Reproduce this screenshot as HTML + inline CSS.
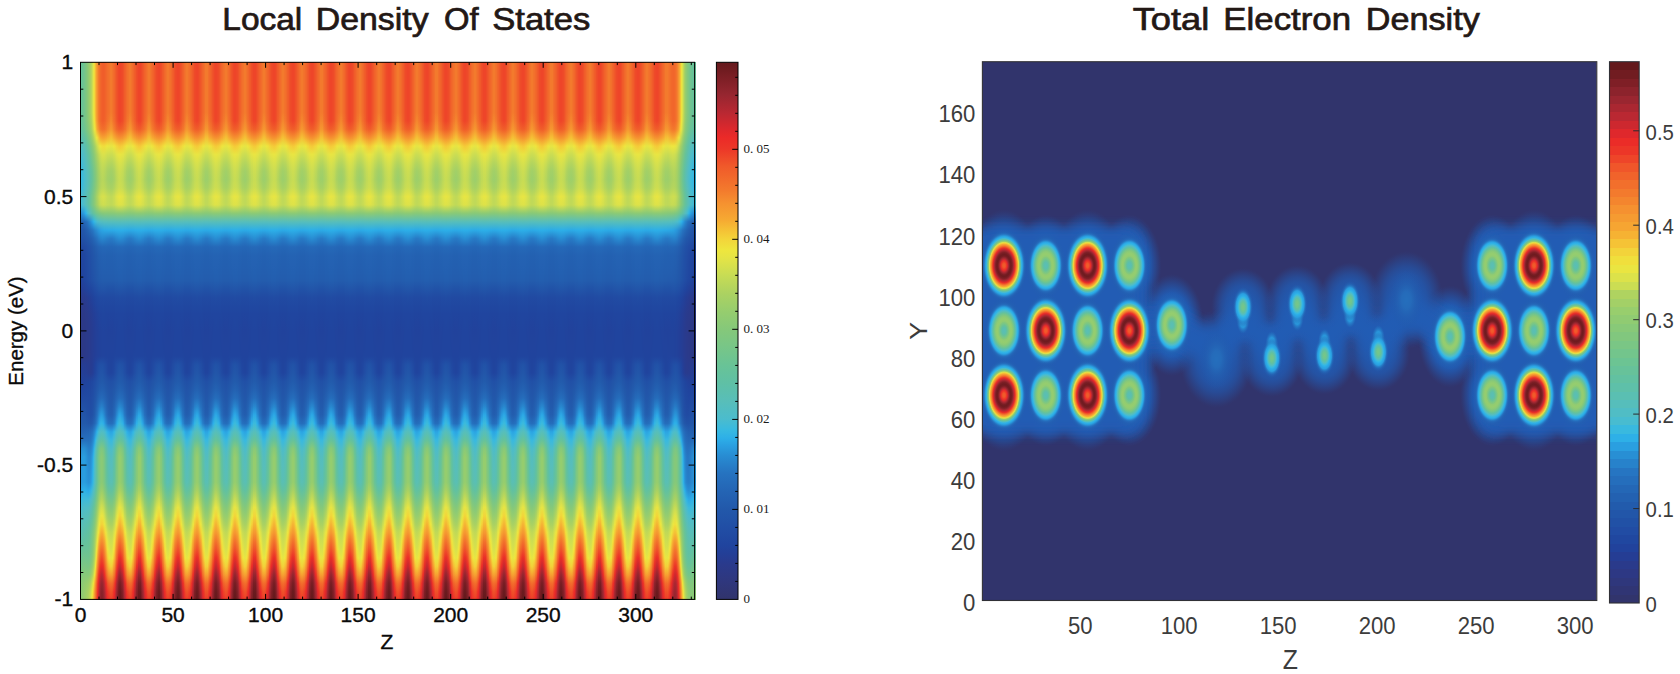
<!DOCTYPE html>
<html><head><meta charset="utf-8"><title>Density plots</title>
<style>html,body{margin:0;padding:0;background:#fff}svg{display:block}text{font-family:"Liberation Sans",sans-serif}</style></head>
<body>
<svg width="1680" height="674" viewBox="0 0 1680 674">
<defs>
<linearGradient id="e80" x1="0" y1="0" x2="0" y2="1"><stop offset="0" stop-color="#66c29a"/><stop offset="0.01562" stop-color="#66c29a"/><stop offset="0.03125" stop-color="#66c29a"/><stop offset="0.04688" stop-color="#66c29a"/><stop offset="0.0625" stop-color="#66c29a"/><stop offset="0.07812" stop-color="#66c29a"/><stop offset="0.09375" stop-color="#66c29a"/><stop offset="0.1094" stop-color="#66c29a"/><stop offset="0.125" stop-color="#63c19f"/><stop offset="0.1406" stop-color="#5bbfb1"/><stop offset="0.1562" stop-color="#51bdc3"/><stop offset="0.1719" stop-color="#48bcd0"/><stop offset="0.1875" stop-color="#3ebada"/><stop offset="0.2031" stop-color="#37b9e1"/><stop offset="0.2188" stop-color="#35b7e2"/><stop offset="0.2344" stop-color="#38b9e0"/><stop offset="0.25" stop-color="#47bbd1"/><stop offset="0.2656" stop-color="#41bad7"/><stop offset="0.2812" stop-color="#288ed3"/><stop offset="0.2969" stop-color="#2461b2"/><stop offset="0.3125" stop-color="#2255a8"/><stop offset="0.3281" stop-color="#2150a6"/><stop offset="0.3438" stop-color="#2047a0"/><stop offset="0.3594" stop-color="#20459f"/><stop offset="0.375" stop-color="#20449e"/><stop offset="0.3906" stop-color="#20439d"/><stop offset="0.4062" stop-color="#21429c"/><stop offset="0.4219" stop-color="#243e95"/><stop offset="0.4375" stop-color="#2a3a8c"/><stop offset="0.4531" stop-color="#2b3989"/><stop offset="0.4688" stop-color="#2c3987"/><stop offset="0.4844" stop-color="#2c3986"/><stop offset="0.5" stop-color="#2c3986"/><stop offset="0.5156" stop-color="#2c3986"/><stop offset="0.5312" stop-color="#2c3986"/><stop offset="0.5469" stop-color="#2c3986"/><stop offset="0.5625" stop-color="#273c91"/><stop offset="0.5781" stop-color="#253e95"/><stop offset="0.5938" stop-color="#224099"/><stop offset="0.6094" stop-color="#20449e"/><stop offset="0.625" stop-color="#2048a1"/><stop offset="0.6406" stop-color="#214ea5"/><stop offset="0.6562" stop-color="#2153a7"/><stop offset="0.6719" stop-color="#2257aa"/><stop offset="0.6875" stop-color="#2360b1"/><stop offset="0.7031" stop-color="#256cba"/><stop offset="0.7188" stop-color="#2886ce"/><stop offset="0.7344" stop-color="#2992d6"/><stop offset="0.75" stop-color="#2992d6"/><stop offset="0.7656" stop-color="#2992d7"/><stop offset="0.7812" stop-color="#2992d7"/><stop offset="0.7969" stop-color="#2aa2e2"/><stop offset="0.8125" stop-color="#32b4e4"/><stop offset="0.8281" stop-color="#43bbd5"/><stop offset="0.8438" stop-color="#4ebcc9"/><stop offset="0.8594" stop-color="#54bdc0"/><stop offset="0.875" stop-color="#59beb5"/><stop offset="0.8906" stop-color="#5dc0a9"/><stop offset="0.9062" stop-color="#63c19f"/><stop offset="0.9219" stop-color="#69c396"/><stop offset="0.9375" stop-color="#73c58c"/><stop offset="0.9531" stop-color="#7cc783"/><stop offset="0.9688" stop-color="#84c87b"/><stop offset="0.9844" stop-color="#88c978"/><stop offset="1" stop-color="#8bca76"/></linearGradient>
<linearGradient id="e81" x1="0" y1="0" x2="0" y2="1"><stop offset="0" stop-color="#67c398"/><stop offset="0.01562" stop-color="#67c398"/><stop offset="0.03125" stop-color="#67c398"/><stop offset="0.04688" stop-color="#67c398"/><stop offset="0.0625" stop-color="#67c398"/><stop offset="0.07812" stop-color="#67c398"/><stop offset="0.09375" stop-color="#67c398"/><stop offset="0.1094" stop-color="#67c398"/><stop offset="0.125" stop-color="#64c19e"/><stop offset="0.1406" stop-color="#5cbfaf"/><stop offset="0.1562" stop-color="#53bdc1"/><stop offset="0.1719" stop-color="#4bbccd"/><stop offset="0.1875" stop-color="#40bad8"/><stop offset="0.2031" stop-color="#3ab9de"/><stop offset="0.2188" stop-color="#37b9e1"/><stop offset="0.2344" stop-color="#3abade"/><stop offset="0.25" stop-color="#49bccf"/><stop offset="0.2656" stop-color="#43bbd5"/><stop offset="0.2812" stop-color="#288fd5"/><stop offset="0.2969" stop-color="#2462b2"/><stop offset="0.3125" stop-color="#2255a9"/><stop offset="0.3281" stop-color="#2150a6"/><stop offset="0.3438" stop-color="#2047a0"/><stop offset="0.3594" stop-color="#20459f"/><stop offset="0.375" stop-color="#20449e"/><stop offset="0.3906" stop-color="#20449d"/><stop offset="0.4062" stop-color="#21429c"/><stop offset="0.4219" stop-color="#243e96"/><stop offset="0.4375" stop-color="#2a3a8c"/><stop offset="0.4531" stop-color="#2b3a8a"/><stop offset="0.4688" stop-color="#2c3987"/><stop offset="0.4844" stop-color="#2c3987"/><stop offset="0.5" stop-color="#2c3986"/><stop offset="0.5156" stop-color="#2c3986"/><stop offset="0.5312" stop-color="#2c3986"/><stop offset="0.5469" stop-color="#2c3986"/><stop offset="0.5625" stop-color="#263c92"/><stop offset="0.5781" stop-color="#243e96"/><stop offset="0.5938" stop-color="#22419a"/><stop offset="0.6094" stop-color="#20449e"/><stop offset="0.625" stop-color="#2049a1"/><stop offset="0.6406" stop-color="#214fa5"/><stop offset="0.6562" stop-color="#2254a8"/><stop offset="0.6719" stop-color="#2258aa"/><stop offset="0.6875" stop-color="#2361b1"/><stop offset="0.7031" stop-color="#256dbc"/><stop offset="0.7188" stop-color="#288bd1"/><stop offset="0.7344" stop-color="#2998db"/><stop offset="0.75" stop-color="#2998db"/><stop offset="0.7656" stop-color="#2998db"/><stop offset="0.7812" stop-color="#2998db"/><stop offset="0.7969" stop-color="#2ca9e5"/><stop offset="0.8125" stop-color="#36b8e1"/><stop offset="0.8281" stop-color="#48bcd0"/><stop offset="0.8438" stop-color="#50bdc5"/><stop offset="0.8594" stop-color="#56bebc"/><stop offset="0.875" stop-color="#5abfb2"/><stop offset="0.8906" stop-color="#5fc0a5"/><stop offset="0.9062" stop-color="#65c29c"/><stop offset="0.9219" stop-color="#6dc492"/><stop offset="0.9375" stop-color="#77c688"/><stop offset="0.9531" stop-color="#80c77f"/><stop offset="0.9688" stop-color="#88c978"/><stop offset="0.9844" stop-color="#8dca75"/><stop offset="1" stop-color="#8fcb73"/></linearGradient>
<linearGradient id="e82" x1="0" y1="0" x2="0" y2="1"><stop offset="0" stop-color="#6ac395"/><stop offset="0.01562" stop-color="#6ac395"/><stop offset="0.03125" stop-color="#6ac395"/><stop offset="0.04688" stop-color="#6ac395"/><stop offset="0.0625" stop-color="#6ac395"/><stop offset="0.07812" stop-color="#6ac395"/><stop offset="0.09375" stop-color="#6ac395"/><stop offset="0.1094" stop-color="#6ac395"/><stop offset="0.125" stop-color="#66c29b"/><stop offset="0.1406" stop-color="#5dbfab"/><stop offset="0.1562" stop-color="#55bebe"/><stop offset="0.1719" stop-color="#4dbcca"/><stop offset="0.1875" stop-color="#45bbd3"/><stop offset="0.2031" stop-color="#3fbad9"/><stop offset="0.2188" stop-color="#3cbadc"/><stop offset="0.2344" stop-color="#3fbad9"/><stop offset="0.25" stop-color="#4cbccb"/><stop offset="0.2656" stop-color="#48bcd0"/><stop offset="0.2812" stop-color="#2994d8"/><stop offset="0.2969" stop-color="#2463b3"/><stop offset="0.3125" stop-color="#2256a9"/><stop offset="0.3281" stop-color="#2151a6"/><stop offset="0.3438" stop-color="#2048a1"/><stop offset="0.3594" stop-color="#20459f"/><stop offset="0.375" stop-color="#20459f"/><stop offset="0.3906" stop-color="#20449e"/><stop offset="0.4062" stop-color="#21439d"/><stop offset="0.4219" stop-color="#243e96"/><stop offset="0.4375" stop-color="#2a3a8d"/><stop offset="0.4531" stop-color="#2b3a8a"/><stop offset="0.4688" stop-color="#2b3988"/><stop offset="0.4844" stop-color="#2c3987"/><stop offset="0.5" stop-color="#2c3986"/><stop offset="0.5156" stop-color="#2c3986"/><stop offset="0.5312" stop-color="#2c3986"/><stop offset="0.5469" stop-color="#2c3986"/><stop offset="0.5625" stop-color="#263d93"/><stop offset="0.5781" stop-color="#243f97"/><stop offset="0.5938" stop-color="#22419b"/><stop offset="0.6094" stop-color="#20459f"/><stop offset="0.625" stop-color="#2149a2"/><stop offset="0.6406" stop-color="#2150a6"/><stop offset="0.6562" stop-color="#2255a8"/><stop offset="0.6719" stop-color="#2259ab"/><stop offset="0.6875" stop-color="#2462b2"/><stop offset="0.7031" stop-color="#256fbd"/><stop offset="0.7188" stop-color="#288fd4"/><stop offset="0.7344" stop-color="#2a9cde"/><stop offset="0.75" stop-color="#2a9cde"/><stop offset="0.7656" stop-color="#2a9cde"/><stop offset="0.7812" stop-color="#2a9cde"/><stop offset="0.7969" stop-color="#2daee8"/><stop offset="0.8125" stop-color="#3bbadd"/><stop offset="0.8281" stop-color="#4cbccc"/><stop offset="0.8438" stop-color="#52bdc2"/><stop offset="0.8594" stop-color="#58beb9"/><stop offset="0.875" stop-color="#5cbfae"/><stop offset="0.8906" stop-color="#61c0a3"/><stop offset="0.9062" stop-color="#67c299"/><stop offset="0.9219" stop-color="#70c48f"/><stop offset="0.9375" stop-color="#7ac685"/><stop offset="0.9531" stop-color="#83c87c"/><stop offset="0.9688" stop-color="#8cca75"/><stop offset="0.9844" stop-color="#91cb72"/><stop offset="1" stop-color="#93cc70"/></linearGradient>
<linearGradient id="e83" x1="0" y1="0" x2="0" y2="1"><stop offset="0" stop-color="#6ec491"/><stop offset="0.01562" stop-color="#6ec491"/><stop offset="0.03125" stop-color="#6ec491"/><stop offset="0.04688" stop-color="#6ec491"/><stop offset="0.0625" stop-color="#6ec491"/><stop offset="0.07812" stop-color="#6ec491"/><stop offset="0.09375" stop-color="#6ec491"/><stop offset="0.1094" stop-color="#6ec491"/><stop offset="0.125" stop-color="#68c397"/><stop offset="0.1406" stop-color="#5fc0a6"/><stop offset="0.1562" stop-color="#58beb9"/><stop offset="0.1719" stop-color="#50bdc5"/><stop offset="0.1875" stop-color="#4cbccc"/><stop offset="0.2031" stop-color="#45bbd3"/><stop offset="0.2188" stop-color="#42bbd6"/><stop offset="0.2344" stop-color="#46bbd2"/><stop offset="0.25" stop-color="#4fbdc6"/><stop offset="0.2656" stop-color="#4dbcca"/><stop offset="0.2812" stop-color="#299bdd"/><stop offset="0.2969" stop-color="#2465b5"/><stop offset="0.3125" stop-color="#2257a9"/><stop offset="0.3281" stop-color="#2152a7"/><stop offset="0.3438" stop-color="#2049a1"/><stop offset="0.3594" stop-color="#2046a0"/><stop offset="0.375" stop-color="#20459f"/><stop offset="0.3906" stop-color="#20459f"/><stop offset="0.4062" stop-color="#20449e"/><stop offset="0.4219" stop-color="#233f97"/><stop offset="0.4375" stop-color="#293b8e"/><stop offset="0.4531" stop-color="#2a3a8b"/><stop offset="0.4688" stop-color="#2b3988"/><stop offset="0.4844" stop-color="#2b3988"/><stop offset="0.5" stop-color="#2c3987"/><stop offset="0.5156" stop-color="#2c3987"/><stop offset="0.5312" stop-color="#2c3987"/><stop offset="0.5469" stop-color="#2c3987"/><stop offset="0.5625" stop-color="#263d93"/><stop offset="0.5781" stop-color="#243f97"/><stop offset="0.5938" stop-color="#21429b"/><stop offset="0.6094" stop-color="#20459f"/><stop offset="0.625" stop-color="#214aa2"/><stop offset="0.6406" stop-color="#2150a6"/><stop offset="0.6562" stop-color="#2255a8"/><stop offset="0.6719" stop-color="#2259ab"/><stop offset="0.6875" stop-color="#2463b3"/><stop offset="0.7031" stop-color="#2670bd"/><stop offset="0.7188" stop-color="#2890d5"/><stop offset="0.7344" stop-color="#2a9edf"/><stop offset="0.75" stop-color="#2a9ee0"/><stop offset="0.7656" stop-color="#2a9ee0"/><stop offset="0.7812" stop-color="#2a9ee0"/><stop offset="0.7969" stop-color="#2eb0e7"/><stop offset="0.8125" stop-color="#3ebada"/><stop offset="0.8281" stop-color="#4dbcc9"/><stop offset="0.8438" stop-color="#54bdbf"/><stop offset="0.8594" stop-color="#59beb6"/><stop offset="0.875" stop-color="#5dbfab"/><stop offset="0.8906" stop-color="#62c1a0"/><stop offset="0.9062" stop-color="#68c397"/><stop offset="0.9219" stop-color="#72c58d"/><stop offset="0.9375" stop-color="#7bc784"/><stop offset="0.9531" stop-color="#85c87a"/><stop offset="0.9688" stop-color="#8fcb73"/><stop offset="0.9844" stop-color="#94cd6f"/><stop offset="1" stop-color="#97cd6d"/></linearGradient>
<linearGradient id="e84" x1="0" y1="0" x2="0" y2="1"><stop offset="0" stop-color="#73c58c"/><stop offset="0.01562" stop-color="#73c58c"/><stop offset="0.03125" stop-color="#73c58c"/><stop offset="0.04688" stop-color="#73c58c"/><stop offset="0.0625" stop-color="#73c58c"/><stop offset="0.07812" stop-color="#73c58c"/><stop offset="0.09375" stop-color="#73c58c"/><stop offset="0.1094" stop-color="#73c58c"/><stop offset="0.125" stop-color="#6dc492"/><stop offset="0.1406" stop-color="#62c1a1"/><stop offset="0.1562" stop-color="#5abfb3"/><stop offset="0.1719" stop-color="#54bdbf"/><stop offset="0.1875" stop-color="#4fbdc7"/><stop offset="0.2031" stop-color="#4cbccc"/><stop offset="0.2188" stop-color="#4abcce"/><stop offset="0.2344" stop-color="#4cbccb"/><stop offset="0.25" stop-color="#53bdc1"/><stop offset="0.2656" stop-color="#51bdc4"/><stop offset="0.2812" stop-color="#2ba4e3"/><stop offset="0.2969" stop-color="#2467b7"/><stop offset="0.3125" stop-color="#2259ab"/><stop offset="0.3281" stop-color="#2153a7"/><stop offset="0.3438" stop-color="#214aa2"/><stop offset="0.3594" stop-color="#2047a0"/><stop offset="0.375" stop-color="#2046a0"/><stop offset="0.3906" stop-color="#20469f"/><stop offset="0.4062" stop-color="#20459f"/><stop offset="0.4219" stop-color="#234098"/><stop offset="0.4375" stop-color="#283b8f"/><stop offset="0.4531" stop-color="#2a3a8c"/><stop offset="0.4688" stop-color="#2b3989"/><stop offset="0.4844" stop-color="#2b3988"/><stop offset="0.5" stop-color="#2b3988"/><stop offset="0.5156" stop-color="#2b3988"/><stop offset="0.5312" stop-color="#2b3988"/><stop offset="0.5469" stop-color="#2b3988"/><stop offset="0.5625" stop-color="#263d93"/><stop offset="0.5781" stop-color="#243e97"/><stop offset="0.5938" stop-color="#21429c"/><stop offset="0.6094" stop-color="#20469f"/><stop offset="0.625" stop-color="#214aa2"/><stop offset="0.6406" stop-color="#2150a6"/><stop offset="0.6562" stop-color="#2254a8"/><stop offset="0.6719" stop-color="#2259ab"/><stop offset="0.6875" stop-color="#2464b4"/><stop offset="0.7031" stop-color="#2670be"/><stop offset="0.7188" stop-color="#288fd4"/><stop offset="0.7344" stop-color="#2a9dde"/><stop offset="0.75" stop-color="#2a9ddf"/><stop offset="0.7656" stop-color="#2a9edf"/><stop offset="0.7812" stop-color="#2a9ee0"/><stop offset="0.7969" stop-color="#2fb1e7"/><stop offset="0.8125" stop-color="#3fbad9"/><stop offset="0.8281" stop-color="#4fbdc8"/><stop offset="0.8438" stop-color="#55bebd"/><stop offset="0.8594" stop-color="#5abfb3"/><stop offset="0.875" stop-color="#5ec0a9"/><stop offset="0.8906" stop-color="#63c19f"/><stop offset="0.9062" stop-color="#69c396"/><stop offset="0.9219" stop-color="#72c58d"/><stop offset="0.9375" stop-color="#7cc783"/><stop offset="0.9531" stop-color="#87c879"/><stop offset="0.9688" stop-color="#92cc71"/><stop offset="0.9844" stop-color="#98ce6d"/><stop offset="1" stop-color="#9cce6a"/></linearGradient>
<linearGradient id="e85" x1="0" y1="0" x2="0" y2="1"><stop offset="0" stop-color="#7ac685"/><stop offset="0.01562" stop-color="#7ac685"/><stop offset="0.03125" stop-color="#7ac685"/><stop offset="0.04688" stop-color="#7ac685"/><stop offset="0.0625" stop-color="#7ac685"/><stop offset="0.07812" stop-color="#7ac685"/><stop offset="0.09375" stop-color="#7ac685"/><stop offset="0.1094" stop-color="#79c686"/><stop offset="0.125" stop-color="#73c58c"/><stop offset="0.1406" stop-color="#66c29b"/><stop offset="0.1562" stop-color="#5dbfac"/><stop offset="0.1719" stop-color="#58beb8"/><stop offset="0.1875" stop-color="#53bdc0"/><stop offset="0.2031" stop-color="#4fbdc6"/><stop offset="0.2188" stop-color="#4ebcc8"/><stop offset="0.2344" stop-color="#50bdc5"/><stop offset="0.25" stop-color="#57beba"/><stop offset="0.2656" stop-color="#55bebd"/><stop offset="0.2812" stop-color="#2eb0e7"/><stop offset="0.2969" stop-color="#256bba"/><stop offset="0.3125" stop-color="#235bad"/><stop offset="0.3281" stop-color="#2254a8"/><stop offset="0.3438" stop-color="#214ba3"/><stop offset="0.3594" stop-color="#2048a1"/><stop offset="0.375" stop-color="#2048a1"/><stop offset="0.3906" stop-color="#2047a0"/><stop offset="0.4062" stop-color="#20469f"/><stop offset="0.4219" stop-color="#22419a"/><stop offset="0.4375" stop-color="#283c90"/><stop offset="0.4531" stop-color="#2a3a8d"/><stop offset="0.4688" stop-color="#2b3a8a"/><stop offset="0.4844" stop-color="#2b3989"/><stop offset="0.5" stop-color="#2b3989"/><stop offset="0.5156" stop-color="#2b3989"/><stop offset="0.5312" stop-color="#2b3989"/><stop offset="0.5469" stop-color="#2b3989"/><stop offset="0.5625" stop-color="#263d93"/><stop offset="0.5781" stop-color="#243e96"/><stop offset="0.5938" stop-color="#21439c"/><stop offset="0.6094" stop-color="#20469f"/><stop offset="0.625" stop-color="#214aa2"/><stop offset="0.6406" stop-color="#214fa6"/><stop offset="0.6562" stop-color="#2254a8"/><stop offset="0.6719" stop-color="#2259ab"/><stop offset="0.6875" stop-color="#2464b4"/><stop offset="0.7031" stop-color="#2670be"/><stop offset="0.7188" stop-color="#288cd2"/><stop offset="0.7344" stop-color="#2999dc"/><stop offset="0.75" stop-color="#299adc"/><stop offset="0.7656" stop-color="#299bdd"/><stop offset="0.7812" stop-color="#2a9cde"/><stop offset="0.7969" stop-color="#2eb0e7"/><stop offset="0.8125" stop-color="#3fbad9"/><stop offset="0.8281" stop-color="#4fbdc7"/><stop offset="0.8438" stop-color="#56bebc"/><stop offset="0.8594" stop-color="#5bbfb1"/><stop offset="0.875" stop-color="#5fc0a6"/><stop offset="0.8906" stop-color="#64c19e"/><stop offset="0.9062" stop-color="#69c396"/><stop offset="0.9219" stop-color="#72c58d"/><stop offset="0.9375" stop-color="#7cc783"/><stop offset="0.9531" stop-color="#87c979"/><stop offset="0.9688" stop-color="#94cc6f"/><stop offset="0.9844" stop-color="#9cce6a"/><stop offset="1" stop-color="#a1cf68"/></linearGradient>
<linearGradient id="e86" x1="0" y1="0" x2="0" y2="1"><stop offset="0" stop-color="#80c77f"/><stop offset="0.01562" stop-color="#80c77f"/><stop offset="0.03125" stop-color="#80c77f"/><stop offset="0.04688" stop-color="#80c77f"/><stop offset="0.0625" stop-color="#80c77f"/><stop offset="0.07812" stop-color="#80c77f"/><stop offset="0.09375" stop-color="#80c77f"/><stop offset="0.1094" stop-color="#7fc780"/><stop offset="0.125" stop-color="#7ac685"/><stop offset="0.1406" stop-color="#6ac395"/><stop offset="0.1562" stop-color="#60c0a4"/><stop offset="0.1719" stop-color="#5bbfb1"/><stop offset="0.1875" stop-color="#58beb9"/><stop offset="0.2031" stop-color="#54bdc0"/><stop offset="0.2188" stop-color="#52bdc2"/><stop offset="0.2344" stop-color="#55bdbe"/><stop offset="0.25" stop-color="#5abfb3"/><stop offset="0.2656" stop-color="#59beb5"/><stop offset="0.2812" stop-color="#36b8e1"/><stop offset="0.2969" stop-color="#256fbd"/><stop offset="0.3125" stop-color="#235eaf"/><stop offset="0.3281" stop-color="#2255a9"/><stop offset="0.3438" stop-color="#214ca4"/><stop offset="0.3594" stop-color="#214aa2"/><stop offset="0.375" stop-color="#2049a1"/><stop offset="0.3906" stop-color="#2048a1"/><stop offset="0.4062" stop-color="#2047a0"/><stop offset="0.4219" stop-color="#22429b"/><stop offset="0.4375" stop-color="#273c91"/><stop offset="0.4531" stop-color="#293b8e"/><stop offset="0.4688" stop-color="#2a3a8b"/><stop offset="0.4844" stop-color="#2b3a8a"/><stop offset="0.5" stop-color="#2b3a8a"/><stop offset="0.5156" stop-color="#2b3a8a"/><stop offset="0.5312" stop-color="#2b3a8a"/><stop offset="0.5469" stop-color="#2b3a8a"/><stop offset="0.5625" stop-color="#263c92"/><stop offset="0.5781" stop-color="#253e95"/><stop offset="0.5938" stop-color="#21439d"/><stop offset="0.6094" stop-color="#2046a0"/><stop offset="0.625" stop-color="#214aa2"/><stop offset="0.6406" stop-color="#214ea5"/><stop offset="0.6562" stop-color="#2152a7"/><stop offset="0.6719" stop-color="#2258aa"/><stop offset="0.6875" stop-color="#2465b5"/><stop offset="0.7031" stop-color="#2670be"/><stop offset="0.7188" stop-color="#2888cf"/><stop offset="0.7344" stop-color="#2994d8"/><stop offset="0.75" stop-color="#2995d9"/><stop offset="0.7656" stop-color="#2997da"/><stop offset="0.7812" stop-color="#2999db"/><stop offset="0.7969" stop-color="#2daee7"/><stop offset="0.8125" stop-color="#3fbad9"/><stop offset="0.8281" stop-color="#50bdc6"/><stop offset="0.8438" stop-color="#57beba"/><stop offset="0.8594" stop-color="#5bbfaf"/><stop offset="0.875" stop-color="#5fc0a4"/><stop offset="0.8906" stop-color="#64c29d"/><stop offset="0.9062" stop-color="#69c396"/><stop offset="0.9219" stop-color="#71c58e"/><stop offset="0.9375" stop-color="#7bc684"/><stop offset="0.9531" stop-color="#87c879"/><stop offset="0.9688" stop-color="#96cd6e"/><stop offset="0.9844" stop-color="#a0cf68"/><stop offset="1" stop-color="#a6d165"/></linearGradient>
<linearGradient id="e87" x1="0" y1="0" x2="0" y2="1"><stop offset="0" stop-color="#88c978"/><stop offset="0.01562" stop-color="#88c978"/><stop offset="0.03125" stop-color="#88c978"/><stop offset="0.04688" stop-color="#88c978"/><stop offset="0.0625" stop-color="#88c978"/><stop offset="0.07812" stop-color="#88c978"/><stop offset="0.09375" stop-color="#88c978"/><stop offset="0.1094" stop-color="#86c87a"/><stop offset="0.125" stop-color="#80c77f"/><stop offset="0.1406" stop-color="#71c58e"/><stop offset="0.1562" stop-color="#64c29d"/><stop offset="0.1719" stop-color="#5ec0a8"/><stop offset="0.1875" stop-color="#5bbfb1"/><stop offset="0.2031" stop-color="#58beb9"/><stop offset="0.2188" stop-color="#56bebc"/><stop offset="0.2344" stop-color="#59beb7"/><stop offset="0.25" stop-color="#5dbfab"/><stop offset="0.2656" stop-color="#5cbfad"/><stop offset="0.2812" stop-color="#43bbd5"/><stop offset="0.2969" stop-color="#2674c0"/><stop offset="0.3125" stop-color="#2361b1"/><stop offset="0.3281" stop-color="#2257a9"/><stop offset="0.3438" stop-color="#214ea5"/><stop offset="0.3594" stop-color="#214ba3"/><stop offset="0.375" stop-color="#214aa2"/><stop offset="0.3906" stop-color="#214aa2"/><stop offset="0.4062" stop-color="#2049a1"/><stop offset="0.4219" stop-color="#21439c"/><stop offset="0.4375" stop-color="#263d93"/><stop offset="0.4531" stop-color="#283b90"/><stop offset="0.4688" stop-color="#2a3a8c"/><stop offset="0.4844" stop-color="#2a3a8b"/><stop offset="0.5" stop-color="#2a3a8b"/><stop offset="0.5156" stop-color="#2a3a8b"/><stop offset="0.5312" stop-color="#2a3a8b"/><stop offset="0.5469" stop-color="#2a3a8b"/><stop offset="0.5625" stop-color="#273c91"/><stop offset="0.5781" stop-color="#263d93"/><stop offset="0.5938" stop-color="#20449d"/><stop offset="0.6094" stop-color="#2047a0"/><stop offset="0.625" stop-color="#214aa2"/><stop offset="0.6406" stop-color="#214da5"/><stop offset="0.6562" stop-color="#2151a6"/><stop offset="0.6719" stop-color="#2257aa"/><stop offset="0.6875" stop-color="#2466b5"/><stop offset="0.7031" stop-color="#2670bd"/><stop offset="0.7188" stop-color="#2784cc"/><stop offset="0.7344" stop-color="#288ed4"/><stop offset="0.75" stop-color="#2890d5"/><stop offset="0.7656" stop-color="#2993d7"/><stop offset="0.7812" stop-color="#2995d9"/><stop offset="0.7969" stop-color="#2cace6"/><stop offset="0.8125" stop-color="#3fbad9"/><stop offset="0.8281" stop-color="#50bdc5"/><stop offset="0.8438" stop-color="#58beb9"/><stop offset="0.8594" stop-color="#5cbfad"/><stop offset="0.875" stop-color="#61c1a2"/><stop offset="0.8906" stop-color="#65c29c"/><stop offset="0.9062" stop-color="#6ac395"/><stop offset="0.9219" stop-color="#71c58e"/><stop offset="0.9375" stop-color="#7bc684"/><stop offset="0.9531" stop-color="#87c879"/><stop offset="0.9688" stop-color="#98ce6d"/><stop offset="0.9844" stop-color="#a5d065"/><stop offset="1" stop-color="#acd261"/></linearGradient>
<linearGradient id="e88" x1="0" y1="0" x2="0" y2="1"><stop offset="0" stop-color="#91cb72"/><stop offset="0.01562" stop-color="#91cb72"/><stop offset="0.03125" stop-color="#91cb72"/><stop offset="0.04688" stop-color="#91cb72"/><stop offset="0.0625" stop-color="#91cb72"/><stop offset="0.07812" stop-color="#91cb72"/><stop offset="0.09375" stop-color="#91cb72"/><stop offset="0.1094" stop-color="#8ecb74"/><stop offset="0.125" stop-color="#87c979"/><stop offset="0.1406" stop-color="#79c686"/><stop offset="0.1562" stop-color="#69c396"/><stop offset="0.1719" stop-color="#62c1a1"/><stop offset="0.1875" stop-color="#5ec0a9"/><stop offset="0.2031" stop-color="#5bbfb2"/><stop offset="0.2188" stop-color="#59beb5"/><stop offset="0.2344" stop-color="#5cbfaf"/><stop offset="0.25" stop-color="#60c0a3"/><stop offset="0.2656" stop-color="#5fc0a4"/><stop offset="0.2812" stop-color="#4dbcc9"/><stop offset="0.2969" stop-color="#277cc7"/><stop offset="0.3125" stop-color="#2464b4"/><stop offset="0.3281" stop-color="#2258aa"/><stop offset="0.3438" stop-color="#2150a6"/><stop offset="0.3594" stop-color="#214da4"/><stop offset="0.375" stop-color="#214ca4"/><stop offset="0.3906" stop-color="#214ba3"/><stop offset="0.4062" stop-color="#214aa2"/><stop offset="0.4219" stop-color="#20449e"/><stop offset="0.4375" stop-color="#253d95"/><stop offset="0.4531" stop-color="#273c91"/><stop offset="0.4688" stop-color="#293b8e"/><stop offset="0.4844" stop-color="#2a3a8d"/><stop offset="0.5" stop-color="#2a3a8c"/><stop offset="0.5156" stop-color="#2a3a8c"/><stop offset="0.5312" stop-color="#2a3a8c"/><stop offset="0.5469" stop-color="#2a3a8d"/><stop offset="0.5625" stop-color="#273c91"/><stop offset="0.5781" stop-color="#263c92"/><stop offset="0.5938" stop-color="#20449e"/><stop offset="0.6094" stop-color="#2047a0"/><stop offset="0.625" stop-color="#214aa2"/><stop offset="0.6406" stop-color="#214da4"/><stop offset="0.6562" stop-color="#2150a6"/><stop offset="0.6719" stop-color="#2256a9"/><stop offset="0.6875" stop-color="#2466b6"/><stop offset="0.7031" stop-color="#2670bd"/><stop offset="0.7188" stop-color="#2780ca"/><stop offset="0.7344" stop-color="#288ad1"/><stop offset="0.75" stop-color="#288dd3"/><stop offset="0.7656" stop-color="#2890d5"/><stop offset="0.7812" stop-color="#2993d7"/><stop offset="0.7969" stop-color="#2cabe6"/><stop offset="0.8125" stop-color="#40bad8"/><stop offset="0.8281" stop-color="#52bdc3"/><stop offset="0.8438" stop-color="#59beb6"/><stop offset="0.8594" stop-color="#5dc0a9"/><stop offset="0.875" stop-color="#63c19f"/><stop offset="0.8906" stop-color="#67c299"/><stop offset="0.9062" stop-color="#6bc394"/><stop offset="0.9219" stop-color="#71c58e"/><stop offset="0.9375" stop-color="#7bc784"/><stop offset="0.9531" stop-color="#88c978"/><stop offset="0.9688" stop-color="#9dcf6a"/><stop offset="0.9844" stop-color="#abd262"/><stop offset="1" stop-color="#b5d55d"/></linearGradient>
<linearGradient id="e89" x1="0" y1="0" x2="0" y2="1"><stop offset="0" stop-color="#9bce6b"/><stop offset="0.01562" stop-color="#9bce6b"/><stop offset="0.03125" stop-color="#9bce6b"/><stop offset="0.04688" stop-color="#9bce6b"/><stop offset="0.0625" stop-color="#9bce6b"/><stop offset="0.07812" stop-color="#9bce6b"/><stop offset="0.09375" stop-color="#9bce6b"/><stop offset="0.1094" stop-color="#97cd6d"/><stop offset="0.125" stop-color="#8fcb73"/><stop offset="0.1406" stop-color="#80c77f"/><stop offset="0.1562" stop-color="#70c48f"/><stop offset="0.1719" stop-color="#67c299"/><stop offset="0.1875" stop-color="#61c1a2"/><stop offset="0.2031" stop-color="#5dbfaa"/><stop offset="0.2188" stop-color="#5cbfad"/><stop offset="0.2344" stop-color="#5ec0a7"/><stop offset="0.25" stop-color="#64c29d"/><stop offset="0.2656" stop-color="#64c29d"/><stop offset="0.2812" stop-color="#53bdc0"/><stop offset="0.2969" stop-color="#2785cd"/><stop offset="0.3125" stop-color="#2468b7"/><stop offset="0.3281" stop-color="#225aac"/><stop offset="0.3438" stop-color="#2151a7"/><stop offset="0.3594" stop-color="#214ea5"/><stop offset="0.375" stop-color="#214ea5"/><stop offset="0.3906" stop-color="#214da4"/><stop offset="0.4062" stop-color="#214ca3"/><stop offset="0.4219" stop-color="#20459f"/><stop offset="0.4375" stop-color="#243e96"/><stop offset="0.4531" stop-color="#263d93"/><stop offset="0.4688" stop-color="#283b8f"/><stop offset="0.4844" stop-color="#293b8e"/><stop offset="0.5" stop-color="#293a8d"/><stop offset="0.5156" stop-color="#293b8e"/><stop offset="0.5312" stop-color="#293b8e"/><stop offset="0.5469" stop-color="#293b8e"/><stop offset="0.5625" stop-color="#273c90"/><stop offset="0.5781" stop-color="#273c91"/><stop offset="0.5938" stop-color="#20459e"/><stop offset="0.6094" stop-color="#2048a0"/><stop offset="0.625" stop-color="#214aa2"/><stop offset="0.6406" stop-color="#214ca4"/><stop offset="0.6562" stop-color="#214fa5"/><stop offset="0.6719" stop-color="#2256a9"/><stop offset="0.6875" stop-color="#2568b7"/><stop offset="0.7031" stop-color="#2671be"/><stop offset="0.7188" stop-color="#277fc9"/><stop offset="0.7344" stop-color="#2889d0"/><stop offset="0.75" stop-color="#288cd2"/><stop offset="0.7656" stop-color="#2890d5"/><stop offset="0.7812" stop-color="#2994d8"/><stop offset="0.7969" stop-color="#2daee8"/><stop offset="0.8125" stop-color="#45bbd3"/><stop offset="0.8281" stop-color="#54bdbf"/><stop offset="0.8438" stop-color="#5bbfb1"/><stop offset="0.8594" stop-color="#5fc0a4"/><stop offset="0.875" stop-color="#66c29b"/><stop offset="0.8906" stop-color="#69c396"/><stop offset="0.9062" stop-color="#6ec491"/><stop offset="0.9219" stop-color="#74c58b"/><stop offset="0.9375" stop-color="#7ec781"/><stop offset="0.9531" stop-color="#8cca75"/><stop offset="0.9688" stop-color="#a4d066"/><stop offset="0.9844" stop-color="#b6d55c"/><stop offset="1" stop-color="#c1da57"/></linearGradient>
<linearGradient id="e90" x1="0" y1="0" x2="0" y2="1"><stop offset="0" stop-color="#a7d164"/><stop offset="0.01562" stop-color="#a7d164"/><stop offset="0.03125" stop-color="#a7d164"/><stop offset="0.04688" stop-color="#a7d164"/><stop offset="0.0625" stop-color="#a7d164"/><stop offset="0.07812" stop-color="#a7d164"/><stop offset="0.09375" stop-color="#a7d164"/><stop offset="0.1094" stop-color="#a2d067"/><stop offset="0.125" stop-color="#99ce6c"/><stop offset="0.1406" stop-color="#88c978"/><stop offset="0.1562" stop-color="#78c687"/><stop offset="0.1719" stop-color="#6dc492"/><stop offset="0.1875" stop-color="#66c29b"/><stop offset="0.2031" stop-color="#61c1a2"/><stop offset="0.2188" stop-color="#5fc0a5"/><stop offset="0.2344" stop-color="#63c1a0"/><stop offset="0.25" stop-color="#69c396"/><stop offset="0.2656" stop-color="#69c396"/><stop offset="0.2812" stop-color="#59beb7"/><stop offset="0.2969" stop-color="#288ed4"/><stop offset="0.3125" stop-color="#256cba"/><stop offset="0.3281" stop-color="#235dae"/><stop offset="0.3438" stop-color="#2253a8"/><stop offset="0.3594" stop-color="#2150a6"/><stop offset="0.375" stop-color="#214fa6"/><stop offset="0.3906" stop-color="#214ea5"/><stop offset="0.4062" stop-color="#214da4"/><stop offset="0.4219" stop-color="#2046a0"/><stop offset="0.4375" stop-color="#234098"/><stop offset="0.4531" stop-color="#253d95"/><stop offset="0.4688" stop-color="#273c91"/><stop offset="0.4844" stop-color="#283b90"/><stop offset="0.5" stop-color="#283b8f"/><stop offset="0.5156" stop-color="#283b8f"/><stop offset="0.5312" stop-color="#283b8f"/><stop offset="0.5469" stop-color="#283c90"/><stop offset="0.5625" stop-color="#273c91"/><stop offset="0.5781" stop-color="#273c91"/><stop offset="0.5938" stop-color="#20459f"/><stop offset="0.6094" stop-color="#2048a1"/><stop offset="0.625" stop-color="#214ba3"/><stop offset="0.6406" stop-color="#214da4"/><stop offset="0.6562" stop-color="#214fa5"/><stop offset="0.6719" stop-color="#2257a9"/><stop offset="0.6875" stop-color="#256ab9"/><stop offset="0.7031" stop-color="#2673c0"/><stop offset="0.7188" stop-color="#2782ca"/><stop offset="0.7344" stop-color="#288cd2"/><stop offset="0.75" stop-color="#2890d5"/><stop offset="0.7656" stop-color="#2995d9"/><stop offset="0.7812" stop-color="#2999dc"/><stop offset="0.7969" stop-color="#31b3e5"/><stop offset="0.8125" stop-color="#4cbccc"/><stop offset="0.8281" stop-color="#58beb9"/><stop offset="0.8438" stop-color="#5dbfab"/><stop offset="0.8594" stop-color="#63c19f"/><stop offset="0.875" stop-color="#6ac395"/><stop offset="0.8906" stop-color="#6fc490"/><stop offset="0.9062" stop-color="#73c58c"/><stop offset="0.9219" stop-color="#79c686"/><stop offset="0.9375" stop-color="#83c87c"/><stop offset="0.9531" stop-color="#93cc70"/><stop offset="0.9688" stop-color="#b0d35f"/><stop offset="0.9844" stop-color="#c5db55"/><stop offset="1" stop-color="#d2df4f"/></linearGradient>
<linearGradient id="e91" x1="0" y1="0" x2="0" y2="1"><stop offset="0" stop-color="#b7d65c"/><stop offset="0.01562" stop-color="#b7d65c"/><stop offset="0.03125" stop-color="#b7d65c"/><stop offset="0.04688" stop-color="#b7d65c"/><stop offset="0.0625" stop-color="#b7d65c"/><stop offset="0.07812" stop-color="#b7d65c"/><stop offset="0.09375" stop-color="#b7d65c"/><stop offset="0.1094" stop-color="#b0d35f"/><stop offset="0.125" stop-color="#a6d165"/><stop offset="0.1406" stop-color="#92cc71"/><stop offset="0.1562" stop-color="#80c77f"/><stop offset="0.1719" stop-color="#75c58a"/><stop offset="0.1875" stop-color="#6cc493"/><stop offset="0.2031" stop-color="#65c29b"/><stop offset="0.2188" stop-color="#64c19e"/><stop offset="0.2344" stop-color="#67c398"/><stop offset="0.25" stop-color="#71c58e"/><stop offset="0.2656" stop-color="#71c58e"/><stop offset="0.2812" stop-color="#5cbfae"/><stop offset="0.2969" stop-color="#2999dc"/><stop offset="0.3125" stop-color="#2670bd"/><stop offset="0.3281" stop-color="#235fb0"/><stop offset="0.3438" stop-color="#2255a8"/><stop offset="0.3594" stop-color="#2152a7"/><stop offset="0.375" stop-color="#2151a6"/><stop offset="0.3906" stop-color="#2150a6"/><stop offset="0.4062" stop-color="#214fa5"/><stop offset="0.4219" stop-color="#2047a0"/><stop offset="0.4375" stop-color="#22419a"/><stop offset="0.4531" stop-color="#243e96"/><stop offset="0.4688" stop-color="#263d92"/><stop offset="0.4844" stop-color="#273c91"/><stop offset="0.5" stop-color="#273c90"/><stop offset="0.5156" stop-color="#273c91"/><stop offset="0.5312" stop-color="#273c91"/><stop offset="0.5469" stop-color="#273c92"/><stop offset="0.5625" stop-color="#263c92"/><stop offset="0.5781" stop-color="#263d92"/><stop offset="0.5938" stop-color="#2047a0"/><stop offset="0.6094" stop-color="#214aa2"/><stop offset="0.625" stop-color="#214ca4"/><stop offset="0.6406" stop-color="#214ea5"/><stop offset="0.6562" stop-color="#2150a6"/><stop offset="0.6719" stop-color="#2258aa"/><stop offset="0.6875" stop-color="#256ebc"/><stop offset="0.7031" stop-color="#2679c4"/><stop offset="0.7188" stop-color="#2888cf"/><stop offset="0.7344" stop-color="#2995d8"/><stop offset="0.75" stop-color="#2999dc"/><stop offset="0.7656" stop-color="#2a9ee0"/><stop offset="0.7812" stop-color="#2ba3e3"/><stop offset="0.7969" stop-color="#39b9df"/><stop offset="0.8125" stop-color="#51bdc4"/><stop offset="0.8281" stop-color="#5bbfb1"/><stop offset="0.8438" stop-color="#61c0a3"/><stop offset="0.8594" stop-color="#68c398"/><stop offset="0.875" stop-color="#71c58e"/><stop offset="0.8906" stop-color="#76c689"/><stop offset="0.9062" stop-color="#7ac685"/><stop offset="0.9219" stop-color="#80c77f"/><stop offset="0.9375" stop-color="#8cca75"/><stop offset="0.9531" stop-color="#9fcf69"/><stop offset="0.9688" stop-color="#c2da57"/><stop offset="0.9844" stop-color="#dae14b"/><stop offset="1" stop-color="#e7e544"/></linearGradient>
<linearGradient id="e92" x1="0" y1="0" x2="0" y2="1"><stop offset="0" stop-color="#cddd52"/><stop offset="0.01562" stop-color="#cddd52"/><stop offset="0.03125" stop-color="#cddd52"/><stop offset="0.04688" stop-color="#cddd52"/><stop offset="0.0625" stop-color="#cddd52"/><stop offset="0.07812" stop-color="#cddd52"/><stop offset="0.09375" stop-color="#cddd52"/><stop offset="0.1094" stop-color="#c6db55"/><stop offset="0.125" stop-color="#b9d75b"/><stop offset="0.1406" stop-color="#9fcf69"/><stop offset="0.1562" stop-color="#89c977"/><stop offset="0.1719" stop-color="#7dc782"/><stop offset="0.1875" stop-color="#74c58b"/><stop offset="0.2031" stop-color="#6bc394"/><stop offset="0.2188" stop-color="#69c396"/><stop offset="0.2344" stop-color="#6fc490"/><stop offset="0.25" stop-color="#79c686"/><stop offset="0.2656" stop-color="#79c686"/><stop offset="0.2812" stop-color="#5fc0a5"/><stop offset="0.2969" stop-color="#2ba5e3"/><stop offset="0.3125" stop-color="#2674c1"/><stop offset="0.3281" stop-color="#2462b2"/><stop offset="0.3438" stop-color="#2257a9"/><stop offset="0.3594" stop-color="#2253a8"/><stop offset="0.375" stop-color="#2153a7"/><stop offset="0.3906" stop-color="#2152a7"/><stop offset="0.4062" stop-color="#2150a6"/><stop offset="0.4219" stop-color="#2049a1"/><stop offset="0.4375" stop-color="#21429b"/><stop offset="0.4531" stop-color="#233f98"/><stop offset="0.4688" stop-color="#253d94"/><stop offset="0.4844" stop-color="#263d93"/><stop offset="0.5" stop-color="#263c92"/><stop offset="0.5156" stop-color="#263d92"/><stop offset="0.5312" stop-color="#263d93"/><stop offset="0.5469" stop-color="#263d93"/><stop offset="0.5625" stop-color="#253d94"/><stop offset="0.5781" stop-color="#253d95"/><stop offset="0.5938" stop-color="#2048a1"/><stop offset="0.6094" stop-color="#214ba3"/><stop offset="0.625" stop-color="#214ea5"/><stop offset="0.6406" stop-color="#2150a6"/><stop offset="0.6562" stop-color="#2152a7"/><stop offset="0.6719" stop-color="#235bad"/><stop offset="0.6875" stop-color="#2672bf"/><stop offset="0.7031" stop-color="#2782cb"/><stop offset="0.7188" stop-color="#2993d8"/><stop offset="0.7344" stop-color="#2aa2e2"/><stop offset="0.75" stop-color="#2ca8e5"/><stop offset="0.7656" stop-color="#2dade7"/><stop offset="0.7812" stop-color="#2fb1e6"/><stop offset="0.7969" stop-color="#46bbd2"/><stop offset="0.8125" stop-color="#57bebb"/><stop offset="0.8281" stop-color="#5ec0a7"/><stop offset="0.8438" stop-color="#66c29b"/><stop offset="0.8594" stop-color="#6fc490"/><stop offset="0.875" stop-color="#7ac685"/><stop offset="0.8906" stop-color="#7fc780"/><stop offset="0.9062" stop-color="#83c87c"/><stop offset="0.9219" stop-color="#8ac977"/><stop offset="0.9375" stop-color="#98cd6d"/><stop offset="0.9531" stop-color="#afd360"/><stop offset="0.9688" stop-color="#d8e14c"/><stop offset="0.9844" stop-color="#eee63e"/><stop offset="1" stop-color="#f2d83b"/></linearGradient>
<linearGradient id="e93" x1="0" y1="0" x2="0" y2="1"><stop offset="0" stop-color="#e5e445"/><stop offset="0.01562" stop-color="#e5e445"/><stop offset="0.03125" stop-color="#e5e445"/><stop offset="0.04688" stop-color="#e5e445"/><stop offset="0.0625" stop-color="#e5e445"/><stop offset="0.07812" stop-color="#e5e445"/><stop offset="0.09375" stop-color="#e5e445"/><stop offset="0.1094" stop-color="#dfe348"/><stop offset="0.125" stop-color="#d0de50"/><stop offset="0.1406" stop-color="#afd360"/><stop offset="0.1562" stop-color="#93cc70"/><stop offset="0.1719" stop-color="#85c87a"/><stop offset="0.1875" stop-color="#7cc783"/><stop offset="0.2031" stop-color="#74c58b"/><stop offset="0.2188" stop-color="#71c58e"/><stop offset="0.2344" stop-color="#77c688"/><stop offset="0.25" stop-color="#81c77e"/><stop offset="0.2656" stop-color="#81c77e"/><stop offset="0.2812" stop-color="#64c19e"/><stop offset="0.2969" stop-color="#2eb0e7"/><stop offset="0.3125" stop-color="#277ac5"/><stop offset="0.3281" stop-color="#2465b5"/><stop offset="0.3438" stop-color="#2259ab"/><stop offset="0.3594" stop-color="#2255a9"/><stop offset="0.375" stop-color="#2254a8"/><stop offset="0.3906" stop-color="#2253a8"/><stop offset="0.4062" stop-color="#2152a7"/><stop offset="0.4219" stop-color="#214aa2"/><stop offset="0.4375" stop-color="#20439d"/><stop offset="0.4531" stop-color="#22419a"/><stop offset="0.4688" stop-color="#243e96"/><stop offset="0.4844" stop-color="#253d95"/><stop offset="0.5" stop-color="#253d94"/><stop offset="0.5156" stop-color="#253d94"/><stop offset="0.5312" stop-color="#253d94"/><stop offset="0.5469" stop-color="#253e95"/><stop offset="0.5625" stop-color="#233f97"/><stop offset="0.5781" stop-color="#234098"/><stop offset="0.5938" stop-color="#214aa2"/><stop offset="0.6094" stop-color="#214da5"/><stop offset="0.625" stop-color="#2150a6"/><stop offset="0.6406" stop-color="#2153a7"/><stop offset="0.6562" stop-color="#2256a9"/><stop offset="0.6719" stop-color="#2360b1"/><stop offset="0.6875" stop-color="#277bc6"/><stop offset="0.7031" stop-color="#288ed3"/><stop offset="0.7188" stop-color="#2ba7e4"/><stop offset="0.7344" stop-color="#33b5e4"/><stop offset="0.75" stop-color="#36b8e2"/><stop offset="0.7656" stop-color="#39b9df"/><stop offset="0.7812" stop-color="#3ebada"/><stop offset="0.7969" stop-color="#51bdc4"/><stop offset="0.8125" stop-color="#5bbfaf"/><stop offset="0.8281" stop-color="#64c29d"/><stop offset="0.8438" stop-color="#6ec491"/><stop offset="0.8594" stop-color="#79c686"/><stop offset="0.875" stop-color="#83c87c"/><stop offset="0.8906" stop-color="#8ac977"/><stop offset="0.9062" stop-color="#90cb72"/><stop offset="0.9219" stop-color="#99ce6c"/><stop offset="0.9375" stop-color="#abd262"/><stop offset="0.9531" stop-color="#c8dc54"/><stop offset="0.9688" stop-color="#efe33d"/><stop offset="0.9844" stop-color="#f4c837"/><stop offset="1" stop-color="#f5b534"/></linearGradient>
<linearGradient id="e94" x1="0" y1="0" x2="0" y2="1"><stop offset="0" stop-color="#f2d93b"/><stop offset="0.01562" stop-color="#f2d93b"/><stop offset="0.03125" stop-color="#f2d93b"/><stop offset="0.04688" stop-color="#f2d93b"/><stop offset="0.0625" stop-color="#f2d93b"/><stop offset="0.07812" stop-color="#f2d93b"/><stop offset="0.09375" stop-color="#f2d93b"/><stop offset="0.1094" stop-color="#f0df3c"/><stop offset="0.125" stop-color="#e8e543"/><stop offset="0.1406" stop-color="#c3da56"/><stop offset="0.1562" stop-color="#a0cf68"/><stop offset="0.1719" stop-color="#8fcb73"/><stop offset="0.1875" stop-color="#84c87b"/><stop offset="0.2031" stop-color="#7dc782"/><stop offset="0.2188" stop-color="#7ac685"/><stop offset="0.2344" stop-color="#7fc780"/><stop offset="0.25" stop-color="#8bca76"/><stop offset="0.2656" stop-color="#8ac977"/><stop offset="0.2812" stop-color="#68c398"/><stop offset="0.2969" stop-color="#35b7e2"/><stop offset="0.3125" stop-color="#2781ca"/><stop offset="0.3281" stop-color="#2569b8"/><stop offset="0.3438" stop-color="#225bac"/><stop offset="0.3594" stop-color="#2257a9"/><stop offset="0.375" stop-color="#2256a9"/><stop offset="0.3906" stop-color="#2255a8"/><stop offset="0.4062" stop-color="#2253a8"/><stop offset="0.4219" stop-color="#214ca4"/><stop offset="0.4375" stop-color="#20459e"/><stop offset="0.4531" stop-color="#21429b"/><stop offset="0.4688" stop-color="#233f97"/><stop offset="0.4844" stop-color="#243e96"/><stop offset="0.5" stop-color="#243e95"/><stop offset="0.5156" stop-color="#243e96"/><stop offset="0.5312" stop-color="#243e96"/><stop offset="0.5469" stop-color="#243e96"/><stop offset="0.5625" stop-color="#22419b"/><stop offset="0.5781" stop-color="#21439c"/><stop offset="0.5938" stop-color="#214ca4"/><stop offset="0.6094" stop-color="#2150a6"/><stop offset="0.625" stop-color="#2253a8"/><stop offset="0.6406" stop-color="#2257a9"/><stop offset="0.6562" stop-color="#225bac"/><stop offset="0.6719" stop-color="#2466b5"/><stop offset="0.6875" stop-color="#2887ce"/><stop offset="0.7031" stop-color="#2aa1e1"/><stop offset="0.7188" stop-color="#3ab9de"/><stop offset="0.7344" stop-color="#4abcce"/><stop offset="0.75" stop-color="#4cbccc"/><stop offset="0.7656" stop-color="#4dbcc9"/><stop offset="0.7812" stop-color="#4fbdc7"/><stop offset="0.7969" stop-color="#59beb6"/><stop offset="0.8125" stop-color="#61c1a2"/><stop offset="0.8281" stop-color="#6dc492"/><stop offset="0.8438" stop-color="#79c686"/><stop offset="0.8594" stop-color="#84c87b"/><stop offset="0.875" stop-color="#91cb72"/><stop offset="0.8906" stop-color="#9ace6c"/><stop offset="0.9062" stop-color="#a4d066"/><stop offset="0.9219" stop-color="#b1d45f"/><stop offset="0.9375" stop-color="#c9dc53"/><stop offset="0.9531" stop-color="#e9e542"/><stop offset="0.9688" stop-color="#f5bd35"/><stop offset="0.9844" stop-color="#f6a031"/><stop offset="1" stop-color="#f59430"/></linearGradient>
<linearGradient id="e95" x1="0" y1="0" x2="0" y2="1"><stop offset="0" stop-color="#f5bc35"/><stop offset="0.01562" stop-color="#f5bc35"/><stop offset="0.03125" stop-color="#f5bc35"/><stop offset="0.04688" stop-color="#f5bc35"/><stop offset="0.0625" stop-color="#f5bc35"/><stop offset="0.07812" stop-color="#f5bc35"/><stop offset="0.09375" stop-color="#f5bc35"/><stop offset="0.1094" stop-color="#f5c236"/><stop offset="0.125" stop-color="#f2d73b"/><stop offset="0.1406" stop-color="#d7e04c"/><stop offset="0.1562" stop-color="#aed360"/><stop offset="0.1719" stop-color="#9ace6c"/><stop offset="0.1875" stop-color="#8ecb74"/><stop offset="0.2031" stop-color="#85c87a"/><stop offset="0.2188" stop-color="#82c87d"/><stop offset="0.2344" stop-color="#88c978"/><stop offset="0.25" stop-color="#95cd6f"/><stop offset="0.2656" stop-color="#93cc70"/><stop offset="0.2812" stop-color="#6dc492"/><stop offset="0.2969" stop-color="#3dbadb"/><stop offset="0.3125" stop-color="#2887ce"/><stop offset="0.3281" stop-color="#256dbb"/><stop offset="0.3438" stop-color="#235dae"/><stop offset="0.3594" stop-color="#2259ab"/><stop offset="0.375" stop-color="#2257aa"/><stop offset="0.3906" stop-color="#2256a9"/><stop offset="0.4062" stop-color="#2255a8"/><stop offset="0.4219" stop-color="#214da5"/><stop offset="0.4375" stop-color="#20469f"/><stop offset="0.4531" stop-color="#21439d"/><stop offset="0.4688" stop-color="#234099"/><stop offset="0.4844" stop-color="#233f98"/><stop offset="0.5" stop-color="#243f97"/><stop offset="0.5156" stop-color="#233f97"/><stop offset="0.5312" stop-color="#233f97"/><stop offset="0.5469" stop-color="#233f98"/><stop offset="0.5625" stop-color="#20449e"/><stop offset="0.5781" stop-color="#20469f"/><stop offset="0.5938" stop-color="#214ea5"/><stop offset="0.6094" stop-color="#2152a7"/><stop offset="0.625" stop-color="#2256a9"/><stop offset="0.6406" stop-color="#235cad"/><stop offset="0.6562" stop-color="#2462b2"/><stop offset="0.6719" stop-color="#256ebc"/><stop offset="0.6875" stop-color="#2996da"/><stop offset="0.7031" stop-color="#33b5e4"/><stop offset="0.7188" stop-color="#50bdc6"/><stop offset="0.7344" stop-color="#57bebb"/><stop offset="0.75" stop-color="#58beb9"/><stop offset="0.7656" stop-color="#59beb7"/><stop offset="0.7812" stop-color="#59beb5"/><stop offset="0.7969" stop-color="#5fc0a4"/><stop offset="0.8125" stop-color="#6ac395"/><stop offset="0.8281" stop-color="#7ac685"/><stop offset="0.8438" stop-color="#85c87a"/><stop offset="0.8594" stop-color="#93cc70"/><stop offset="0.875" stop-color="#a4d066"/><stop offset="0.8906" stop-color="#b2d45e"/><stop offset="0.9062" stop-color="#c2da57"/><stop offset="0.9219" stop-color="#d5e04d"/><stop offset="0.9375" stop-color="#eee63e"/><stop offset="0.9531" stop-color="#f5c035"/><stop offset="0.9688" stop-color="#f59430"/><stop offset="0.9844" stop-color="#f37c2d"/><stop offset="1" stop-color="#f2712c"/></linearGradient>
<linearGradient id="e96" x1="0" y1="0" x2="0" y2="1"><stop offset="0" stop-color="#f6a131"/><stop offset="0.01562" stop-color="#f6a131"/><stop offset="0.03125" stop-color="#f6a131"/><stop offset="0.04688" stop-color="#f6a131"/><stop offset="0.0625" stop-color="#f6a131"/><stop offset="0.07812" stop-color="#f6a131"/><stop offset="0.09375" stop-color="#f6a131"/><stop offset="0.1094" stop-color="#f6a432"/><stop offset="0.125" stop-color="#f5b934"/><stop offset="0.1406" stop-color="#e9e542"/><stop offset="0.1562" stop-color="#bed958"/><stop offset="0.1719" stop-color="#a6d165"/><stop offset="0.1875" stop-color="#98cd6d"/><stop offset="0.2031" stop-color="#8fcb73"/><stop offset="0.2188" stop-color="#8cca75"/><stop offset="0.2344" stop-color="#91cc71"/><stop offset="0.25" stop-color="#a2d067"/><stop offset="0.2656" stop-color="#9ecf69"/><stop offset="0.2812" stop-color="#73c58c"/><stop offset="0.2969" stop-color="#45bbd3"/><stop offset="0.3125" stop-color="#288cd2"/><stop offset="0.3281" stop-color="#2671be"/><stop offset="0.3438" stop-color="#235fb0"/><stop offset="0.3594" stop-color="#225aac"/><stop offset="0.375" stop-color="#2259ab"/><stop offset="0.3906" stop-color="#2258aa"/><stop offset="0.4062" stop-color="#2256a9"/><stop offset="0.4219" stop-color="#214fa5"/><stop offset="0.4375" stop-color="#2047a0"/><stop offset="0.4531" stop-color="#20449e"/><stop offset="0.4688" stop-color="#22419a"/><stop offset="0.4844" stop-color="#224099"/><stop offset="0.5" stop-color="#234098"/><stop offset="0.5156" stop-color="#234098"/><stop offset="0.5312" stop-color="#234098"/><stop offset="0.5469" stop-color="#234099"/><stop offset="0.5625" stop-color="#2047a0"/><stop offset="0.5781" stop-color="#2149a2"/><stop offset="0.5938" stop-color="#2151a6"/><stop offset="0.6094" stop-color="#2255a9"/><stop offset="0.625" stop-color="#225aac"/><stop offset="0.6406" stop-color="#2462b3"/><stop offset="0.6562" stop-color="#256bb9"/><stop offset="0.6719" stop-color="#2779c5"/><stop offset="0.6875" stop-color="#2ca9e5"/><stop offset="0.7031" stop-color="#48bcd0"/><stop offset="0.7188" stop-color="#5bbfb2"/><stop offset="0.7344" stop-color="#5fc0a6"/><stop offset="0.75" stop-color="#5fc0a5"/><stop offset="0.7656" stop-color="#60c0a4"/><stop offset="0.7812" stop-color="#60c0a3"/><stop offset="0.7969" stop-color="#69c396"/><stop offset="0.8125" stop-color="#78c687"/><stop offset="0.8281" stop-color="#87c978"/><stop offset="0.8438" stop-color="#96cd6e"/><stop offset="0.8594" stop-color="#a7d164"/><stop offset="0.875" stop-color="#bdd859"/><stop offset="0.8906" stop-color="#d2df4f"/><stop offset="0.9062" stop-color="#e7e544"/><stop offset="0.9219" stop-color="#f2d93b"/><stop offset="0.9375" stop-color="#f6b333"/><stop offset="0.9531" stop-color="#f59130"/><stop offset="0.9688" stop-color="#f26c2c"/><stop offset="0.9844" stop-color="#f05b2a"/><stop offset="1" stop-color="#ef4d29"/></linearGradient>
<linearGradient id="e97" x1="0" y1="0" x2="0" y2="1"><stop offset="0" stop-color="#f58f30"/><stop offset="0.01562" stop-color="#f58f30"/><stop offset="0.03125" stop-color="#f58f30"/><stop offset="0.04688" stop-color="#f58f30"/><stop offset="0.0625" stop-color="#f58f30"/><stop offset="0.07812" stop-color="#f58f30"/><stop offset="0.09375" stop-color="#f58f30"/><stop offset="0.1094" stop-color="#f59130"/><stop offset="0.125" stop-color="#f6a131"/><stop offset="0.1406" stop-color="#f1db3c"/><stop offset="0.1562" stop-color="#cede51"/><stop offset="0.1719" stop-color="#b2d45e"/><stop offset="0.1875" stop-color="#a3d066"/><stop offset="0.2031" stop-color="#99ce6c"/><stop offset="0.2188" stop-color="#96cd6e"/><stop offset="0.2344" stop-color="#9bce6b"/><stop offset="0.25" stop-color="#aed360"/><stop offset="0.2656" stop-color="#a8d163"/><stop offset="0.2812" stop-color="#77c688"/><stop offset="0.2969" stop-color="#4bbccc"/><stop offset="0.3125" stop-color="#2992d7"/><stop offset="0.3281" stop-color="#2675c2"/><stop offset="0.3438" stop-color="#2461b2"/><stop offset="0.3594" stop-color="#235cad"/><stop offset="0.375" stop-color="#225bac"/><stop offset="0.3906" stop-color="#2259ab"/><stop offset="0.4062" stop-color="#2258aa"/><stop offset="0.4219" stop-color="#2150a6"/><stop offset="0.4375" stop-color="#2048a1"/><stop offset="0.4531" stop-color="#20459f"/><stop offset="0.4688" stop-color="#21429b"/><stop offset="0.4844" stop-color="#22419a"/><stop offset="0.5" stop-color="#224099"/><stop offset="0.5156" stop-color="#224199"/><stop offset="0.5312" stop-color="#22419a"/><stop offset="0.5469" stop-color="#22419a"/><stop offset="0.5625" stop-color="#214aa2"/><stop offset="0.5781" stop-color="#214da4"/><stop offset="0.5938" stop-color="#2253a8"/><stop offset="0.6094" stop-color="#2258aa"/><stop offset="0.625" stop-color="#235fb0"/><stop offset="0.6406" stop-color="#2569b8"/><stop offset="0.6562" stop-color="#2674c1"/><stop offset="0.6719" stop-color="#2889d0"/><stop offset="0.6875" stop-color="#35b7e2"/><stop offset="0.7031" stop-color="#53bdc1"/><stop offset="0.7188" stop-color="#62c1a0"/><stop offset="0.7344" stop-color="#69c397"/><stop offset="0.75" stop-color="#69c396"/><stop offset="0.7656" stop-color="#6ac395"/><stop offset="0.7812" stop-color="#6ac395"/><stop offset="0.7969" stop-color="#77c688"/><stop offset="0.8125" stop-color="#85c87a"/><stop offset="0.8281" stop-color="#98ce6d"/><stop offset="0.8438" stop-color="#aad262"/><stop offset="0.8594" stop-color="#c0d958"/><stop offset="0.875" stop-color="#dae14b"/><stop offset="0.8906" stop-color="#efe33d"/><stop offset="0.9062" stop-color="#f4c837"/><stop offset="0.9219" stop-color="#f6a532"/><stop offset="0.9375" stop-color="#f4882f"/><stop offset="0.9531" stop-color="#f1672b"/><stop offset="0.9688" stop-color="#ed4329"/><stop offset="0.9844" stop-color="#ec3128"/><stop offset="1" stop-color="#ea2a28"/></linearGradient>
<linearGradient id="e98" x1="0" y1="0" x2="0" y2="1"><stop offset="0" stop-color="#f37c2d"/><stop offset="0.01562" stop-color="#f37c2d"/><stop offset="0.03125" stop-color="#f37c2d"/><stop offset="0.04688" stop-color="#f37c2d"/><stop offset="0.0625" stop-color="#f37c2d"/><stop offset="0.07812" stop-color="#f37c2d"/><stop offset="0.09375" stop-color="#f37c2d"/><stop offset="0.1094" stop-color="#f37d2d"/><stop offset="0.125" stop-color="#f59230"/><stop offset="0.1406" stop-color="#f4ca38"/><stop offset="0.1562" stop-color="#dce24a"/><stop offset="0.1719" stop-color="#bed859"/><stop offset="0.1875" stop-color="#add260"/><stop offset="0.2031" stop-color="#a4d066"/><stop offset="0.2188" stop-color="#a0cf68"/><stop offset="0.2344" stop-color="#a5d065"/><stop offset="0.25" stop-color="#bbd75a"/><stop offset="0.2656" stop-color="#b3d45e"/><stop offset="0.2812" stop-color="#7bc784"/><stop offset="0.2969" stop-color="#4ebcc9"/><stop offset="0.3125" stop-color="#2997db"/><stop offset="0.3281" stop-color="#277bc6"/><stop offset="0.3438" stop-color="#2463b3"/><stop offset="0.3594" stop-color="#235eaf"/><stop offset="0.375" stop-color="#235cad"/><stop offset="0.3906" stop-color="#225bac"/><stop offset="0.4062" stop-color="#2259ab"/><stop offset="0.4219" stop-color="#2152a7"/><stop offset="0.4375" stop-color="#2049a1"/><stop offset="0.4531" stop-color="#20469f"/><stop offset="0.4688" stop-color="#21439c"/><stop offset="0.4844" stop-color="#21429b"/><stop offset="0.5" stop-color="#22419a"/><stop offset="0.5156" stop-color="#22419a"/><stop offset="0.5312" stop-color="#22419a"/><stop offset="0.5469" stop-color="#22419b"/><stop offset="0.5625" stop-color="#214ca4"/><stop offset="0.5781" stop-color="#2150a6"/><stop offset="0.5938" stop-color="#2255a9"/><stop offset="0.6094" stop-color="#225aac"/><stop offset="0.625" stop-color="#2463b3"/><stop offset="0.6406" stop-color="#2670be"/><stop offset="0.6562" stop-color="#2783cb"/><stop offset="0.6719" stop-color="#299add"/><stop offset="0.6875" stop-color="#44bbd4"/><stop offset="0.7031" stop-color="#5abeb4"/><stop offset="0.7188" stop-color="#6cc493"/><stop offset="0.7344" stop-color="#76c689"/><stop offset="0.75" stop-color="#77c688"/><stop offset="0.7656" stop-color="#77c688"/><stop offset="0.7812" stop-color="#77c688"/><stop offset="0.7969" stop-color="#83c87c"/><stop offset="0.8125" stop-color="#95cd6f"/><stop offset="0.8281" stop-color="#abd262"/><stop offset="0.8438" stop-color="#c2da57"/><stop offset="0.8594" stop-color="#dae14b"/><stop offset="0.875" stop-color="#efe33d"/><stop offset="0.8906" stop-color="#f5c136"/><stop offset="0.9062" stop-color="#f69e31"/><stop offset="0.9219" stop-color="#f4812e"/><stop offset="0.9375" stop-color="#f1642b"/><stop offset="0.9531" stop-color="#ed3c28"/><stop offset="0.9688" stop-color="#e1282b"/><stop offset="0.9844" stop-color="#cc282f"/><stop offset="1" stop-color="#c02831"/></linearGradient>
<linearGradient id="e99" x1="0" y1="0" x2="0" y2="1"><stop offset="0" stop-color="#f2702c"/><stop offset="0.01562" stop-color="#f2702c"/><stop offset="0.03125" stop-color="#f2702c"/><stop offset="0.04688" stop-color="#f2702c"/><stop offset="0.0625" stop-color="#f2702c"/><stop offset="0.07812" stop-color="#f2702c"/><stop offset="0.09375" stop-color="#f2702c"/><stop offset="0.1094" stop-color="#f2702c"/><stop offset="0.125" stop-color="#f4822e"/><stop offset="0.1406" stop-color="#f5b934"/><stop offset="0.1562" stop-color="#e7e544"/><stop offset="0.1719" stop-color="#c8dc54"/><stop offset="0.1875" stop-color="#b7d65c"/><stop offset="0.2031" stop-color="#acd261"/><stop offset="0.2188" stop-color="#a9d163"/><stop offset="0.2344" stop-color="#aed360"/><stop offset="0.25" stop-color="#c5db55"/><stop offset="0.2656" stop-color="#bdd859"/><stop offset="0.2812" stop-color="#7fc780"/><stop offset="0.2969" stop-color="#50bdc5"/><stop offset="0.3125" stop-color="#2a9cde"/><stop offset="0.3281" stop-color="#277fc9"/><stop offset="0.3438" stop-color="#2464b4"/><stop offset="0.3594" stop-color="#235fb0"/><stop offset="0.375" stop-color="#235dae"/><stop offset="0.3906" stop-color="#235cad"/><stop offset="0.4062" stop-color="#225aac"/><stop offset="0.4219" stop-color="#2153a7"/><stop offset="0.4375" stop-color="#2149a2"/><stop offset="0.4531" stop-color="#2046a0"/><stop offset="0.4688" stop-color="#20449d"/><stop offset="0.4844" stop-color="#21439c"/><stop offset="0.5" stop-color="#21429b"/><stop offset="0.5156" stop-color="#21429b"/><stop offset="0.5312" stop-color="#21429b"/><stop offset="0.5469" stop-color="#21429b"/><stop offset="0.5625" stop-color="#214ea5"/><stop offset="0.5781" stop-color="#2152a7"/><stop offset="0.5938" stop-color="#2257a9"/><stop offset="0.6094" stop-color="#235dae"/><stop offset="0.625" stop-color="#2466b6"/><stop offset="0.6406" stop-color="#2677c3"/><stop offset="0.6562" stop-color="#288fd4"/><stop offset="0.6719" stop-color="#2caae6"/><stop offset="0.6875" stop-color="#4dbcca"/><stop offset="0.7031" stop-color="#5dbfab"/><stop offset="0.7188" stop-color="#77c688"/><stop offset="0.7344" stop-color="#81c77e"/><stop offset="0.75" stop-color="#81c77e"/><stop offset="0.7656" stop-color="#81c77e"/><stop offset="0.7812" stop-color="#81c77e"/><stop offset="0.7969" stop-color="#8fcb73"/><stop offset="0.8125" stop-color="#a4d066"/><stop offset="0.8281" stop-color="#bed859"/><stop offset="0.8438" stop-color="#d7e04c"/><stop offset="0.8594" stop-color="#ede63f"/><stop offset="0.875" stop-color="#f4cb38"/><stop offset="0.8906" stop-color="#f6a331"/><stop offset="0.9062" stop-color="#f4832e"/><stop offset="0.9219" stop-color="#f1662b"/><stop offset="0.9375" stop-color="#ed4229"/><stop offset="0.9531" stop-color="#e1282b"/><stop offset="0.9688" stop-color="#ba2832"/><stop offset="0.9844" stop-color="#a82731"/><stop offset="1" stop-color="#9f2731"/></linearGradient>
<linearGradient id="e100" x1="0" y1="0" x2="0" y2="1"><stop offset="0" stop-color="#f1672b"/><stop offset="0.01562" stop-color="#f1672b"/><stop offset="0.03125" stop-color="#f1672b"/><stop offset="0.04688" stop-color="#f1672b"/><stop offset="0.0625" stop-color="#f1672b"/><stop offset="0.07812" stop-color="#f1672b"/><stop offset="0.09375" stop-color="#f1672b"/><stop offset="0.1094" stop-color="#f1672b"/><stop offset="0.125" stop-color="#f3772d"/><stop offset="0.1406" stop-color="#f6ab32"/><stop offset="0.1562" stop-color="#ede63f"/><stop offset="0.1719" stop-color="#d0de50"/><stop offset="0.1875" stop-color="#bfd958"/><stop offset="0.2031" stop-color="#b5d55d"/><stop offset="0.2188" stop-color="#b0d35f"/><stop offset="0.2344" stop-color="#b6d55c"/><stop offset="0.25" stop-color="#cede51"/><stop offset="0.2656" stop-color="#c4db56"/><stop offset="0.2812" stop-color="#81c77e"/><stop offset="0.2969" stop-color="#52bdc2"/><stop offset="0.3125" stop-color="#2aa0e1"/><stop offset="0.3281" stop-color="#2783cb"/><stop offset="0.3438" stop-color="#2465b5"/><stop offset="0.3594" stop-color="#2360b1"/><stop offset="0.375" stop-color="#235eaf"/><stop offset="0.3906" stop-color="#235dae"/><stop offset="0.4062" stop-color="#225bac"/><stop offset="0.4219" stop-color="#2253a8"/><stop offset="0.4375" stop-color="#214aa2"/><stop offset="0.4531" stop-color="#2047a0"/><stop offset="0.4688" stop-color="#20449e"/><stop offset="0.4844" stop-color="#21439d"/><stop offset="0.5" stop-color="#21429c"/><stop offset="0.5156" stop-color="#21429c"/><stop offset="0.5312" stop-color="#21429c"/><stop offset="0.5469" stop-color="#21429c"/><stop offset="0.5625" stop-color="#2150a6"/><stop offset="0.5781" stop-color="#2254a8"/><stop offset="0.5938" stop-color="#2258aa"/><stop offset="0.6094" stop-color="#235eaf"/><stop offset="0.625" stop-color="#2568b8"/><stop offset="0.6406" stop-color="#277dc7"/><stop offset="0.6562" stop-color="#2999dc"/><stop offset="0.6719" stop-color="#31b3e6"/><stop offset="0.6875" stop-color="#50bdc5"/><stop offset="0.7031" stop-color="#60c0a4"/><stop offset="0.7188" stop-color="#7dc782"/><stop offset="0.7344" stop-color="#88c978"/><stop offset="0.75" stop-color="#88c978"/><stop offset="0.7656" stop-color="#88c978"/><stop offset="0.7812" stop-color="#88c978"/><stop offset="0.7969" stop-color="#97cd6d"/><stop offset="0.8125" stop-color="#aed360"/><stop offset="0.8281" stop-color="#ccdd52"/><stop offset="0.8438" stop-color="#e5e445"/><stop offset="0.8594" stop-color="#f1da3b"/><stop offset="0.875" stop-color="#f5b734"/><stop offset="0.8906" stop-color="#f59430"/><stop offset="0.9062" stop-color="#f2722c"/><stop offset="0.9219" stop-color="#ef532a"/><stop offset="0.9375" stop-color="#eb2e28"/><stop offset="0.9531" stop-color="#c52830"/><stop offset="0.9688" stop-color="#a22731"/><stop offset="0.9844" stop-color="#92252e"/><stop offset="1" stop-color="#8b232b"/></linearGradient>
<linearGradient id="e101" x1="0" y1="0" x2="0" y2="1"><stop offset="0" stop-color="#f1612b"/><stop offset="0.01562" stop-color="#f1612b"/><stop offset="0.03125" stop-color="#f1612b"/><stop offset="0.04688" stop-color="#f1612b"/><stop offset="0.0625" stop-color="#f1612b"/><stop offset="0.07812" stop-color="#f1612b"/><stop offset="0.09375" stop-color="#f1612b"/><stop offset="0.1094" stop-color="#f1612b"/><stop offset="0.125" stop-color="#f2722c"/><stop offset="0.1406" stop-color="#f6a532"/><stop offset="0.1562" stop-color="#efe13d"/><stop offset="0.1719" stop-color="#d6e04d"/><stop offset="0.1875" stop-color="#c4db56"/><stop offset="0.2031" stop-color="#bad75b"/><stop offset="0.2188" stop-color="#b5d55d"/><stop offset="0.2344" stop-color="#bbd75a"/><stop offset="0.25" stop-color="#d4df4e"/><stop offset="0.2656" stop-color="#c9dc53"/><stop offset="0.2812" stop-color="#83c87c"/><stop offset="0.2969" stop-color="#53bdc0"/><stop offset="0.3125" stop-color="#2ba3e2"/><stop offset="0.3281" stop-color="#2785cd"/><stop offset="0.3438" stop-color="#2466b6"/><stop offset="0.3594" stop-color="#2361b1"/><stop offset="0.375" stop-color="#235fb0"/><stop offset="0.3906" stop-color="#235daf"/><stop offset="0.4062" stop-color="#235bad"/><stop offset="0.4219" stop-color="#2254a8"/><stop offset="0.4375" stop-color="#214aa2"/><stop offset="0.4531" stop-color="#2047a0"/><stop offset="0.4688" stop-color="#20449e"/><stop offset="0.4844" stop-color="#20449d"/><stop offset="0.5" stop-color="#21439c"/><stop offset="0.5156" stop-color="#21439c"/><stop offset="0.5312" stop-color="#21439c"/><stop offset="0.5469" stop-color="#21439c"/><stop offset="0.5625" stop-color="#2150a6"/><stop offset="0.5781" stop-color="#2254a8"/><stop offset="0.5938" stop-color="#2259aa"/><stop offset="0.6094" stop-color="#235fb0"/><stop offset="0.625" stop-color="#256ab8"/><stop offset="0.6406" stop-color="#2780c9"/><stop offset="0.6562" stop-color="#2a9cde"/><stop offset="0.6719" stop-color="#33b5e4"/><stop offset="0.6875" stop-color="#52bdc2"/><stop offset="0.7031" stop-color="#61c1a2"/><stop offset="0.7188" stop-color="#80c77f"/><stop offset="0.7344" stop-color="#8bca76"/><stop offset="0.75" stop-color="#8bca76"/><stop offset="0.7656" stop-color="#8bca76"/><stop offset="0.7812" stop-color="#8bca75"/><stop offset="0.7969" stop-color="#9bce6b"/><stop offset="0.8125" stop-color="#b4d55d"/><stop offset="0.8281" stop-color="#d2df4f"/><stop offset="0.8438" stop-color="#eae541"/><stop offset="0.8594" stop-color="#f3d33a"/><stop offset="0.875" stop-color="#f6ae33"/><stop offset="0.8906" stop-color="#f58d2f"/><stop offset="0.9062" stop-color="#f26b2c"/><stop offset="0.9219" stop-color="#ee4829"/><stop offset="0.9375" stop-color="#e82a29"/><stop offset="0.9531" stop-color="#b92832"/><stop offset="0.9688" stop-color="#972630"/><stop offset="0.9844" stop-color="#89222b"/><stop offset="1" stop-color="#822028"/></linearGradient>
<linearGradient id="e102" x1="0" y1="0" x2="0" y2="1"><stop offset="0" stop-color="#f05e2a"/><stop offset="0.01562" stop-color="#f05e2a"/><stop offset="0.03125" stop-color="#f05e2a"/><stop offset="0.04688" stop-color="#f05e2a"/><stop offset="0.0625" stop-color="#f05e2a"/><stop offset="0.07812" stop-color="#f05e2a"/><stop offset="0.09375" stop-color="#f05e2a"/><stop offset="0.1094" stop-color="#f05e2a"/><stop offset="0.125" stop-color="#f26f2c"/><stop offset="0.1406" stop-color="#f6a231"/><stop offset="0.1562" stop-color="#f0de3c"/><stop offset="0.1719" stop-color="#d9e14c"/><stop offset="0.1875" stop-color="#c7dc54"/><stop offset="0.2031" stop-color="#bcd85a"/><stop offset="0.2188" stop-color="#b7d65c"/><stop offset="0.2344" stop-color="#bdd859"/><stop offset="0.25" stop-color="#d6e04d"/><stop offset="0.2656" stop-color="#ccdd52"/><stop offset="0.2812" stop-color="#85c87a"/><stop offset="0.2969" stop-color="#54bdbf"/><stop offset="0.3125" stop-color="#2ba5e4"/><stop offset="0.3281" stop-color="#2886ce"/><stop offset="0.3438" stop-color="#2467b6"/><stop offset="0.3594" stop-color="#2461b2"/><stop offset="0.375" stop-color="#235fb0"/><stop offset="0.3906" stop-color="#235eaf"/><stop offset="0.4062" stop-color="#235cad"/><stop offset="0.4219" stop-color="#2254a8"/><stop offset="0.4375" stop-color="#214aa2"/><stop offset="0.4531" stop-color="#2047a0"/><stop offset="0.4688" stop-color="#20459e"/><stop offset="0.4844" stop-color="#20449e"/><stop offset="0.5" stop-color="#21439d"/><stop offset="0.5156" stop-color="#21439d"/><stop offset="0.5312" stop-color="#21439d"/><stop offset="0.5469" stop-color="#21439d"/><stop offset="0.5625" stop-color="#2150a6"/><stop offset="0.5781" stop-color="#2254a8"/><stop offset="0.5938" stop-color="#2259aa"/><stop offset="0.6094" stop-color="#235fb0"/><stop offset="0.625" stop-color="#2569b8"/><stop offset="0.6406" stop-color="#277ec8"/><stop offset="0.6562" stop-color="#2999dc"/><stop offset="0.6719" stop-color="#31b3e5"/><stop offset="0.6875" stop-color="#52bdc3"/><stop offset="0.7031" stop-color="#60c0a3"/><stop offset="0.7188" stop-color="#7ec781"/><stop offset="0.7344" stop-color="#89c977"/><stop offset="0.75" stop-color="#89c977"/><stop offset="0.7656" stop-color="#89c977"/><stop offset="0.7812" stop-color="#89c977"/><stop offset="0.7969" stop-color="#99ce6c"/><stop offset="0.8125" stop-color="#b1d45e"/><stop offset="0.8281" stop-color="#d0de50"/><stop offset="0.8438" stop-color="#e9e542"/><stop offset="0.8594" stop-color="#f3d53a"/><stop offset="0.875" stop-color="#f6af33"/><stop offset="0.8906" stop-color="#f58f30"/><stop offset="0.9062" stop-color="#f26e2c"/><stop offset="0.9219" stop-color="#ef4d29"/><stop offset="0.9375" stop-color="#eb2b28"/><stop offset="0.9531" stop-color="#be2831"/><stop offset="0.9688" stop-color="#992630"/><stop offset="0.9844" stop-color="#8b232b"/><stop offset="1" stop-color="#832128"/></linearGradient>
<linearGradient id="e103" x1="0" y1="0" x2="0" y2="1"><stop offset="0" stop-color="#f05d2a"/><stop offset="0.01562" stop-color="#f05d2a"/><stop offset="0.03125" stop-color="#f05d2a"/><stop offset="0.04688" stop-color="#f05d2a"/><stop offset="0.0625" stop-color="#f05d2a"/><stop offset="0.07812" stop-color="#f05d2a"/><stop offset="0.09375" stop-color="#f05d2a"/><stop offset="0.1094" stop-color="#f05e2a"/><stop offset="0.125" stop-color="#f26f2c"/><stop offset="0.1406" stop-color="#f6a131"/><stop offset="0.1562" stop-color="#f0dd3c"/><stop offset="0.1719" stop-color="#dae14b"/><stop offset="0.1875" stop-color="#c7dc54"/><stop offset="0.2031" stop-color="#bbd75a"/><stop offset="0.2188" stop-color="#b6d65c"/><stop offset="0.2344" stop-color="#bdd859"/><stop offset="0.25" stop-color="#d7e04d"/><stop offset="0.2656" stop-color="#cdde51"/><stop offset="0.2812" stop-color="#86c879"/><stop offset="0.2969" stop-color="#55bebd"/><stop offset="0.3125" stop-color="#2ba7e4"/><stop offset="0.3281" stop-color="#2786cd"/><stop offset="0.3438" stop-color="#2467b6"/><stop offset="0.3594" stop-color="#2461b2"/><stop offset="0.375" stop-color="#2360b0"/><stop offset="0.3906" stop-color="#235eaf"/><stop offset="0.4062" stop-color="#235cad"/><stop offset="0.4219" stop-color="#2254a8"/><stop offset="0.4375" stop-color="#214aa3"/><stop offset="0.4531" stop-color="#2048a0"/><stop offset="0.4688" stop-color="#20459e"/><stop offset="0.4844" stop-color="#20449e"/><stop offset="0.5" stop-color="#21439d"/><stop offset="0.5156" stop-color="#21439d"/><stop offset="0.5312" stop-color="#21439d"/><stop offset="0.5469" stop-color="#21439d"/><stop offset="0.5625" stop-color="#214fa5"/><stop offset="0.5781" stop-color="#2152a7"/><stop offset="0.5938" stop-color="#2258aa"/><stop offset="0.6094" stop-color="#235eaf"/><stop offset="0.625" stop-color="#2467b7"/><stop offset="0.6406" stop-color="#2679c4"/><stop offset="0.6562" stop-color="#2891d5"/><stop offset="0.6719" stop-color="#2daee7"/><stop offset="0.6875" stop-color="#50bdc6"/><stop offset="0.7031" stop-color="#5ec0a7"/><stop offset="0.7188" stop-color="#79c686"/><stop offset="0.7344" stop-color="#82c87d"/><stop offset="0.75" stop-color="#83c87c"/><stop offset="0.7656" stop-color="#83c87c"/><stop offset="0.7812" stop-color="#83c87c"/><stop offset="0.7969" stop-color="#92cc71"/><stop offset="0.8125" stop-color="#a9d163"/><stop offset="0.8281" stop-color="#c7dc55"/><stop offset="0.8438" stop-color="#e2e347"/><stop offset="0.8594" stop-color="#f1dd3c"/><stop offset="0.875" stop-color="#f5bb35"/><stop offset="0.8906" stop-color="#f59931"/><stop offset="0.9062" stop-color="#f3782d"/><stop offset="0.9219" stop-color="#f05e2a"/><stop offset="0.9375" stop-color="#ec3628"/><stop offset="0.9531" stop-color="#d2282e"/><stop offset="0.9688" stop-color="#a82731"/><stop offset="0.9844" stop-color="#95262f"/><stop offset="1" stop-color="#8c232c"/></linearGradient>
<linearGradient id="e104" x1="0" y1="0" x2="0" y2="1"><stop offset="0" stop-color="#f05f2a"/><stop offset="0.01562" stop-color="#f05f2a"/><stop offset="0.03125" stop-color="#f05f2a"/><stop offset="0.04688" stop-color="#f05f2a"/><stop offset="0.0625" stop-color="#f05f2a"/><stop offset="0.07812" stop-color="#f05f2a"/><stop offset="0.09375" stop-color="#f05f2a"/><stop offset="0.1094" stop-color="#f1612b"/><stop offset="0.125" stop-color="#f2712c"/><stop offset="0.1406" stop-color="#f6a331"/><stop offset="0.1562" stop-color="#f0de3c"/><stop offset="0.1719" stop-color="#d9e14c"/><stop offset="0.1875" stop-color="#c5db55"/><stop offset="0.2031" stop-color="#b8d65b"/><stop offset="0.2188" stop-color="#b3d45e"/><stop offset="0.2344" stop-color="#bbd75a"/><stop offset="0.25" stop-color="#d4e04e"/><stop offset="0.2656" stop-color="#ccdd52"/><stop offset="0.2812" stop-color="#87c979"/><stop offset="0.2969" stop-color="#56bebd"/><stop offset="0.3125" stop-color="#2ca9e5"/><stop offset="0.3281" stop-color="#2784cc"/><stop offset="0.3438" stop-color="#2467b6"/><stop offset="0.3594" stop-color="#2461b2"/><stop offset="0.375" stop-color="#2360b0"/><stop offset="0.3906" stop-color="#235eaf"/><stop offset="0.4062" stop-color="#235cad"/><stop offset="0.4219" stop-color="#2254a8"/><stop offset="0.4375" stop-color="#214aa3"/><stop offset="0.4531" stop-color="#2047a0"/><stop offset="0.4688" stop-color="#20459e"/><stop offset="0.4844" stop-color="#20449e"/><stop offset="0.5" stop-color="#21439d"/><stop offset="0.5156" stop-color="#21439d"/><stop offset="0.5312" stop-color="#21439d"/><stop offset="0.5469" stop-color="#21439d"/><stop offset="0.5625" stop-color="#214da4"/><stop offset="0.5781" stop-color="#2150a6"/><stop offset="0.5938" stop-color="#2257a9"/><stop offset="0.6094" stop-color="#235dae"/><stop offset="0.625" stop-color="#2465b5"/><stop offset="0.6406" stop-color="#2672bf"/><stop offset="0.6562" stop-color="#2785cd"/><stop offset="0.6719" stop-color="#2aa0e1"/><stop offset="0.6875" stop-color="#4cbccb"/><stop offset="0.7031" stop-color="#5cbfaf"/><stop offset="0.7188" stop-color="#70c48f"/><stop offset="0.7344" stop-color="#7ac685"/><stop offset="0.75" stop-color="#7ac685"/><stop offset="0.7656" stop-color="#7bc684"/><stop offset="0.7812" stop-color="#7bc784"/><stop offset="0.7969" stop-color="#88c978"/><stop offset="0.8125" stop-color="#9ecf6a"/><stop offset="0.8281" stop-color="#b9d75b"/><stop offset="0.8438" stop-color="#d3df4f"/><stop offset="0.8594" stop-color="#ebe541"/><stop offset="0.875" stop-color="#f4ce39"/><stop offset="0.8906" stop-color="#f6a832"/><stop offset="0.9062" stop-color="#f58e30"/><stop offset="0.9219" stop-color="#f2712c"/><stop offset="0.9375" stop-color="#ef532a"/><stop offset="0.9531" stop-color="#eb2c28"/><stop offset="0.9688" stop-color="#c12831"/><stop offset="0.9844" stop-color="#aa2731"/><stop offset="1" stop-color="#9d2630"/></linearGradient>
<linearGradient id="e105" x1="0" y1="0" x2="0" y2="1"><stop offset="0" stop-color="#f1632b"/><stop offset="0.01562" stop-color="#f1632b"/><stop offset="0.03125" stop-color="#f1632b"/><stop offset="0.04688" stop-color="#f1632b"/><stop offset="0.0625" stop-color="#f1632b"/><stop offset="0.07812" stop-color="#f1632b"/><stop offset="0.09375" stop-color="#f1632b"/><stop offset="0.1094" stop-color="#f1652b"/><stop offset="0.125" stop-color="#f3752d"/><stop offset="0.1406" stop-color="#f6a632"/><stop offset="0.1562" stop-color="#efe13d"/><stop offset="0.1719" stop-color="#d6e04d"/><stop offset="0.1875" stop-color="#c2da57"/><stop offset="0.2031" stop-color="#b3d55e"/><stop offset="0.2188" stop-color="#aed360"/><stop offset="0.2344" stop-color="#b7d65c"/><stop offset="0.25" stop-color="#d1de50"/><stop offset="0.2656" stop-color="#cadd53"/><stop offset="0.2812" stop-color="#87c979"/><stop offset="0.2969" stop-color="#56bebc"/><stop offset="0.3125" stop-color="#2ca9e5"/><stop offset="0.3281" stop-color="#2782cb"/><stop offset="0.3438" stop-color="#2467b6"/><stop offset="0.3594" stop-color="#2461b2"/><stop offset="0.375" stop-color="#2360b0"/><stop offset="0.3906" stop-color="#235eaf"/><stop offset="0.4062" stop-color="#235cad"/><stop offset="0.4219" stop-color="#2253a8"/><stop offset="0.4375" stop-color="#214aa2"/><stop offset="0.4531" stop-color="#2047a0"/><stop offset="0.4688" stop-color="#20449e"/><stop offset="0.4844" stop-color="#20449e"/><stop offset="0.5" stop-color="#21439c"/><stop offset="0.5156" stop-color="#21439d"/><stop offset="0.5312" stop-color="#21439d"/><stop offset="0.5469" stop-color="#20439d"/><stop offset="0.5625" stop-color="#214ba3"/><stop offset="0.5781" stop-color="#214ea5"/><stop offset="0.5938" stop-color="#2255a9"/><stop offset="0.6094" stop-color="#225bac"/><stop offset="0.625" stop-color="#2462b2"/><stop offset="0.6406" stop-color="#256cbb"/><stop offset="0.6562" stop-color="#2678c4"/><stop offset="0.6719" stop-color="#2891d6"/><stop offset="0.6875" stop-color="#44bbd4"/><stop offset="0.7031" stop-color="#58beb8"/><stop offset="0.7188" stop-color="#66c29b"/><stop offset="0.7344" stop-color="#6ec491"/><stop offset="0.75" stop-color="#6fc490"/><stop offset="0.7656" stop-color="#70c48f"/><stop offset="0.7812" stop-color="#71c58e"/><stop offset="0.7969" stop-color="#7fc780"/><stop offset="0.8125" stop-color="#91cc72"/><stop offset="0.8281" stop-color="#a9d163"/><stop offset="0.8438" stop-color="#c1da57"/><stop offset="0.8594" stop-color="#dce24a"/><stop offset="0.875" stop-color="#f0e03d"/><stop offset="0.8906" stop-color="#f4c436"/><stop offset="0.9062" stop-color="#f6a532"/><stop offset="0.9219" stop-color="#f58d2f"/><stop offset="0.9375" stop-color="#f26d2c"/><stop offset="0.9531" stop-color="#ee4829"/><stop offset="0.9688" stop-color="#e2292b"/><stop offset="0.9844" stop-color="#c52830"/><stop offset="1" stop-color="#b52832"/></linearGradient>
<linearGradient id="e106" x1="0" y1="0" x2="0" y2="1"><stop offset="0" stop-color="#f1682b"/><stop offset="0.01562" stop-color="#f1682b"/><stop offset="0.03125" stop-color="#f1682b"/><stop offset="0.04688" stop-color="#f1682b"/><stop offset="0.0625" stop-color="#f1682b"/><stop offset="0.07812" stop-color="#f1682b"/><stop offset="0.09375" stop-color="#f1682b"/><stop offset="0.1094" stop-color="#f26c2c"/><stop offset="0.125" stop-color="#f37b2d"/><stop offset="0.1406" stop-color="#f6aa32"/><stop offset="0.1562" stop-color="#eee53e"/><stop offset="0.1719" stop-color="#d3df4f"/><stop offset="0.1875" stop-color="#bed859"/><stop offset="0.2031" stop-color="#aed360"/><stop offset="0.2188" stop-color="#a9d163"/><stop offset="0.2344" stop-color="#b3d45e"/><stop offset="0.25" stop-color="#ccdd52"/><stop offset="0.2656" stop-color="#c7dc54"/><stop offset="0.2812" stop-color="#87c979"/><stop offset="0.2969" stop-color="#56bebc"/><stop offset="0.3125" stop-color="#2caae6"/><stop offset="0.3281" stop-color="#2780c9"/><stop offset="0.3438" stop-color="#2467b6"/><stop offset="0.3594" stop-color="#2361b1"/><stop offset="0.375" stop-color="#235fb0"/><stop offset="0.3906" stop-color="#235eaf"/><stop offset="0.4062" stop-color="#235cad"/><stop offset="0.4219" stop-color="#2153a7"/><stop offset="0.4375" stop-color="#214aa2"/><stop offset="0.4531" stop-color="#2047a0"/><stop offset="0.4688" stop-color="#20449e"/><stop offset="0.4844" stop-color="#20449d"/><stop offset="0.5" stop-color="#21439c"/><stop offset="0.5156" stop-color="#21439c"/><stop offset="0.5312" stop-color="#21439d"/><stop offset="0.5469" stop-color="#20439d"/><stop offset="0.5625" stop-color="#2149a2"/><stop offset="0.5781" stop-color="#214ba3"/><stop offset="0.5938" stop-color="#2254a8"/><stop offset="0.6094" stop-color="#2259ab"/><stop offset="0.625" stop-color="#235fb0"/><stop offset="0.6406" stop-color="#2466b6"/><stop offset="0.6562" stop-color="#256ebc"/><stop offset="0.6719" stop-color="#2784cc"/><stop offset="0.6875" stop-color="#39b9df"/><stop offset="0.7031" stop-color="#52bdc2"/><stop offset="0.7188" stop-color="#5fc0a6"/><stop offset="0.7344" stop-color="#64c29d"/><stop offset="0.75" stop-color="#65c29c"/><stop offset="0.7656" stop-color="#66c29a"/><stop offset="0.7812" stop-color="#67c299"/><stop offset="0.7969" stop-color="#75c58a"/><stop offset="0.8125" stop-color="#85c87a"/><stop offset="0.8281" stop-color="#9bce6b"/><stop offset="0.8438" stop-color="#b0d45f"/><stop offset="0.8594" stop-color="#cadc53"/><stop offset="0.875" stop-color="#e5e445"/><stop offset="0.8906" stop-color="#f1dd3c"/><stop offset="0.9062" stop-color="#f4c637"/><stop offset="0.9219" stop-color="#f6a832"/><stop offset="0.9375" stop-color="#f48a2f"/><stop offset="0.9531" stop-color="#f1672b"/><stop offset="0.9688" stop-color="#ec3628"/><stop offset="0.9844" stop-color="#e3292a"/><stop offset="1" stop-color="#d1282e"/></linearGradient>
<linearGradient id="e107" x1="0" y1="0" x2="0" y2="1"><stop offset="0" stop-color="#f26d2c"/><stop offset="0.01562" stop-color="#f26d2c"/><stop offset="0.03125" stop-color="#f26d2c"/><stop offset="0.04688" stop-color="#f26d2c"/><stop offset="0.0625" stop-color="#f26d2c"/><stop offset="0.07812" stop-color="#f26d2c"/><stop offset="0.09375" stop-color="#f26d2c"/><stop offset="0.1094" stop-color="#f2722c"/><stop offset="0.125" stop-color="#f4842e"/><stop offset="0.1406" stop-color="#f6b133"/><stop offset="0.1562" stop-color="#ece640"/><stop offset="0.1719" stop-color="#cfde50"/><stop offset="0.1875" stop-color="#bad75b"/><stop offset="0.2031" stop-color="#a9d163"/><stop offset="0.2188" stop-color="#a4d066"/><stop offset="0.2344" stop-color="#aed360"/><stop offset="0.25" stop-color="#c7dc54"/><stop offset="0.2656" stop-color="#c4db56"/><stop offset="0.2812" stop-color="#87c979"/><stop offset="0.2969" stop-color="#56bebb"/><stop offset="0.3125" stop-color="#2caae6"/><stop offset="0.3281" stop-color="#277ec8"/><stop offset="0.3438" stop-color="#2466b6"/><stop offset="0.3594" stop-color="#2361b1"/><stop offset="0.375" stop-color="#235fb0"/><stop offset="0.3906" stop-color="#235eaf"/><stop offset="0.4062" stop-color="#235cad"/><stop offset="0.4219" stop-color="#2152a7"/><stop offset="0.4375" stop-color="#214aa2"/><stop offset="0.4531" stop-color="#2047a0"/><stop offset="0.4688" stop-color="#20449e"/><stop offset="0.4844" stop-color="#20439d"/><stop offset="0.5" stop-color="#21429c"/><stop offset="0.5156" stop-color="#21439c"/><stop offset="0.5312" stop-color="#21439d"/><stop offset="0.5469" stop-color="#21439d"/><stop offset="0.5625" stop-color="#2047a0"/><stop offset="0.5781" stop-color="#2048a1"/><stop offset="0.5938" stop-color="#2153a7"/><stop offset="0.6094" stop-color="#2257a9"/><stop offset="0.625" stop-color="#235cad"/><stop offset="0.6406" stop-color="#2461b2"/><stop offset="0.6562" stop-color="#2467b7"/><stop offset="0.6719" stop-color="#2678c4"/><stop offset="0.6875" stop-color="#31b3e5"/><stop offset="0.7031" stop-color="#4cbccb"/><stop offset="0.7188" stop-color="#5abeb5"/><stop offset="0.7344" stop-color="#5ec0a9"/><stop offset="0.75" stop-color="#5ec0a7"/><stop offset="0.7656" stop-color="#5fc0a4"/><stop offset="0.7812" stop-color="#61c1a2"/><stop offset="0.7969" stop-color="#6bc394"/><stop offset="0.8125" stop-color="#7dc782"/><stop offset="0.8281" stop-color="#91cb72"/><stop offset="0.8438" stop-color="#a4d066"/><stop offset="0.8594" stop-color="#bbd75a"/><stop offset="0.875" stop-color="#d5e04e"/><stop offset="0.8906" stop-color="#e6e444"/><stop offset="0.9062" stop-color="#f0e03d"/><stop offset="0.9219" stop-color="#f4ca38"/><stop offset="0.9375" stop-color="#f6a431"/><stop offset="0.9531" stop-color="#f37e2e"/><stop offset="0.9688" stop-color="#ef522a"/><stop offset="0.9844" stop-color="#ec3328"/><stop offset="1" stop-color="#e92a29"/></linearGradient>
<linearGradient id="g2" x1="0" y1="0" x2="0" y2="1"><stop offset="0" stop-color="#f2702c"/><stop offset="0.01562" stop-color="#f2702c"/><stop offset="0.03125" stop-color="#f2702c"/><stop offset="0.04688" stop-color="#f2702c"/><stop offset="0.0625" stop-color="#f2702c"/><stop offset="0.07812" stop-color="#f2702c"/><stop offset="0.09375" stop-color="#f2702c"/><stop offset="0.1094" stop-color="#f3772d"/><stop offset="0.125" stop-color="#f4892f"/><stop offset="0.1406" stop-color="#f6b433"/><stop offset="0.1562" stop-color="#ebe540"/><stop offset="0.1719" stop-color="#cfde51"/><stop offset="0.1875" stop-color="#b8d65b"/><stop offset="0.2031" stop-color="#a7d164"/><stop offset="0.2188" stop-color="#a2d067"/><stop offset="0.2344" stop-color="#acd261"/><stop offset="0.25" stop-color="#c5db55"/><stop offset="0.2656" stop-color="#c4db56"/><stop offset="0.2812" stop-color="#88c978"/><stop offset="0.2969" stop-color="#57beba"/><stop offset="0.3125" stop-color="#2cace6"/><stop offset="0.3281" stop-color="#277dc7"/><stop offset="0.3438" stop-color="#2466b6"/><stop offset="0.3594" stop-color="#2361b1"/><stop offset="0.375" stop-color="#235fb0"/><stop offset="0.3906" stop-color="#235eaf"/><stop offset="0.4062" stop-color="#235cad"/><stop offset="0.4219" stop-color="#2152a7"/><stop offset="0.4375" stop-color="#214aa2"/><stop offset="0.4531" stop-color="#2047a0"/><stop offset="0.4688" stop-color="#20449e"/><stop offset="0.4844" stop-color="#20439d"/><stop offset="0.5" stop-color="#21429c"/><stop offset="0.5156" stop-color="#21439c"/><stop offset="0.5312" stop-color="#21439d"/><stop offset="0.5469" stop-color="#20439d"/><stop offset="0.5625" stop-color="#20459f"/><stop offset="0.5781" stop-color="#2046a0"/><stop offset="0.5938" stop-color="#2152a7"/><stop offset="0.6094" stop-color="#2256a9"/><stop offset="0.625" stop-color="#225aab"/><stop offset="0.6406" stop-color="#235eaf"/><stop offset="0.6562" stop-color="#2462b3"/><stop offset="0.6719" stop-color="#2671bf"/><stop offset="0.6875" stop-color="#2daee8"/><stop offset="0.7031" stop-color="#44bbd4"/><stop offset="0.7188" stop-color="#54bdbf"/><stop offset="0.7344" stop-color="#5abfb4"/><stop offset="0.75" stop-color="#5bbfb1"/><stop offset="0.7656" stop-color="#5cbfad"/><stop offset="0.7812" stop-color="#5dbfaa"/><stop offset="0.7969" stop-color="#66c29a"/><stop offset="0.8125" stop-color="#78c687"/><stop offset="0.8281" stop-color="#8aca76"/><stop offset="0.8438" stop-color="#9cce6a"/><stop offset="0.8594" stop-color="#b2d45e"/><stop offset="0.875" stop-color="#cbdd52"/><stop offset="0.8906" stop-color="#dbe14b"/><stop offset="0.9062" stop-color="#e7e543"/><stop offset="0.9219" stop-color="#f1dd3c"/><stop offset="0.9375" stop-color="#f5b934"/><stop offset="0.9531" stop-color="#f59130"/><stop offset="0.9688" stop-color="#f1602b"/><stop offset="0.9844" stop-color="#ed4028"/><stop offset="1" stop-color="#eb3028"/></linearGradient>
<linearGradient id="g1" x1="0" y1="0" x2="0" y2="1"><stop offset="0" stop-color="#f2742c"/><stop offset="0.01562" stop-color="#f2742c"/><stop offset="0.03125" stop-color="#f2742c"/><stop offset="0.04688" stop-color="#f2742c"/><stop offset="0.0625" stop-color="#f2742c"/><stop offset="0.07812" stop-color="#f2742c"/><stop offset="0.09375" stop-color="#f2742c"/><stop offset="0.1094" stop-color="#f37c2d"/><stop offset="0.125" stop-color="#f58f30"/><stop offset="0.1406" stop-color="#f5b934"/><stop offset="0.1562" stop-color="#e9e542"/><stop offset="0.1719" stop-color="#cddd52"/><stop offset="0.1875" stop-color="#b6d65c"/><stop offset="0.2031" stop-color="#a5d065"/><stop offset="0.2188" stop-color="#a0cf68"/><stop offset="0.2344" stop-color="#aad262"/><stop offset="0.25" stop-color="#c3da56"/><stop offset="0.2656" stop-color="#c2da57"/><stop offset="0.2812" stop-color="#88c978"/><stop offset="0.2969" stop-color="#57beba"/><stop offset="0.3125" stop-color="#2cabe6"/><stop offset="0.3281" stop-color="#277bc6"/><stop offset="0.3438" stop-color="#2466b6"/><stop offset="0.3594" stop-color="#2361b1"/><stop offset="0.375" stop-color="#235fb0"/><stop offset="0.3906" stop-color="#235eaf"/><stop offset="0.4062" stop-color="#235cad"/><stop offset="0.4219" stop-color="#2152a7"/><stop offset="0.4375" stop-color="#214aa2"/><stop offset="0.4531" stop-color="#2047a0"/><stop offset="0.4688" stop-color="#20449e"/><stop offset="0.4844" stop-color="#21439d"/><stop offset="0.5" stop-color="#21429c"/><stop offset="0.5156" stop-color="#21439c"/><stop offset="0.5312" stop-color="#21439d"/><stop offset="0.5469" stop-color="#20439d"/><stop offset="0.5625" stop-color="#20459e"/><stop offset="0.5781" stop-color="#20459f"/><stop offset="0.5938" stop-color="#2151a7"/><stop offset="0.6094" stop-color="#2255a9"/><stop offset="0.625" stop-color="#2258aa"/><stop offset="0.6406" stop-color="#235cad"/><stop offset="0.6562" stop-color="#2360b1"/><stop offset="0.6719" stop-color="#256fbd"/><stop offset="0.6875" stop-color="#2ca9e5"/><stop offset="0.7031" stop-color="#3ebada"/><stop offset="0.7188" stop-color="#51bdc4"/><stop offset="0.7344" stop-color="#58beb9"/><stop offset="0.75" stop-color="#59beb6"/><stop offset="0.7656" stop-color="#5abfb3"/><stop offset="0.7812" stop-color="#5bbfaf"/><stop offset="0.7969" stop-color="#64c29d"/><stop offset="0.8125" stop-color="#75c58a"/><stop offset="0.8281" stop-color="#87c979"/><stop offset="0.8438" stop-color="#98cd6d"/><stop offset="0.8594" stop-color="#add261"/><stop offset="0.875" stop-color="#c5db55"/><stop offset="0.8906" stop-color="#d4df4e"/><stop offset="0.9062" stop-color="#e0e348"/><stop offset="0.9219" stop-color="#eee63e"/><stop offset="0.9375" stop-color="#f4c637"/><stop offset="0.9531" stop-color="#f59a31"/><stop offset="0.9688" stop-color="#f1682b"/><stop offset="0.9844" stop-color="#ee4929"/><stop offset="1" stop-color="#ec3528"/></linearGradient>
<linearGradient id="g0" x1="0" y1="0" x2="0" y2="1"><stop offset="0" stop-color="#f37a2d"/><stop offset="0.01562" stop-color="#f37a2d"/><stop offset="0.03125" stop-color="#f37a2d"/><stop offset="0.04688" stop-color="#f37a2d"/><stop offset="0.0625" stop-color="#f37a2d"/><stop offset="0.07812" stop-color="#f37a2d"/><stop offset="0.09375" stop-color="#f37a2d"/><stop offset="0.1094" stop-color="#f4852e"/><stop offset="0.125" stop-color="#f59630"/><stop offset="0.1406" stop-color="#f5bf35"/><stop offset="0.1562" stop-color="#e7e543"/><stop offset="0.1719" stop-color="#cbdd53"/><stop offset="0.1875" stop-color="#b4d55d"/><stop offset="0.2031" stop-color="#a2d067"/><stop offset="0.2188" stop-color="#9dcf6a"/><stop offset="0.2344" stop-color="#a8d163"/><stop offset="0.25" stop-color="#c0d958"/><stop offset="0.2656" stop-color="#c0d958"/><stop offset="0.2812" stop-color="#87c978"/><stop offset="0.2969" stop-color="#57bebb"/><stop offset="0.3125" stop-color="#2cabe6"/><stop offset="0.3281" stop-color="#277ac5"/><stop offset="0.3438" stop-color="#2466b6"/><stop offset="0.3594" stop-color="#2361b1"/><stop offset="0.375" stop-color="#235fb0"/><stop offset="0.3906" stop-color="#235eaf"/><stop offset="0.4062" stop-color="#235cad"/><stop offset="0.4219" stop-color="#2152a7"/><stop offset="0.4375" stop-color="#214aa2"/><stop offset="0.4531" stop-color="#2047a0"/><stop offset="0.4688" stop-color="#20449e"/><stop offset="0.4844" stop-color="#21439d"/><stop offset="0.5" stop-color="#21429c"/><stop offset="0.5156" stop-color="#21439c"/><stop offset="0.5312" stop-color="#21439d"/><stop offset="0.5469" stop-color="#20439d"/><stop offset="0.5625" stop-color="#20449d"/><stop offset="0.5781" stop-color="#20449e"/><stop offset="0.5938" stop-color="#2150a6"/><stop offset="0.6094" stop-color="#2254a8"/><stop offset="0.625" stop-color="#2257aa"/><stop offset="0.6406" stop-color="#225aac"/><stop offset="0.6562" stop-color="#235eaf"/><stop offset="0.6719" stop-color="#256dbb"/><stop offset="0.6875" stop-color="#2ba5e3"/><stop offset="0.7031" stop-color="#39b9df"/><stop offset="0.7188" stop-color="#4dbcc9"/><stop offset="0.7344" stop-color="#54bdbe"/><stop offset="0.75" stop-color="#57bebb"/><stop offset="0.7656" stop-color="#59beb7"/><stop offset="0.7812" stop-color="#5abfb3"/><stop offset="0.7969" stop-color="#62c1a0"/><stop offset="0.8125" stop-color="#72c58d"/><stop offset="0.8281" stop-color="#84c87b"/><stop offset="0.8438" stop-color="#95cd6f"/><stop offset="0.8594" stop-color="#a9d163"/><stop offset="0.875" stop-color="#c1d957"/><stop offset="0.8906" stop-color="#cede51"/><stop offset="0.9062" stop-color="#d9e14c"/><stop offset="0.9219" stop-color="#e8e543"/><stop offset="0.9375" stop-color="#f3d139"/><stop offset="0.9531" stop-color="#f6a131"/><stop offset="0.9688" stop-color="#f26d2c"/><stop offset="0.9844" stop-color="#ef5129"/><stop offset="1" stop-color="#ec3b28"/></linearGradient>
<linearGradient id="g3" x1="0" y1="0" x2="0" y2="1"><stop offset="0" stop-color="#f26d2c"/><stop offset="0.01562" stop-color="#f26d2c"/><stop offset="0.03125" stop-color="#f26d2c"/><stop offset="0.04688" stop-color="#f26d2c"/><stop offset="0.0625" stop-color="#f26d2c"/><stop offset="0.07812" stop-color="#f26d2c"/><stop offset="0.09375" stop-color="#f26d2c"/><stop offset="0.1094" stop-color="#f2722c"/><stop offset="0.125" stop-color="#f4842e"/><stop offset="0.1406" stop-color="#f6af33"/><stop offset="0.1562" stop-color="#ede63f"/><stop offset="0.1719" stop-color="#d1df4f"/><stop offset="0.1875" stop-color="#bbd75a"/><stop offset="0.2031" stop-color="#a9d163"/><stop offset="0.2188" stop-color="#a4d066"/><stop offset="0.2344" stop-color="#afd360"/><stop offset="0.25" stop-color="#c8dc54"/><stop offset="0.2656" stop-color="#c6db55"/><stop offset="0.2812" stop-color="#88c978"/><stop offset="0.2969" stop-color="#57beba"/><stop offset="0.3125" stop-color="#2cace7"/><stop offset="0.3281" stop-color="#277ec8"/><stop offset="0.3438" stop-color="#2467b6"/><stop offset="0.3594" stop-color="#2461b2"/><stop offset="0.375" stop-color="#2360b0"/><stop offset="0.3906" stop-color="#235eaf"/><stop offset="0.4062" stop-color="#235cad"/><stop offset="0.4219" stop-color="#2152a7"/><stop offset="0.4375" stop-color="#214aa2"/><stop offset="0.4531" stop-color="#2047a0"/><stop offset="0.4688" stop-color="#20449e"/><stop offset="0.4844" stop-color="#20439d"/><stop offset="0.5" stop-color="#21439c"/><stop offset="0.5156" stop-color="#21439c"/><stop offset="0.5312" stop-color="#21439d"/><stop offset="0.5469" stop-color="#20439d"/><stop offset="0.5625" stop-color="#2046a0"/><stop offset="0.5781" stop-color="#2047a0"/><stop offset="0.5938" stop-color="#2152a7"/><stop offset="0.6094" stop-color="#2257a9"/><stop offset="0.625" stop-color="#225bac"/><stop offset="0.6406" stop-color="#2360b1"/><stop offset="0.6562" stop-color="#2465b5"/><stop offset="0.6719" stop-color="#2675c1"/><stop offset="0.6875" stop-color="#30b2e6"/><stop offset="0.7031" stop-color="#4abcce"/><stop offset="0.7188" stop-color="#58beb9"/><stop offset="0.7344" stop-color="#5cbfae"/><stop offset="0.75" stop-color="#5dbfab"/><stop offset="0.7656" stop-color="#5ec0a8"/><stop offset="0.7812" stop-color="#5fc0a5"/><stop offset="0.7969" stop-color="#69c396"/><stop offset="0.8125" stop-color="#7bc684"/><stop offset="0.8281" stop-color="#8ecb73"/><stop offset="0.8438" stop-color="#a1d067"/><stop offset="0.8594" stop-color="#b8d65b"/><stop offset="0.875" stop-color="#d2df4f"/><stop offset="0.8906" stop-color="#e3e447"/><stop offset="0.9062" stop-color="#eee63e"/><stop offset="0.9219" stop-color="#f3d33a"/><stop offset="0.9375" stop-color="#f6aa32"/><stop offset="0.9531" stop-color="#f4852e"/><stop offset="0.9688" stop-color="#f0582a"/><stop offset="0.9844" stop-color="#ec3628"/><stop offset="1" stop-color="#eb2b28"/></linearGradient>
<linearGradient id="g5" x1="0" y1="0" x2="0" y2="1"><stop offset="0" stop-color="#f1672b"/><stop offset="0.01562" stop-color="#f1672b"/><stop offset="0.03125" stop-color="#f1672b"/><stop offset="0.04688" stop-color="#f1672b"/><stop offset="0.0625" stop-color="#f1672b"/><stop offset="0.07812" stop-color="#f1672b"/><stop offset="0.09375" stop-color="#f1672b"/><stop offset="0.1094" stop-color="#f26b2c"/><stop offset="0.125" stop-color="#f37b2d"/><stop offset="0.1406" stop-color="#f6a832"/><stop offset="0.1562" stop-color="#efe33d"/><stop offset="0.1719" stop-color="#d5e04d"/><stop offset="0.1875" stop-color="#bfd958"/><stop offset="0.2031" stop-color="#aed360"/><stop offset="0.2188" stop-color="#a9d163"/><stop offset="0.2344" stop-color="#b4d55d"/><stop offset="0.25" stop-color="#cddd51"/><stop offset="0.2656" stop-color="#c9dc53"/><stop offset="0.2812" stop-color="#89c977"/><stop offset="0.2969" stop-color="#57beba"/><stop offset="0.3125" stop-color="#2cace7"/><stop offset="0.3281" stop-color="#2780c9"/><stop offset="0.3438" stop-color="#2467b6"/><stop offset="0.3594" stop-color="#2461b2"/><stop offset="0.375" stop-color="#2360b1"/><stop offset="0.3906" stop-color="#235faf"/><stop offset="0.4062" stop-color="#235cae"/><stop offset="0.4219" stop-color="#2153a7"/><stop offset="0.4375" stop-color="#214aa2"/><stop offset="0.4531" stop-color="#2047a0"/><stop offset="0.4688" stop-color="#20449e"/><stop offset="0.4844" stop-color="#20449e"/><stop offset="0.5" stop-color="#21439c"/><stop offset="0.5156" stop-color="#21439d"/><stop offset="0.5312" stop-color="#20439d"/><stop offset="0.5469" stop-color="#20449d"/><stop offset="0.5625" stop-color="#2048a1"/><stop offset="0.5781" stop-color="#214aa2"/><stop offset="0.5938" stop-color="#2254a8"/><stop offset="0.6094" stop-color="#2258aa"/><stop offset="0.625" stop-color="#235daf"/><stop offset="0.6406" stop-color="#2464b4"/><stop offset="0.6562" stop-color="#256bba"/><stop offset="0.6719" stop-color="#277ec8"/><stop offset="0.6875" stop-color="#36b8e2"/><stop offset="0.7031" stop-color="#50bdc6"/><stop offset="0.7188" stop-color="#5cbfad"/><stop offset="0.7344" stop-color="#61c1a2"/><stop offset="0.75" stop-color="#62c1a1"/><stop offset="0.7656" stop-color="#63c19f"/><stop offset="0.7812" stop-color="#64c29d"/><stop offset="0.7969" stop-color="#71c58e"/><stop offset="0.8125" stop-color="#82c87d"/><stop offset="0.8281" stop-color="#97cd6e"/><stop offset="0.8438" stop-color="#abd261"/><stop offset="0.8594" stop-color="#c5db56"/><stop offset="0.875" stop-color="#e0e348"/><stop offset="0.8906" stop-color="#efe43e"/><stop offset="0.9062" stop-color="#f3d23a"/><stop offset="0.9219" stop-color="#f5b534"/><stop offset="0.9375" stop-color="#f59630"/><stop offset="0.9531" stop-color="#f2702c"/><stop offset="0.9688" stop-color="#ed4029"/><stop offset="0.9844" stop-color="#ea2a28"/><stop offset="1" stop-color="#d9282d"/></linearGradient>
<linearGradient id="g8" x1="0" y1="0" x2="0" y2="1"><stop offset="0" stop-color="#f05e2a"/><stop offset="0.01562" stop-color="#f05e2a"/><stop offset="0.03125" stop-color="#f05e2a"/><stop offset="0.04688" stop-color="#f05e2a"/><stop offset="0.0625" stop-color="#f05e2a"/><stop offset="0.07812" stop-color="#f05e2a"/><stop offset="0.09375" stop-color="#f05e2a"/><stop offset="0.1094" stop-color="#f1622b"/><stop offset="0.125" stop-color="#f2722c"/><stop offset="0.1406" stop-color="#f6a131"/><stop offset="0.1562" stop-color="#f1dd3c"/><stop offset="0.1719" stop-color="#dbe14b"/><stop offset="0.1875" stop-color="#c6db55"/><stop offset="0.2031" stop-color="#b6d65c"/><stop offset="0.2188" stop-color="#b1d45f"/><stop offset="0.2344" stop-color="#bbd75a"/><stop offset="0.25" stop-color="#d5e04e"/><stop offset="0.2656" stop-color="#cfde51"/><stop offset="0.2812" stop-color="#8ac977"/><stop offset="0.2969" stop-color="#58beb9"/><stop offset="0.3125" stop-color="#2dade7"/><stop offset="0.3281" stop-color="#2784cc"/><stop offset="0.3438" stop-color="#2468b7"/><stop offset="0.3594" stop-color="#2462b2"/><stop offset="0.375" stop-color="#2360b1"/><stop offset="0.3906" stop-color="#235fb0"/><stop offset="0.4062" stop-color="#235dae"/><stop offset="0.4219" stop-color="#2254a8"/><stop offset="0.4375" stop-color="#214ba3"/><stop offset="0.4531" stop-color="#2048a1"/><stop offset="0.4688" stop-color="#20459f"/><stop offset="0.4844" stop-color="#20449e"/><stop offset="0.5" stop-color="#21439d"/><stop offset="0.5156" stop-color="#20439d"/><stop offset="0.5312" stop-color="#20439d"/><stop offset="0.5469" stop-color="#20449e"/><stop offset="0.5625" stop-color="#214ba3"/><stop offset="0.5781" stop-color="#214da4"/><stop offset="0.5938" stop-color="#2255a9"/><stop offset="0.6094" stop-color="#225bac"/><stop offset="0.625" stop-color="#2461b2"/><stop offset="0.6406" stop-color="#256bb9"/><stop offset="0.6562" stop-color="#2675c1"/><stop offset="0.6719" stop-color="#288ed3"/><stop offset="0.6875" stop-color="#43bbd5"/><stop offset="0.7031" stop-color="#58beb9"/><stop offset="0.7188" stop-color="#64c29d"/><stop offset="0.7344" stop-color="#6bc394"/><stop offset="0.75" stop-color="#6dc492"/><stop offset="0.7656" stop-color="#6ec491"/><stop offset="0.7812" stop-color="#6fc490"/><stop offset="0.7969" stop-color="#7dc782"/><stop offset="0.8125" stop-color="#8fcb73"/><stop offset="0.8281" stop-color="#a7d164"/><stop offset="0.8438" stop-color="#c0d958"/><stop offset="0.8594" stop-color="#dbe14b"/><stop offset="0.875" stop-color="#efe13d"/><stop offset="0.8906" stop-color="#f4c737"/><stop offset="0.9062" stop-color="#f6a832"/><stop offset="0.9219" stop-color="#f59230"/><stop offset="0.9375" stop-color="#f2712c"/><stop offset="0.9531" stop-color="#ef4d29"/><stop offset="0.9688" stop-color="#e4292a"/><stop offset="0.9844" stop-color="#c72830"/><stop offset="1" stop-color="#b62832"/></linearGradient>
<linearGradient id="g11" x1="0" y1="0" x2="0" y2="1"><stop offset="0" stop-color="#ef552a"/><stop offset="0.01562" stop-color="#ef552a"/><stop offset="0.03125" stop-color="#ef552a"/><stop offset="0.04688" stop-color="#ef552a"/><stop offset="0.0625" stop-color="#ef552a"/><stop offset="0.07812" stop-color="#ef552a"/><stop offset="0.09375" stop-color="#ef552a"/><stop offset="0.1094" stop-color="#f0582a"/><stop offset="0.125" stop-color="#f1692b"/><stop offset="0.1406" stop-color="#f59b31"/><stop offset="0.1562" stop-color="#f2d63b"/><stop offset="0.1719" stop-color="#e1e348"/><stop offset="0.1875" stop-color="#cddd52"/><stop offset="0.2031" stop-color="#bed958"/><stop offset="0.2188" stop-color="#b9d75b"/><stop offset="0.2344" stop-color="#c1da57"/><stop offset="0.25" stop-color="#dce24a"/><stop offset="0.2656" stop-color="#d4e04e"/><stop offset="0.2812" stop-color="#8bca76"/><stop offset="0.2969" stop-color="#58beb9"/><stop offset="0.3125" stop-color="#2daee7"/><stop offset="0.3281" stop-color="#2887ce"/><stop offset="0.3438" stop-color="#2568b7"/><stop offset="0.3594" stop-color="#2462b3"/><stop offset="0.375" stop-color="#2361b1"/><stop offset="0.3906" stop-color="#235fb0"/><stop offset="0.4062" stop-color="#235dae"/><stop offset="0.4219" stop-color="#2254a8"/><stop offset="0.4375" stop-color="#214ba3"/><stop offset="0.4531" stop-color="#2048a1"/><stop offset="0.4688" stop-color="#20459f"/><stop offset="0.4844" stop-color="#20449e"/><stop offset="0.5" stop-color="#20439d"/><stop offset="0.5156" stop-color="#20449d"/><stop offset="0.5312" stop-color="#20449e"/><stop offset="0.5469" stop-color="#20449e"/><stop offset="0.5625" stop-color="#214da5"/><stop offset="0.5781" stop-color="#2150a6"/><stop offset="0.5938" stop-color="#2257aa"/><stop offset="0.6094" stop-color="#235dae"/><stop offset="0.625" stop-color="#2465b5"/><stop offset="0.6406" stop-color="#2672bf"/><stop offset="0.6562" stop-color="#2785cd"/><stop offset="0.6719" stop-color="#2aa1e2"/><stop offset="0.6875" stop-color="#4dbcc9"/><stop offset="0.7031" stop-color="#5cbfad"/><stop offset="0.7188" stop-color="#70c48f"/><stop offset="0.7344" stop-color="#7ac685"/><stop offset="0.75" stop-color="#7bc684"/><stop offset="0.7656" stop-color="#7cc783"/><stop offset="0.7812" stop-color="#7cc783"/><stop offset="0.7969" stop-color="#8ac976"/><stop offset="0.8125" stop-color="#a0cf68"/><stop offset="0.8281" stop-color="#bdd859"/><stop offset="0.8438" stop-color="#d7e04c"/><stop offset="0.8594" stop-color="#eee53e"/><stop offset="0.875" stop-color="#f4c737"/><stop offset="0.8906" stop-color="#f6a331"/><stop offset="0.9062" stop-color="#f4892f"/><stop offset="0.9219" stop-color="#f26d2c"/><stop offset="0.9375" stop-color="#ef4d29"/><stop offset="0.9531" stop-color="#e92a29"/><stop offset="0.9688" stop-color="#b92832"/><stop offset="0.9844" stop-color="#a12731"/><stop offset="1" stop-color="#94252f"/></linearGradient>
<linearGradient id="g13" x1="0" y1="0" x2="0" y2="1"><stop offset="0" stop-color="#ef4f29"/><stop offset="0.01562" stop-color="#ef4f29"/><stop offset="0.03125" stop-color="#ef4f29"/><stop offset="0.04688" stop-color="#ef4f29"/><stop offset="0.0625" stop-color="#ef4f29"/><stop offset="0.07812" stop-color="#ef4f29"/><stop offset="0.09375" stop-color="#ef4f29"/><stop offset="0.1094" stop-color="#ef5029"/><stop offset="0.125" stop-color="#f1642b"/><stop offset="0.1406" stop-color="#f59630"/><stop offset="0.1562" stop-color="#f3d23a"/><stop offset="0.1719" stop-color="#e4e446"/><stop offset="0.1875" stop-color="#d1df4f"/><stop offset="0.2031" stop-color="#c4da56"/><stop offset="0.2188" stop-color="#bfd958"/><stop offset="0.2344" stop-color="#c6db55"/><stop offset="0.25" stop-color="#e1e348"/><stop offset="0.2656" stop-color="#d8e14c"/><stop offset="0.2812" stop-color="#8cca75"/><stop offset="0.2969" stop-color="#58beb9"/><stop offset="0.3125" stop-color="#2daee8"/><stop offset="0.3281" stop-color="#2889d0"/><stop offset="0.3438" stop-color="#2569b8"/><stop offset="0.3594" stop-color="#2463b3"/><stop offset="0.375" stop-color="#2461b2"/><stop offset="0.3906" stop-color="#2360b0"/><stop offset="0.4062" stop-color="#235dae"/><stop offset="0.4219" stop-color="#2255a8"/><stop offset="0.4375" stop-color="#214ba3"/><stop offset="0.4531" stop-color="#2048a1"/><stop offset="0.4688" stop-color="#20459f"/><stop offset="0.4844" stop-color="#20449e"/><stop offset="0.5" stop-color="#20449e"/><stop offset="0.5156" stop-color="#20449e"/><stop offset="0.5312" stop-color="#20449e"/><stop offset="0.5469" stop-color="#20449e"/><stop offset="0.5625" stop-color="#214fa6"/><stop offset="0.5781" stop-color="#2153a7"/><stop offset="0.5938" stop-color="#2259ab"/><stop offset="0.6094" stop-color="#235fb0"/><stop offset="0.625" stop-color="#2568b7"/><stop offset="0.6406" stop-color="#277ac5"/><stop offset="0.6562" stop-color="#2992d6"/><stop offset="0.6719" stop-color="#2eb0e8"/><stop offset="0.6875" stop-color="#51bdc3"/><stop offset="0.7031" stop-color="#5fc0a5"/><stop offset="0.7188" stop-color="#7ac685"/><stop offset="0.7344" stop-color="#84c87b"/><stop offset="0.75" stop-color="#84c87b"/><stop offset="0.7656" stop-color="#84c87b"/><stop offset="0.7812" stop-color="#85c87a"/><stop offset="0.7969" stop-color="#95cd6f"/><stop offset="0.8125" stop-color="#add261"/><stop offset="0.8281" stop-color="#cddd52"/><stop offset="0.8438" stop-color="#e7e543"/><stop offset="0.8594" stop-color="#f2d63a"/><stop offset="0.875" stop-color="#f6b033"/><stop offset="0.8906" stop-color="#f59230"/><stop offset="0.9062" stop-color="#f2732c"/><stop offset="0.9219" stop-color="#f0572a"/><stop offset="0.9375" stop-color="#ec3128"/><stop offset="0.9531" stop-color="#c82830"/><stop offset="0.9688" stop-color="#9d2630"/><stop offset="0.9844" stop-color="#8b232b"/><stop offset="1" stop-color="#812027"/></linearGradient>
<linearGradient id="g15" x1="0" y1="0" x2="0" y2="1"><stop offset="0" stop-color="#ee4829"/><stop offset="0.01562" stop-color="#ee4829"/><stop offset="0.03125" stop-color="#ee4829"/><stop offset="0.04688" stop-color="#ee4829"/><stop offset="0.0625" stop-color="#ee4829"/><stop offset="0.07812" stop-color="#ee4829"/><stop offset="0.09375" stop-color="#ee4829"/><stop offset="0.1094" stop-color="#ee4929"/><stop offset="0.125" stop-color="#f05f2a"/><stop offset="0.1406" stop-color="#f59230"/><stop offset="0.1562" stop-color="#f4cd38"/><stop offset="0.1719" stop-color="#e7e543"/><stop offset="0.1875" stop-color="#d6e04d"/><stop offset="0.2031" stop-color="#c9dc54"/><stop offset="0.2188" stop-color="#c4db56"/><stop offset="0.2344" stop-color="#cbdd53"/><stop offset="0.25" stop-color="#e5e445"/><stop offset="0.2656" stop-color="#dce24a"/><stop offset="0.2812" stop-color="#8cca75"/><stop offset="0.2969" stop-color="#58beb9"/><stop offset="0.3125" stop-color="#2dafe8"/><stop offset="0.3281" stop-color="#288bd2"/><stop offset="0.3438" stop-color="#2569b8"/><stop offset="0.3594" stop-color="#2463b3"/><stop offset="0.375" stop-color="#2461b2"/><stop offset="0.3906" stop-color="#2360b1"/><stop offset="0.4062" stop-color="#235eaf"/><stop offset="0.4219" stop-color="#2255a9"/><stop offset="0.4375" stop-color="#214ba3"/><stop offset="0.4531" stop-color="#2048a1"/><stop offset="0.4688" stop-color="#20459f"/><stop offset="0.4844" stop-color="#20459e"/><stop offset="0.5" stop-color="#20449e"/><stop offset="0.5156" stop-color="#20449e"/><stop offset="0.5312" stop-color="#20449e"/><stop offset="0.5469" stop-color="#20449e"/><stop offset="0.5625" stop-color="#2151a6"/><stop offset="0.5781" stop-color="#2255a8"/><stop offset="0.5938" stop-color="#225aac"/><stop offset="0.6094" stop-color="#2361b1"/><stop offset="0.625" stop-color="#256bba"/><stop offset="0.6406" stop-color="#2783cb"/><stop offset="0.6562" stop-color="#2aa0e1"/><stop offset="0.6719" stop-color="#36b8e1"/><stop offset="0.6875" stop-color="#55bebd"/><stop offset="0.7031" stop-color="#63c19e"/><stop offset="0.7188" stop-color="#83c87c"/><stop offset="0.7344" stop-color="#8fcb73"/><stop offset="0.75" stop-color="#90cb73"/><stop offset="0.7656" stop-color="#90cb72"/><stop offset="0.7812" stop-color="#90cb72"/><stop offset="0.7969" stop-color="#a2d067"/><stop offset="0.8125" stop-color="#bdd859"/><stop offset="0.8281" stop-color="#dee249"/><stop offset="0.8438" stop-color="#f0de3c"/><stop offset="0.8594" stop-color="#f5c136"/><stop offset="0.875" stop-color="#f69f31"/><stop offset="0.8906" stop-color="#f37d2d"/><stop offset="0.9062" stop-color="#f05f2a"/><stop offset="0.9219" stop-color="#ec3828"/><stop offset="0.9375" stop-color="#d7282d"/><stop offset="0.9531" stop-color="#a62731"/><stop offset="0.9688" stop-color="#852129"/><stop offset="0.9844" stop-color="#761d23"/><stop offset="1" stop-color="#6e1b20"/></linearGradient>
<linearGradient id="g16" x1="0" y1="0" x2="0" y2="1"><stop offset="0" stop-color="#ee4529"/><stop offset="0.01562" stop-color="#ee4529"/><stop offset="0.03125" stop-color="#ee4529"/><stop offset="0.04688" stop-color="#ee4529"/><stop offset="0.0625" stop-color="#ee4529"/><stop offset="0.07812" stop-color="#ee4529"/><stop offset="0.09375" stop-color="#ee4529"/><stop offset="0.1094" stop-color="#ee4529"/><stop offset="0.125" stop-color="#f05d2a"/><stop offset="0.1406" stop-color="#f59030"/><stop offset="0.1562" stop-color="#f4ca38"/><stop offset="0.1719" stop-color="#e9e542"/><stop offset="0.1875" stop-color="#d8e14c"/><stop offset="0.2031" stop-color="#ccdd52"/><stop offset="0.2188" stop-color="#c7dc54"/><stop offset="0.2344" stop-color="#cddd51"/><stop offset="0.25" stop-color="#e7e543"/><stop offset="0.2656" stop-color="#dde249"/><stop offset="0.2812" stop-color="#8cca75"/><stop offset="0.2969" stop-color="#58beb8"/><stop offset="0.3125" stop-color="#2dafe8"/><stop offset="0.3281" stop-color="#288dd2"/><stop offset="0.3438" stop-color="#2569b8"/><stop offset="0.3594" stop-color="#2463b3"/><stop offset="0.375" stop-color="#2461b2"/><stop offset="0.3906" stop-color="#2360b1"/><stop offset="0.4062" stop-color="#235eaf"/><stop offset="0.4219" stop-color="#2255a9"/><stop offset="0.4375" stop-color="#214ca3"/><stop offset="0.4531" stop-color="#2048a1"/><stop offset="0.4688" stop-color="#20459f"/><stop offset="0.4844" stop-color="#20459f"/><stop offset="0.5" stop-color="#20449e"/><stop offset="0.5156" stop-color="#20449e"/><stop offset="0.5312" stop-color="#20449e"/><stop offset="0.5469" stop-color="#20449e"/><stop offset="0.5625" stop-color="#2152a7"/><stop offset="0.5781" stop-color="#2256a9"/><stop offset="0.5938" stop-color="#225bac"/><stop offset="0.6094" stop-color="#2462b2"/><stop offset="0.625" stop-color="#256dbb"/><stop offset="0.6406" stop-color="#2887ce"/><stop offset="0.6562" stop-color="#2ca8e5"/><stop offset="0.6719" stop-color="#3cbadc"/><stop offset="0.6875" stop-color="#57beba"/><stop offset="0.7031" stop-color="#65c29b"/><stop offset="0.7188" stop-color="#88c978"/><stop offset="0.7344" stop-color="#95cd6e"/><stop offset="0.75" stop-color="#95cd6e"/><stop offset="0.7656" stop-color="#95cd6e"/><stop offset="0.7812" stop-color="#95cd6e"/><stop offset="0.7969" stop-color="#a9d163"/><stop offset="0.8125" stop-color="#c6db55"/><stop offset="0.8281" stop-color="#e6e444"/><stop offset="0.8438" stop-color="#f2d63a"/><stop offset="0.8594" stop-color="#f5b534"/><stop offset="0.875" stop-color="#f59831"/><stop offset="0.8906" stop-color="#f2742c"/><stop offset="0.9062" stop-color="#ef532a"/><stop offset="0.9219" stop-color="#eb2e28"/><stop offset="0.9375" stop-color="#c52830"/><stop offset="0.9531" stop-color="#962630"/><stop offset="0.9688" stop-color="#791e24"/><stop offset="0.9844" stop-color="#6b1b1f"/><stop offset="1" stop-color="#64191c"/></linearGradient>
<linearGradient id="g14" x1="0" y1="0" x2="0" y2="1"><stop offset="0" stop-color="#ee4b29"/><stop offset="0.01562" stop-color="#ee4b29"/><stop offset="0.03125" stop-color="#ee4b29"/><stop offset="0.04688" stop-color="#ee4b29"/><stop offset="0.0625" stop-color="#ee4b29"/><stop offset="0.07812" stop-color="#ee4b29"/><stop offset="0.09375" stop-color="#ee4b29"/><stop offset="0.1094" stop-color="#ee4c29"/><stop offset="0.125" stop-color="#f1622b"/><stop offset="0.1406" stop-color="#f59430"/><stop offset="0.1562" stop-color="#f3cf39"/><stop offset="0.1719" stop-color="#e6e445"/><stop offset="0.1875" stop-color="#d3df4e"/><stop offset="0.2031" stop-color="#c6db55"/><stop offset="0.2188" stop-color="#c1da57"/><stop offset="0.2344" stop-color="#c8dc54"/><stop offset="0.25" stop-color="#e3e446"/><stop offset="0.2656" stop-color="#dae14b"/><stop offset="0.2812" stop-color="#8cca75"/><stop offset="0.2969" stop-color="#58beb9"/><stop offset="0.3125" stop-color="#2dafe8"/><stop offset="0.3281" stop-color="#288ad1"/><stop offset="0.3438" stop-color="#2569b8"/><stop offset="0.3594" stop-color="#2463b3"/><stop offset="0.375" stop-color="#2461b2"/><stop offset="0.3906" stop-color="#2360b0"/><stop offset="0.4062" stop-color="#235eaf"/><stop offset="0.4219" stop-color="#2255a8"/><stop offset="0.4375" stop-color="#214ba3"/><stop offset="0.4531" stop-color="#2048a1"/><stop offset="0.4688" stop-color="#20459f"/><stop offset="0.4844" stop-color="#20459e"/><stop offset="0.5" stop-color="#20449e"/><stop offset="0.5156" stop-color="#20449e"/><stop offset="0.5312" stop-color="#20449e"/><stop offset="0.5469" stop-color="#20449e"/><stop offset="0.5625" stop-color="#2150a6"/><stop offset="0.5781" stop-color="#2254a8"/><stop offset="0.5938" stop-color="#2259ab"/><stop offset="0.6094" stop-color="#2360b1"/><stop offset="0.625" stop-color="#256ab9"/><stop offset="0.6406" stop-color="#277ec8"/><stop offset="0.6562" stop-color="#2999dc"/><stop offset="0.6719" stop-color="#32b4e4"/><stop offset="0.6875" stop-color="#53bdc0"/><stop offset="0.7031" stop-color="#61c1a2"/><stop offset="0.7188" stop-color="#7ec781"/><stop offset="0.7344" stop-color="#89c977"/><stop offset="0.75" stop-color="#8ac977"/><stop offset="0.7656" stop-color="#8ac976"/><stop offset="0.7812" stop-color="#8aca76"/><stop offset="0.7969" stop-color="#9bce6b"/><stop offset="0.8125" stop-color="#b5d55d"/><stop offset="0.8281" stop-color="#d5e04d"/><stop offset="0.8438" stop-color="#ede63e"/><stop offset="0.8594" stop-color="#f4cc38"/><stop offset="0.875" stop-color="#f6a732"/><stop offset="0.8906" stop-color="#f4882f"/><stop offset="0.9062" stop-color="#f1692b"/><stop offset="0.9219" stop-color="#ee4829"/><stop offset="0.9375" stop-color="#e72929"/><stop offset="0.9531" stop-color="#b62832"/><stop offset="0.9688" stop-color="#90242e"/><stop offset="0.9844" stop-color="#802027"/><stop offset="1" stop-color="#781e23"/></linearGradient>
<linearGradient id="g12" x1="0" y1="0" x2="0" y2="1"><stop offset="0" stop-color="#ef522a"/><stop offset="0.01562" stop-color="#ef522a"/><stop offset="0.03125" stop-color="#ef522a"/><stop offset="0.04688" stop-color="#ef522a"/><stop offset="0.0625" stop-color="#ef522a"/><stop offset="0.07812" stop-color="#ef522a"/><stop offset="0.09375" stop-color="#ef522a"/><stop offset="0.1094" stop-color="#ef542a"/><stop offset="0.125" stop-color="#f1672b"/><stop offset="0.1406" stop-color="#f59931"/><stop offset="0.1562" stop-color="#f3d43a"/><stop offset="0.1719" stop-color="#e3e447"/><stop offset="0.1875" stop-color="#cfde51"/><stop offset="0.2031" stop-color="#c1da57"/><stop offset="0.2188" stop-color="#bcd85a"/><stop offset="0.2344" stop-color="#c4da56"/><stop offset="0.25" stop-color="#dfe249"/><stop offset="0.2656" stop-color="#d6e04d"/><stop offset="0.2812" stop-color="#8bca76"/><stop offset="0.2969" stop-color="#58beb9"/><stop offset="0.3125" stop-color="#2daee8"/><stop offset="0.3281" stop-color="#2888cf"/><stop offset="0.3438" stop-color="#2568b8"/><stop offset="0.3594" stop-color="#2462b3"/><stop offset="0.375" stop-color="#2361b1"/><stop offset="0.3906" stop-color="#235fb0"/><stop offset="0.4062" stop-color="#235dae"/><stop offset="0.4219" stop-color="#2254a8"/><stop offset="0.4375" stop-color="#214ba3"/><stop offset="0.4531" stop-color="#2048a1"/><stop offset="0.4688" stop-color="#20459f"/><stop offset="0.4844" stop-color="#20449e"/><stop offset="0.5" stop-color="#20449d"/><stop offset="0.5156" stop-color="#20449e"/><stop offset="0.5312" stop-color="#20449e"/><stop offset="0.5469" stop-color="#20449e"/><stop offset="0.5625" stop-color="#214ea5"/><stop offset="0.5781" stop-color="#2151a7"/><stop offset="0.5938" stop-color="#2258aa"/><stop offset="0.6094" stop-color="#235eaf"/><stop offset="0.625" stop-color="#2467b6"/><stop offset="0.6406" stop-color="#2676c2"/><stop offset="0.6562" stop-color="#288bd1"/><stop offset="0.6719" stop-color="#2ca9e5"/><stop offset="0.6875" stop-color="#4fbdc6"/><stop offset="0.7031" stop-color="#5ec0a9"/><stop offset="0.7188" stop-color="#75c58a"/><stop offset="0.7344" stop-color="#7fc780"/><stop offset="0.75" stop-color="#7fc780"/><stop offset="0.7656" stop-color="#80c77f"/><stop offset="0.7812" stop-color="#81c77e"/><stop offset="0.7969" stop-color="#8fcb73"/><stop offset="0.8125" stop-color="#a6d164"/><stop offset="0.8281" stop-color="#c4db56"/><stop offset="0.8438" stop-color="#e0e348"/><stop offset="0.8594" stop-color="#f0de3c"/><stop offset="0.875" stop-color="#f5bc35"/><stop offset="0.8906" stop-color="#f59b31"/><stop offset="0.9062" stop-color="#f37d2d"/><stop offset="0.9219" stop-color="#f1632b"/><stop offset="0.9375" stop-color="#ed3d28"/><stop offset="0.9531" stop-color="#da282d"/><stop offset="0.9688" stop-color="#ab2731"/><stop offset="0.9844" stop-color="#95262f"/><stop offset="1" stop-color="#8b232b"/></linearGradient>
<linearGradient id="g9" x1="0" y1="0" x2="0" y2="1"><stop offset="0" stop-color="#f05c2a"/><stop offset="0.01562" stop-color="#f05c2a"/><stop offset="0.03125" stop-color="#f05c2a"/><stop offset="0.04688" stop-color="#f05c2a"/><stop offset="0.0625" stop-color="#f05c2a"/><stop offset="0.07812" stop-color="#f05c2a"/><stop offset="0.09375" stop-color="#f05c2a"/><stop offset="0.1094" stop-color="#f05f2a"/><stop offset="0.125" stop-color="#f26f2c"/><stop offset="0.1406" stop-color="#f69f31"/><stop offset="0.1562" stop-color="#f1da3b"/><stop offset="0.1719" stop-color="#dde24a"/><stop offset="0.1875" stop-color="#c8dc54"/><stop offset="0.2031" stop-color="#b9d75b"/><stop offset="0.2188" stop-color="#b4d55e"/><stop offset="0.2344" stop-color="#bdd859"/><stop offset="0.25" stop-color="#d7e04c"/><stop offset="0.2656" stop-color="#d1df50"/><stop offset="0.2812" stop-color="#8aca76"/><stop offset="0.2969" stop-color="#58beb9"/><stop offset="0.3125" stop-color="#2dade7"/><stop offset="0.3281" stop-color="#2785cd"/><stop offset="0.3438" stop-color="#2568b7"/><stop offset="0.3594" stop-color="#2462b2"/><stop offset="0.375" stop-color="#2360b1"/><stop offset="0.3906" stop-color="#235fb0"/><stop offset="0.4062" stop-color="#235dae"/><stop offset="0.4219" stop-color="#2254a8"/><stop offset="0.4375" stop-color="#214ba3"/><stop offset="0.4531" stop-color="#2048a1"/><stop offset="0.4688" stop-color="#20459f"/><stop offset="0.4844" stop-color="#20449e"/><stop offset="0.5" stop-color="#21439d"/><stop offset="0.5156" stop-color="#20439d"/><stop offset="0.5312" stop-color="#20449d"/><stop offset="0.5469" stop-color="#20449e"/><stop offset="0.5625" stop-color="#214ca3"/><stop offset="0.5781" stop-color="#214ea5"/><stop offset="0.5938" stop-color="#2256a9"/><stop offset="0.6094" stop-color="#235bad"/><stop offset="0.625" stop-color="#2463b3"/><stop offset="0.6406" stop-color="#256dbb"/><stop offset="0.6562" stop-color="#277ac5"/><stop offset="0.6719" stop-color="#2994d8"/><stop offset="0.6875" stop-color="#47bbd1"/><stop offset="0.7031" stop-color="#59beb5"/><stop offset="0.7188" stop-color="#67c398"/><stop offset="0.7344" stop-color="#70c48f"/><stop offset="0.75" stop-color="#71c58e"/><stop offset="0.7656" stop-color="#72c58d"/><stop offset="0.7812" stop-color="#74c58b"/><stop offset="0.7969" stop-color="#81c77e"/><stop offset="0.8125" stop-color="#94cc6f"/><stop offset="0.8281" stop-color="#aed360"/><stop offset="0.8438" stop-color="#c7dc54"/><stop offset="0.8594" stop-color="#e2e447"/><stop offset="0.875" stop-color="#f1da3b"/><stop offset="0.8906" stop-color="#f5ba34"/><stop offset="0.9062" stop-color="#f69f31"/><stop offset="0.9219" stop-color="#f4852e"/><stop offset="0.9375" stop-color="#f1672b"/><stop offset="0.9531" stop-color="#ed3e28"/><stop offset="0.9688" stop-color="#d7282d"/><stop offset="0.9844" stop-color="#b92832"/><stop offset="1" stop-color="#aa2731"/></linearGradient>
<linearGradient id="g7" x1="0" y1="0" x2="0" y2="1"><stop offset="0" stop-color="#f1612b"/><stop offset="0.01562" stop-color="#f1612b"/><stop offset="0.03125" stop-color="#f1612b"/><stop offset="0.04688" stop-color="#f1612b"/><stop offset="0.0625" stop-color="#f1612b"/><stop offset="0.07812" stop-color="#f1612b"/><stop offset="0.09375" stop-color="#f1612b"/><stop offset="0.1094" stop-color="#f1652b"/><stop offset="0.125" stop-color="#f2742c"/><stop offset="0.1406" stop-color="#f6a431"/><stop offset="0.1562" stop-color="#f0df3c"/><stop offset="0.1719" stop-color="#d9e14b"/><stop offset="0.1875" stop-color="#c4da56"/><stop offset="0.2031" stop-color="#b4d55d"/><stop offset="0.2188" stop-color="#aed360"/><stop offset="0.2344" stop-color="#b8d65b"/><stop offset="0.25" stop-color="#d2df4f"/><stop offset="0.2656" stop-color="#cddd51"/><stop offset="0.2812" stop-color="#8ac977"/><stop offset="0.2969" stop-color="#58beba"/><stop offset="0.3125" stop-color="#2dade7"/><stop offset="0.3281" stop-color="#2782cb"/><stop offset="0.3438" stop-color="#2467b7"/><stop offset="0.3594" stop-color="#2462b2"/><stop offset="0.375" stop-color="#2360b1"/><stop offset="0.3906" stop-color="#235fb0"/><stop offset="0.4062" stop-color="#235dae"/><stop offset="0.4219" stop-color="#2253a8"/><stop offset="0.4375" stop-color="#214ba3"/><stop offset="0.4531" stop-color="#2048a0"/><stop offset="0.4688" stop-color="#20459e"/><stop offset="0.4844" stop-color="#20449e"/><stop offset="0.5" stop-color="#21439d"/><stop offset="0.5156" stop-color="#21439d"/><stop offset="0.5312" stop-color="#20439d"/><stop offset="0.5469" stop-color="#20449d"/><stop offset="0.5625" stop-color="#214aa2"/><stop offset="0.5781" stop-color="#214ca4"/><stop offset="0.5938" stop-color="#2255a8"/><stop offset="0.6094" stop-color="#225aab"/><stop offset="0.625" stop-color="#2360b1"/><stop offset="0.6406" stop-color="#2568b8"/><stop offset="0.6562" stop-color="#2671be"/><stop offset="0.6719" stop-color="#2888cf"/><stop offset="0.6875" stop-color="#3ebada"/><stop offset="0.7031" stop-color="#55bebe"/><stop offset="0.7188" stop-color="#61c1a2"/><stop offset="0.7344" stop-color="#67c299"/><stop offset="0.75" stop-color="#68c397"/><stop offset="0.7656" stop-color="#69c396"/><stop offset="0.7812" stop-color="#6bc394"/><stop offset="0.7969" stop-color="#79c686"/><stop offset="0.8125" stop-color="#8aca76"/><stop offset="0.8281" stop-color="#a2d067"/><stop offset="0.8438" stop-color="#b9d75b"/><stop offset="0.8594" stop-color="#d3df4f"/><stop offset="0.875" stop-color="#ece640"/><stop offset="0.8906" stop-color="#f3d23a"/><stop offset="0.9062" stop-color="#f5b634"/><stop offset="0.9219" stop-color="#f59d31"/><stop offset="0.9375" stop-color="#f37c2d"/><stop offset="0.9531" stop-color="#f05c2a"/><stop offset="0.9688" stop-color="#eb2d28"/><stop offset="0.9844" stop-color="#d4282e"/><stop offset="1" stop-color="#c12831"/></linearGradient>
<linearGradient id="g4" x1="0" y1="0" x2="0" y2="1"><stop offset="0" stop-color="#f16a2b"/><stop offset="0.01562" stop-color="#f16a2b"/><stop offset="0.03125" stop-color="#f16a2b"/><stop offset="0.04688" stop-color="#f16a2b"/><stop offset="0.0625" stop-color="#f16a2b"/><stop offset="0.07812" stop-color="#f16a2b"/><stop offset="0.09375" stop-color="#f16a2b"/><stop offset="0.1094" stop-color="#f26f2c"/><stop offset="0.125" stop-color="#f37f2e"/><stop offset="0.1406" stop-color="#f6ab32"/><stop offset="0.1562" stop-color="#eee53e"/><stop offset="0.1719" stop-color="#d3df4e"/><stop offset="0.1875" stop-color="#bdd859"/><stop offset="0.2031" stop-color="#abd261"/><stop offset="0.2188" stop-color="#a7d164"/><stop offset="0.2344" stop-color="#b1d45f"/><stop offset="0.25" stop-color="#cbdd53"/><stop offset="0.2656" stop-color="#c8dc54"/><stop offset="0.2812" stop-color="#89c977"/><stop offset="0.2969" stop-color="#57beba"/><stop offset="0.3125" stop-color="#2cace7"/><stop offset="0.3281" stop-color="#277fc9"/><stop offset="0.3438" stop-color="#2467b6"/><stop offset="0.3594" stop-color="#2461b2"/><stop offset="0.375" stop-color="#2360b0"/><stop offset="0.3906" stop-color="#235eaf"/><stop offset="0.4062" stop-color="#235cae"/><stop offset="0.4219" stop-color="#2153a7"/><stop offset="0.4375" stop-color="#214aa2"/><stop offset="0.4531" stop-color="#2047a0"/><stop offset="0.4688" stop-color="#20449e"/><stop offset="0.4844" stop-color="#20449d"/><stop offset="0.5" stop-color="#21439c"/><stop offset="0.5156" stop-color="#21439d"/><stop offset="0.5312" stop-color="#21439d"/><stop offset="0.5469" stop-color="#20439d"/><stop offset="0.5625" stop-color="#2047a0"/><stop offset="0.5781" stop-color="#2049a1"/><stop offset="0.5938" stop-color="#2153a7"/><stop offset="0.6094" stop-color="#2257aa"/><stop offset="0.625" stop-color="#235cad"/><stop offset="0.6406" stop-color="#2462b2"/><stop offset="0.6562" stop-color="#2568b7"/><stop offset="0.6719" stop-color="#277ac5"/><stop offset="0.6875" stop-color="#33b5e4"/><stop offset="0.7031" stop-color="#4dbcca"/><stop offset="0.7188" stop-color="#5abfb3"/><stop offset="0.7344" stop-color="#5ec0a8"/><stop offset="0.75" stop-color="#5fc0a5"/><stop offset="0.7656" stop-color="#60c0a3"/><stop offset="0.7812" stop-color="#62c1a1"/><stop offset="0.7969" stop-color="#6dc492"/><stop offset="0.8125" stop-color="#7fc780"/><stop offset="0.8281" stop-color="#92cc71"/><stop offset="0.8438" stop-color="#a6d165"/><stop offset="0.8594" stop-color="#bed859"/><stop offset="0.875" stop-color="#d9e14c"/><stop offset="0.8906" stop-color="#e9e542"/><stop offset="0.9062" stop-color="#f1dc3c"/><stop offset="0.9219" stop-color="#f4c537"/><stop offset="0.9375" stop-color="#f6a031"/><stop offset="0.9531" stop-color="#f3792d"/><stop offset="0.9688" stop-color="#ee4c29"/><stop offset="0.9844" stop-color="#eb3028"/><stop offset="1" stop-color="#e3292a"/></linearGradient>
<linearGradient id="g10" x1="0" y1="0" x2="0" y2="1"><stop offset="0" stop-color="#f0592a"/><stop offset="0.01562" stop-color="#f0592a"/><stop offset="0.03125" stop-color="#f0592a"/><stop offset="0.04688" stop-color="#f0592a"/><stop offset="0.0625" stop-color="#f0592a"/><stop offset="0.07812" stop-color="#f0592a"/><stop offset="0.09375" stop-color="#f0592a"/><stop offset="0.1094" stop-color="#f05c2a"/><stop offset="0.125" stop-color="#f26c2c"/><stop offset="0.1406" stop-color="#f59d31"/><stop offset="0.1562" stop-color="#f2d83b"/><stop offset="0.1719" stop-color="#dfe349"/><stop offset="0.1875" stop-color="#cadd53"/><stop offset="0.2031" stop-color="#bcd85a"/><stop offset="0.2188" stop-color="#b6d65c"/><stop offset="0.2344" stop-color="#bfd958"/><stop offset="0.25" stop-color="#dae14b"/><stop offset="0.2656" stop-color="#d3df4f"/><stop offset="0.2812" stop-color="#8bca76"/><stop offset="0.2969" stop-color="#58beb9"/><stop offset="0.3125" stop-color="#2daee7"/><stop offset="0.3281" stop-color="#2886ce"/><stop offset="0.3438" stop-color="#2568b7"/><stop offset="0.3594" stop-color="#2462b2"/><stop offset="0.375" stop-color="#2361b1"/><stop offset="0.3906" stop-color="#235fb0"/><stop offset="0.4062" stop-color="#235dae"/><stop offset="0.4219" stop-color="#2254a8"/><stop offset="0.4375" stop-color="#214ba3"/><stop offset="0.4531" stop-color="#2048a1"/><stop offset="0.4688" stop-color="#20459f"/><stop offset="0.4844" stop-color="#20449e"/><stop offset="0.5" stop-color="#20439d"/><stop offset="0.5156" stop-color="#20439d"/><stop offset="0.5312" stop-color="#20449d"/><stop offset="0.5469" stop-color="#20449e"/><stop offset="0.5625" stop-color="#214ca4"/><stop offset="0.5781" stop-color="#214fa6"/><stop offset="0.5938" stop-color="#2257a9"/><stop offset="0.6094" stop-color="#235cae"/><stop offset="0.625" stop-color="#2464b4"/><stop offset="0.6406" stop-color="#2670bd"/><stop offset="0.6562" stop-color="#2780c9"/><stop offset="0.6719" stop-color="#299add"/><stop offset="0.6875" stop-color="#4bbccc"/><stop offset="0.7031" stop-color="#5bbfb1"/><stop offset="0.7188" stop-color="#6bc394"/><stop offset="0.7344" stop-color="#75c58a"/><stop offset="0.75" stop-color="#76c689"/><stop offset="0.7656" stop-color="#77c688"/><stop offset="0.7812" stop-color="#78c687"/><stop offset="0.7969" stop-color="#85c87a"/><stop offset="0.8125" stop-color="#9ace6c"/><stop offset="0.8281" stop-color="#b5d55d"/><stop offset="0.8438" stop-color="#cfde50"/><stop offset="0.8594" stop-color="#e9e542"/><stop offset="0.875" stop-color="#f3d139"/><stop offset="0.8906" stop-color="#f6ad32"/><stop offset="0.9062" stop-color="#f59530"/><stop offset="0.9219" stop-color="#f3782d"/><stop offset="0.9375" stop-color="#f05c2a"/><stop offset="0.9531" stop-color="#ec3228"/><stop offset="0.9688" stop-color="#c82830"/><stop offset="0.9844" stop-color="#ad2731"/><stop offset="1" stop-color="#9f2731"/></linearGradient>
<linearGradient id="g6" x1="0" y1="0" x2="0" y2="1"><stop offset="0" stop-color="#f1642b"/><stop offset="0.01562" stop-color="#f1642b"/><stop offset="0.03125" stop-color="#f1642b"/><stop offset="0.04688" stop-color="#f1642b"/><stop offset="0.0625" stop-color="#f1642b"/><stop offset="0.07812" stop-color="#f1642b"/><stop offset="0.09375" stop-color="#f1642b"/><stop offset="0.1094" stop-color="#f1682b"/><stop offset="0.125" stop-color="#f3772d"/><stop offset="0.1406" stop-color="#f6a632"/><stop offset="0.1562" stop-color="#efe13d"/><stop offset="0.1719" stop-color="#d7e04c"/><stop offset="0.1875" stop-color="#c1da57"/><stop offset="0.2031" stop-color="#b1d45f"/><stop offset="0.2188" stop-color="#abd261"/><stop offset="0.2344" stop-color="#b6d65c"/><stop offset="0.25" stop-color="#d0de50"/><stop offset="0.2656" stop-color="#cbdd52"/><stop offset="0.2812" stop-color="#89c977"/><stop offset="0.2969" stop-color="#58beba"/><stop offset="0.3125" stop-color="#2dade7"/><stop offset="0.3281" stop-color="#2781ca"/><stop offset="0.3438" stop-color="#2467b7"/><stop offset="0.3594" stop-color="#2462b2"/><stop offset="0.375" stop-color="#2360b1"/><stop offset="0.3906" stop-color="#235fb0"/><stop offset="0.4062" stop-color="#235dae"/><stop offset="0.4219" stop-color="#2253a8"/><stop offset="0.4375" stop-color="#214aa2"/><stop offset="0.4531" stop-color="#2047a0"/><stop offset="0.4688" stop-color="#20459e"/><stop offset="0.4844" stop-color="#20449e"/><stop offset="0.5" stop-color="#21439d"/><stop offset="0.5156" stop-color="#21439d"/><stop offset="0.5312" stop-color="#20439d"/><stop offset="0.5469" stop-color="#20449d"/><stop offset="0.5625" stop-color="#2049a1"/><stop offset="0.5781" stop-color="#214ba3"/><stop offset="0.5938" stop-color="#2254a8"/><stop offset="0.6094" stop-color="#2259ab"/><stop offset="0.625" stop-color="#235fb0"/><stop offset="0.6406" stop-color="#2466b6"/><stop offset="0.6562" stop-color="#256ebc"/><stop offset="0.6719" stop-color="#2783cc"/><stop offset="0.6875" stop-color="#3ab9de"/><stop offset="0.7031" stop-color="#52bdc2"/><stop offset="0.7188" stop-color="#5ec0a7"/><stop offset="0.7344" stop-color="#64c29d"/><stop offset="0.75" stop-color="#65c29c"/><stop offset="0.7656" stop-color="#66c29a"/><stop offset="0.7812" stop-color="#67c299"/><stop offset="0.7969" stop-color="#75c58a"/><stop offset="0.8125" stop-color="#86c879"/><stop offset="0.8281" stop-color="#9cce6a"/><stop offset="0.8438" stop-color="#b2d45e"/><stop offset="0.8594" stop-color="#cbdd52"/><stop offset="0.875" stop-color="#e6e444"/><stop offset="0.8906" stop-color="#f1dc3c"/><stop offset="0.9062" stop-color="#f4c537"/><stop offset="0.9219" stop-color="#f6a732"/><stop offset="0.9375" stop-color="#f48a2f"/><stop offset="0.9531" stop-color="#f1662b"/><stop offset="0.9688" stop-color="#ec3528"/><stop offset="0.9844" stop-color="#e0282b"/><stop offset="1" stop-color="#cd282f"/></linearGradient>
<linearGradient id="e667" x1="0" y1="0" x2="0" y2="1"><stop offset="0" stop-color="#f37b2d"/><stop offset="0.01562" stop-color="#f37b2d"/><stop offset="0.03125" stop-color="#f37b2d"/><stop offset="0.04688" stop-color="#f37b2d"/><stop offset="0.0625" stop-color="#f37b2d"/><stop offset="0.07812" stop-color="#f37b2d"/><stop offset="0.09375" stop-color="#f37b2d"/><stop offset="0.1094" stop-color="#f4852e"/><stop offset="0.125" stop-color="#f59630"/><stop offset="0.1406" stop-color="#f5c136"/><stop offset="0.1562" stop-color="#e6e445"/><stop offset="0.1719" stop-color="#c8dc54"/><stop offset="0.1875" stop-color="#b2d45e"/><stop offset="0.2031" stop-color="#a1d067"/><stop offset="0.2188" stop-color="#9cce6b"/><stop offset="0.2344" stop-color="#a7d164"/><stop offset="0.25" stop-color="#bed958"/><stop offset="0.2656" stop-color="#bed859"/><stop offset="0.2812" stop-color="#86c879"/><stop offset="0.2969" stop-color="#56bebc"/><stop offset="0.3125" stop-color="#2ca9e5"/><stop offset="0.3281" stop-color="#2779c5"/><stop offset="0.3438" stop-color="#2465b5"/><stop offset="0.3594" stop-color="#2360b1"/><stop offset="0.375" stop-color="#235fb0"/><stop offset="0.3906" stop-color="#235eaf"/><stop offset="0.4062" stop-color="#235bad"/><stop offset="0.4219" stop-color="#2152a7"/><stop offset="0.4375" stop-color="#214aa2"/><stop offset="0.4531" stop-color="#2047a0"/><stop offset="0.4688" stop-color="#20449e"/><stop offset="0.4844" stop-color="#21439d"/><stop offset="0.5" stop-color="#21429b"/><stop offset="0.5156" stop-color="#21429c"/><stop offset="0.5312" stop-color="#21439c"/><stop offset="0.5469" stop-color="#21439d"/><stop offset="0.5625" stop-color="#20449e"/><stop offset="0.5781" stop-color="#20449e"/><stop offset="0.5938" stop-color="#2150a6"/><stop offset="0.6094" stop-color="#2254a8"/><stop offset="0.625" stop-color="#2257aa"/><stop offset="0.6406" stop-color="#225aac"/><stop offset="0.6562" stop-color="#235eaf"/><stop offset="0.6719" stop-color="#256dbb"/><stop offset="0.6875" stop-color="#2ba4e3"/><stop offset="0.7031" stop-color="#39b9df"/><stop offset="0.7188" stop-color="#4ebcc9"/><stop offset="0.7344" stop-color="#55bebe"/><stop offset="0.75" stop-color="#57beba"/><stop offset="0.7656" stop-color="#59beb7"/><stop offset="0.7812" stop-color="#5abfb3"/><stop offset="0.7969" stop-color="#62c1a0"/><stop offset="0.8125" stop-color="#72c58d"/><stop offset="0.8281" stop-color="#84c87b"/><stop offset="0.8438" stop-color="#94cc6f"/><stop offset="0.8594" stop-color="#a8d163"/><stop offset="0.875" stop-color="#bfd958"/><stop offset="0.8906" stop-color="#ccdd52"/><stop offset="0.9062" stop-color="#d8e14c"/><stop offset="0.9219" stop-color="#e7e543"/><stop offset="0.9375" stop-color="#f3d23a"/><stop offset="0.9531" stop-color="#f6a231"/><stop offset="0.9688" stop-color="#f26f2c"/><stop offset="0.9844" stop-color="#ef532a"/><stop offset="1" stop-color="#ed3e28"/></linearGradient>
<linearGradient id="e668" x1="0" y1="0" x2="0" y2="1"><stop offset="0" stop-color="#f3762d"/><stop offset="0.01562" stop-color="#f3762d"/><stop offset="0.03125" stop-color="#f3762d"/><stop offset="0.04688" stop-color="#f3762d"/><stop offset="0.0625" stop-color="#f3762d"/><stop offset="0.07812" stop-color="#f3762d"/><stop offset="0.09375" stop-color="#f3762d"/><stop offset="0.1094" stop-color="#f37e2e"/><stop offset="0.125" stop-color="#f59130"/><stop offset="0.1406" stop-color="#f5bd35"/><stop offset="0.1562" stop-color="#e7e544"/><stop offset="0.1719" stop-color="#c9dc53"/><stop offset="0.1875" stop-color="#b3d55e"/><stop offset="0.2031" stop-color="#a3d066"/><stop offset="0.2188" stop-color="#9ecf69"/><stop offset="0.2344" stop-color="#a8d163"/><stop offset="0.25" stop-color="#c0d958"/><stop offset="0.2656" stop-color="#bfd958"/><stop offset="0.2812" stop-color="#86c87a"/><stop offset="0.2969" stop-color="#56bebc"/><stop offset="0.3125" stop-color="#2ca9e5"/><stop offset="0.3281" stop-color="#277bc5"/><stop offset="0.3438" stop-color="#2466b5"/><stop offset="0.3594" stop-color="#2360b1"/><stop offset="0.375" stop-color="#235fb0"/><stop offset="0.3906" stop-color="#235eaf"/><stop offset="0.4062" stop-color="#235bad"/><stop offset="0.4219" stop-color="#2152a7"/><stop offset="0.4375" stop-color="#214aa2"/><stop offset="0.4531" stop-color="#2047a0"/><stop offset="0.4688" stop-color="#20449e"/><stop offset="0.4844" stop-color="#21439d"/><stop offset="0.5" stop-color="#21429c"/><stop offset="0.5156" stop-color="#21429c"/><stop offset="0.5312" stop-color="#21439c"/><stop offset="0.5469" stop-color="#21439d"/><stop offset="0.5625" stop-color="#20459f"/><stop offset="0.5781" stop-color="#20469f"/><stop offset="0.5938" stop-color="#2151a7"/><stop offset="0.6094" stop-color="#2255a9"/><stop offset="0.625" stop-color="#2259ab"/><stop offset="0.6406" stop-color="#235dae"/><stop offset="0.6562" stop-color="#2361b1"/><stop offset="0.6719" stop-color="#2670bd"/><stop offset="0.6875" stop-color="#2ca9e5"/><stop offset="0.7031" stop-color="#3fbad9"/><stop offset="0.7188" stop-color="#52bdc3"/><stop offset="0.7344" stop-color="#58beb8"/><stop offset="0.75" stop-color="#5abeb5"/><stop offset="0.7656" stop-color="#5bbfb1"/><stop offset="0.7812" stop-color="#5cbfae"/><stop offset="0.7969" stop-color="#64c29d"/><stop offset="0.8125" stop-color="#75c58a"/><stop offset="0.8281" stop-color="#87c979"/><stop offset="0.8438" stop-color="#98cd6d"/><stop offset="0.8594" stop-color="#acd261"/><stop offset="0.875" stop-color="#c4db56"/><stop offset="0.8906" stop-color="#d3df4e"/><stop offset="0.9062" stop-color="#e0e348"/><stop offset="0.9219" stop-color="#eee53e"/><stop offset="0.9375" stop-color="#f4c537"/><stop offset="0.9531" stop-color="#f59931"/><stop offset="0.9688" stop-color="#f1682b"/><stop offset="0.9844" stop-color="#ee4b29"/><stop offset="1" stop-color="#ec3728"/></linearGradient>
<linearGradient id="e669" x1="0" y1="0" x2="0" y2="1"><stop offset="0" stop-color="#f2722c"/><stop offset="0.01562" stop-color="#f2722c"/><stop offset="0.03125" stop-color="#f2722c"/><stop offset="0.04688" stop-color="#f2722c"/><stop offset="0.0625" stop-color="#f2722c"/><stop offset="0.07812" stop-color="#f2722c"/><stop offset="0.09375" stop-color="#f2722c"/><stop offset="0.1094" stop-color="#f3772d"/><stop offset="0.125" stop-color="#f48a2f"/><stop offset="0.1406" stop-color="#f5b734"/><stop offset="0.1562" stop-color="#e9e542"/><stop offset="0.1719" stop-color="#ccdd52"/><stop offset="0.1875" stop-color="#b6d65c"/><stop offset="0.2031" stop-color="#a6d164"/><stop offset="0.2188" stop-color="#a1d067"/><stop offset="0.2344" stop-color="#abd262"/><stop offset="0.25" stop-color="#c3da56"/><stop offset="0.2656" stop-color="#c1d957"/><stop offset="0.2812" stop-color="#85c87a"/><stop offset="0.2969" stop-color="#56bebd"/><stop offset="0.3125" stop-color="#2ca8e5"/><stop offset="0.3281" stop-color="#277cc7"/><stop offset="0.3438" stop-color="#2466b5"/><stop offset="0.3594" stop-color="#2360b1"/><stop offset="0.375" stop-color="#235fb0"/><stop offset="0.3906" stop-color="#235eaf"/><stop offset="0.4062" stop-color="#235bad"/><stop offset="0.4219" stop-color="#2152a7"/><stop offset="0.4375" stop-color="#214aa2"/><stop offset="0.4531" stop-color="#2047a0"/><stop offset="0.4688" stop-color="#20449e"/><stop offset="0.4844" stop-color="#21439d"/><stop offset="0.5" stop-color="#21429c"/><stop offset="0.5156" stop-color="#21439c"/><stop offset="0.5312" stop-color="#21439c"/><stop offset="0.5469" stop-color="#21439d"/><stop offset="0.5625" stop-color="#2046a0"/><stop offset="0.5781" stop-color="#2048a0"/><stop offset="0.5938" stop-color="#2152a7"/><stop offset="0.6094" stop-color="#2256a9"/><stop offset="0.625" stop-color="#225bac"/><stop offset="0.6406" stop-color="#2360b1"/><stop offset="0.6562" stop-color="#2466b5"/><stop offset="0.6719" stop-color="#2675c1"/><stop offset="0.6875" stop-color="#2fb1e7"/><stop offset="0.7031" stop-color="#49bccf"/><stop offset="0.7188" stop-color="#58beb8"/><stop offset="0.7344" stop-color="#5cbfad"/><stop offset="0.75" stop-color="#5dbfab"/><stop offset="0.7656" stop-color="#5ec0a8"/><stop offset="0.7812" stop-color="#5fc0a5"/><stop offset="0.7969" stop-color="#69c396"/><stop offset="0.8125" stop-color="#7bc684"/><stop offset="0.8281" stop-color="#8dca74"/><stop offset="0.8438" stop-color="#9fcf68"/><stop offset="0.8594" stop-color="#b5d55d"/><stop offset="0.875" stop-color="#cfde51"/><stop offset="0.8906" stop-color="#e0e348"/><stop offset="0.9062" stop-color="#ede63f"/><stop offset="0.9219" stop-color="#f3d53a"/><stop offset="0.9375" stop-color="#f6ac32"/><stop offset="0.9531" stop-color="#f4882f"/><stop offset="0.9688" stop-color="#f05b2a"/><stop offset="0.9844" stop-color="#ec3a28"/><stop offset="1" stop-color="#eb2e28"/></linearGradient>
<linearGradient id="e670" x1="0" y1="0" x2="0" y2="1"><stop offset="0" stop-color="#f26d2c"/><stop offset="0.01562" stop-color="#f26d2c"/><stop offset="0.03125" stop-color="#f26d2c"/><stop offset="0.04688" stop-color="#f26d2c"/><stop offset="0.0625" stop-color="#f26d2c"/><stop offset="0.07812" stop-color="#f26d2c"/><stop offset="0.09375" stop-color="#f26d2c"/><stop offset="0.1094" stop-color="#f2712c"/><stop offset="0.125" stop-color="#f4822e"/><stop offset="0.1406" stop-color="#f6b233"/><stop offset="0.1562" stop-color="#ebe540"/><stop offset="0.1719" stop-color="#cede51"/><stop offset="0.1875" stop-color="#bad75b"/><stop offset="0.2031" stop-color="#aad262"/><stop offset="0.2188" stop-color="#a5d065"/><stop offset="0.2344" stop-color="#aed360"/><stop offset="0.25" stop-color="#c7dc55"/><stop offset="0.2656" stop-color="#c3da56"/><stop offset="0.2812" stop-color="#85c87a"/><stop offset="0.2969" stop-color="#55bebd"/><stop offset="0.3125" stop-color="#2ba7e4"/><stop offset="0.3281" stop-color="#277ec8"/><stop offset="0.3438" stop-color="#2466b5"/><stop offset="0.3594" stop-color="#2360b1"/><stop offset="0.375" stop-color="#235fb0"/><stop offset="0.3906" stop-color="#235eaf"/><stop offset="0.4062" stop-color="#235bad"/><stop offset="0.4219" stop-color="#2152a7"/><stop offset="0.4375" stop-color="#214aa2"/><stop offset="0.4531" stop-color="#2047a0"/><stop offset="0.4688" stop-color="#20449e"/><stop offset="0.4844" stop-color="#21439d"/><stop offset="0.5" stop-color="#21429c"/><stop offset="0.5156" stop-color="#21439c"/><stop offset="0.5312" stop-color="#21439c"/><stop offset="0.5469" stop-color="#21439d"/><stop offset="0.5625" stop-color="#2048a1"/><stop offset="0.5781" stop-color="#214aa2"/><stop offset="0.5938" stop-color="#2253a8"/><stop offset="0.6094" stop-color="#2258aa"/><stop offset="0.625" stop-color="#235daf"/><stop offset="0.6406" stop-color="#2464b4"/><stop offset="0.6562" stop-color="#256cba"/><stop offset="0.6719" stop-color="#2780c9"/><stop offset="0.6875" stop-color="#35b7e2"/><stop offset="0.7031" stop-color="#50bdc5"/><stop offset="0.7188" stop-color="#5dbfab"/><stop offset="0.7344" stop-color="#62c1a1"/><stop offset="0.75" stop-color="#63c19f"/><stop offset="0.7656" stop-color="#64c19e"/><stop offset="0.7812" stop-color="#65c29c"/><stop offset="0.7969" stop-color="#71c58e"/><stop offset="0.8125" stop-color="#82c87d"/><stop offset="0.8281" stop-color="#96cd6e"/><stop offset="0.8438" stop-color="#aad262"/><stop offset="0.8594" stop-color="#c3da56"/><stop offset="0.875" stop-color="#dde249"/><stop offset="0.8906" stop-color="#eee53e"/><stop offset="0.9062" stop-color="#f3d33a"/><stop offset="0.9219" stop-color="#f5b534"/><stop offset="0.9375" stop-color="#f59530"/><stop offset="0.9531" stop-color="#f2702c"/><stop offset="0.9688" stop-color="#ed4329"/><stop offset="0.9844" stop-color="#eb2c28"/><stop offset="1" stop-color="#de282c"/></linearGradient>
<linearGradient id="e671" x1="0" y1="0" x2="0" y2="1"><stop offset="0" stop-color="#f1692b"/><stop offset="0.01562" stop-color="#f1692b"/><stop offset="0.03125" stop-color="#f1692b"/><stop offset="0.04688" stop-color="#f1692b"/><stop offset="0.0625" stop-color="#f1692b"/><stop offset="0.07812" stop-color="#f1692b"/><stop offset="0.09375" stop-color="#f1692b"/><stop offset="0.1094" stop-color="#f26c2c"/><stop offset="0.125" stop-color="#f37c2d"/><stop offset="0.1406" stop-color="#f6ad32"/><stop offset="0.1562" stop-color="#ede63f"/><stop offset="0.1719" stop-color="#d0de50"/><stop offset="0.1875" stop-color="#bdd859"/><stop offset="0.2031" stop-color="#aed360"/><stop offset="0.2188" stop-color="#a9d163"/><stop offset="0.2344" stop-color="#b2d45e"/><stop offset="0.25" stop-color="#cadd53"/><stop offset="0.2656" stop-color="#c5db55"/><stop offset="0.2812" stop-color="#85c87a"/><stop offset="0.2969" stop-color="#55bebe"/><stop offset="0.3125" stop-color="#2ba6e4"/><stop offset="0.3281" stop-color="#2780c9"/><stop offset="0.3438" stop-color="#2466b6"/><stop offset="0.3594" stop-color="#2360b1"/><stop offset="0.375" stop-color="#235fb0"/><stop offset="0.3906" stop-color="#235eaf"/><stop offset="0.4062" stop-color="#235bad"/><stop offset="0.4219" stop-color="#2153a7"/><stop offset="0.4375" stop-color="#214aa2"/><stop offset="0.4531" stop-color="#2047a0"/><stop offset="0.4688" stop-color="#20449e"/><stop offset="0.4844" stop-color="#20439d"/><stop offset="0.5" stop-color="#21429c"/><stop offset="0.5156" stop-color="#21439c"/><stop offset="0.5312" stop-color="#21439c"/><stop offset="0.5469" stop-color="#21439d"/><stop offset="0.5625" stop-color="#214aa2"/><stop offset="0.5781" stop-color="#214da4"/><stop offset="0.5938" stop-color="#2255a8"/><stop offset="0.6094" stop-color="#225aab"/><stop offset="0.625" stop-color="#2360b1"/><stop offset="0.6406" stop-color="#256ab9"/><stop offset="0.6562" stop-color="#2673c0"/><stop offset="0.6719" stop-color="#288bd2"/><stop offset="0.6875" stop-color="#3fbad9"/><stop offset="0.7031" stop-color="#56bebc"/><stop offset="0.7188" stop-color="#63c19f"/><stop offset="0.7344" stop-color="#6ac395"/><stop offset="0.75" stop-color="#6bc394"/><stop offset="0.7656" stop-color="#6cc493"/><stop offset="0.7812" stop-color="#6dc492"/><stop offset="0.7969" stop-color="#7bc684"/><stop offset="0.8125" stop-color="#8cca75"/><stop offset="0.8281" stop-color="#a3d066"/><stop offset="0.8438" stop-color="#b9d75b"/><stop offset="0.8594" stop-color="#d3df4f"/><stop offset="0.875" stop-color="#ece640"/><stop offset="0.8906" stop-color="#f3d139"/><stop offset="0.9062" stop-color="#f6b233"/><stop offset="0.9219" stop-color="#f59931"/><stop offset="0.9375" stop-color="#f3782d"/><stop offset="0.9531" stop-color="#f0582a"/><stop offset="0.9688" stop-color="#eb2d28"/><stop offset="0.9844" stop-color="#d6282d"/><stop offset="1" stop-color="#c52830"/></linearGradient>
<linearGradient id="e672" x1="0" y1="0" x2="0" y2="1"><stop offset="0" stop-color="#f1672b"/><stop offset="0.01562" stop-color="#f1672b"/><stop offset="0.03125" stop-color="#f1672b"/><stop offset="0.04688" stop-color="#f1672b"/><stop offset="0.0625" stop-color="#f1672b"/><stop offset="0.07812" stop-color="#f1672b"/><stop offset="0.09375" stop-color="#f1672b"/><stop offset="0.1094" stop-color="#f1682b"/><stop offset="0.125" stop-color="#f3792d"/><stop offset="0.1406" stop-color="#f6aa32"/><stop offset="0.1562" stop-color="#eee63e"/><stop offset="0.1719" stop-color="#d2df4f"/><stop offset="0.1875" stop-color="#bfd958"/><stop offset="0.2031" stop-color="#b1d45e"/><stop offset="0.2188" stop-color="#acd261"/><stop offset="0.2344" stop-color="#b4d55d"/><stop offset="0.25" stop-color="#cddd51"/><stop offset="0.2656" stop-color="#c6db55"/><stop offset="0.2812" stop-color="#84c87b"/><stop offset="0.2969" stop-color="#54bdbf"/><stop offset="0.3125" stop-color="#2ba5e3"/><stop offset="0.3281" stop-color="#2781ca"/><stop offset="0.3438" stop-color="#2466b6"/><stop offset="0.3594" stop-color="#2360b1"/><stop offset="0.375" stop-color="#235fb0"/><stop offset="0.3906" stop-color="#235daf"/><stop offset="0.4062" stop-color="#235bad"/><stop offset="0.4219" stop-color="#2253a8"/><stop offset="0.4375" stop-color="#214aa2"/><stop offset="0.4531" stop-color="#2047a0"/><stop offset="0.4688" stop-color="#20449e"/><stop offset="0.4844" stop-color="#20439d"/><stop offset="0.5" stop-color="#21439c"/><stop offset="0.5156" stop-color="#21439c"/><stop offset="0.5312" stop-color="#21439c"/><stop offset="0.5469" stop-color="#21439c"/><stop offset="0.5625" stop-color="#214ca4"/><stop offset="0.5781" stop-color="#214fa6"/><stop offset="0.5938" stop-color="#2256a9"/><stop offset="0.6094" stop-color="#235bad"/><stop offset="0.625" stop-color="#2463b3"/><stop offset="0.6406" stop-color="#266fbd"/><stop offset="0.6562" stop-color="#2780c9"/><stop offset="0.6719" stop-color="#2999dc"/><stop offset="0.6875" stop-color="#48bcd0"/><stop offset="0.7031" stop-color="#5abfb3"/><stop offset="0.7188" stop-color="#6bc394"/><stop offset="0.7344" stop-color="#75c58a"/><stop offset="0.75" stop-color="#76c689"/><stop offset="0.7656" stop-color="#76c689"/><stop offset="0.7812" stop-color="#77c688"/><stop offset="0.7969" stop-color="#83c87c"/><stop offset="0.8125" stop-color="#97cd6e"/><stop offset="0.8281" stop-color="#b0d35f"/><stop offset="0.8438" stop-color="#c9dc54"/><stop offset="0.8594" stop-color="#e3e447"/><stop offset="0.875" stop-color="#f1da3b"/><stop offset="0.8906" stop-color="#f5b734"/><stop offset="0.9062" stop-color="#f59a31"/><stop offset="0.9219" stop-color="#f37d2d"/><stop offset="0.9375" stop-color="#f1612b"/><stop offset="0.9531" stop-color="#ec3728"/><stop offset="0.9688" stop-color="#d4282e"/><stop offset="0.9844" stop-color="#ba2832"/><stop offset="1" stop-color="#ad2731"/></linearGradient>
<linearGradient id="e673" x1="0" y1="0" x2="0" y2="1"><stop offset="0" stop-color="#f1662b"/><stop offset="0.01562" stop-color="#f1662b"/><stop offset="0.03125" stop-color="#f1662b"/><stop offset="0.04688" stop-color="#f1662b"/><stop offset="0.0625" stop-color="#f1662b"/><stop offset="0.07812" stop-color="#f1662b"/><stop offset="0.09375" stop-color="#f1662b"/><stop offset="0.1094" stop-color="#f1672b"/><stop offset="0.125" stop-color="#f3772d"/><stop offset="0.1406" stop-color="#f6aa32"/><stop offset="0.1562" stop-color="#eee63e"/><stop offset="0.1719" stop-color="#d1df4f"/><stop offset="0.1875" stop-color="#bfd958"/><stop offset="0.2031" stop-color="#b3d55e"/><stop offset="0.2188" stop-color="#afd360"/><stop offset="0.2344" stop-color="#b5d55d"/><stop offset="0.25" stop-color="#cede51"/><stop offset="0.2656" stop-color="#c5db55"/><stop offset="0.2812" stop-color="#83c87c"/><stop offset="0.2969" stop-color="#53bdc0"/><stop offset="0.3125" stop-color="#2ba3e2"/><stop offset="0.3281" stop-color="#2782cb"/><stop offset="0.3438" stop-color="#2466b5"/><stop offset="0.3594" stop-color="#2360b1"/><stop offset="0.375" stop-color="#235fb0"/><stop offset="0.3906" stop-color="#235dae"/><stop offset="0.4062" stop-color="#235bad"/><stop offset="0.4219" stop-color="#2253a8"/><stop offset="0.4375" stop-color="#214aa2"/><stop offset="0.4531" stop-color="#2047a0"/><stop offset="0.4688" stop-color="#20449e"/><stop offset="0.4844" stop-color="#20439d"/><stop offset="0.5" stop-color="#21429c"/><stop offset="0.5156" stop-color="#21439c"/><stop offset="0.5312" stop-color="#21439c"/><stop offset="0.5469" stop-color="#21439c"/><stop offset="0.5625" stop-color="#214ea5"/><stop offset="0.5781" stop-color="#2151a7"/><stop offset="0.5938" stop-color="#2257a9"/><stop offset="0.6094" stop-color="#235dae"/><stop offset="0.625" stop-color="#2466b5"/><stop offset="0.6406" stop-color="#2674c1"/><stop offset="0.6562" stop-color="#288ad1"/><stop offset="0.6719" stop-color="#2ba6e4"/><stop offset="0.6875" stop-color="#4dbcca"/><stop offset="0.7031" stop-color="#5dbfac"/><stop offset="0.7188" stop-color="#74c58b"/><stop offset="0.7344" stop-color="#7ec781"/><stop offset="0.75" stop-color="#7ec781"/><stop offset="0.7656" stop-color="#7ec781"/><stop offset="0.7812" stop-color="#7fc780"/><stop offset="0.7969" stop-color="#8cca75"/><stop offset="0.8125" stop-color="#a1d067"/><stop offset="0.8281" stop-color="#bdd859"/><stop offset="0.8438" stop-color="#d6e04d"/><stop offset="0.8594" stop-color="#ede63f"/><stop offset="0.875" stop-color="#f4cb38"/><stop offset="0.8906" stop-color="#f6a432"/><stop offset="0.9062" stop-color="#f4872f"/><stop offset="0.9219" stop-color="#f16a2b"/><stop offset="0.9375" stop-color="#ee4829"/><stop offset="0.9531" stop-color="#e5292a"/><stop offset="0.9688" stop-color="#bb2832"/><stop offset="0.9844" stop-color="#a72731"/><stop offset="1" stop-color="#9c2630"/></linearGradient>
<linearGradient id="e674" x1="0" y1="0" x2="0" y2="1"><stop offset="0" stop-color="#f1682b"/><stop offset="0.01562" stop-color="#f1682b"/><stop offset="0.03125" stop-color="#f1682b"/><stop offset="0.04688" stop-color="#f1682b"/><stop offset="0.0625" stop-color="#f1682b"/><stop offset="0.07812" stop-color="#f1682b"/><stop offset="0.09375" stop-color="#f1682b"/><stop offset="0.1094" stop-color="#f1692b"/><stop offset="0.125" stop-color="#f3792d"/><stop offset="0.1406" stop-color="#f6ad32"/><stop offset="0.1562" stop-color="#ece63f"/><stop offset="0.1719" stop-color="#cfde51"/><stop offset="0.1875" stop-color="#bed859"/><stop offset="0.2031" stop-color="#b3d45e"/><stop offset="0.2188" stop-color="#aed360"/><stop offset="0.2344" stop-color="#b4d55d"/><stop offset="0.25" stop-color="#ccdd52"/><stop offset="0.2656" stop-color="#c3da56"/><stop offset="0.2812" stop-color="#81c77e"/><stop offset="0.2969" stop-color="#52bdc2"/><stop offset="0.3125" stop-color="#2aa0e1"/><stop offset="0.3281" stop-color="#2782cb"/><stop offset="0.3438" stop-color="#2465b5"/><stop offset="0.3594" stop-color="#2360b0"/><stop offset="0.375" stop-color="#235eaf"/><stop offset="0.3906" stop-color="#235dae"/><stop offset="0.4062" stop-color="#225bac"/><stop offset="0.4219" stop-color="#2253a8"/><stop offset="0.4375" stop-color="#214aa2"/><stop offset="0.4531" stop-color="#2047a0"/><stop offset="0.4688" stop-color="#20449e"/><stop offset="0.4844" stop-color="#21439d"/><stop offset="0.5" stop-color="#21429c"/><stop offset="0.5156" stop-color="#21429c"/><stop offset="0.5312" stop-color="#21429c"/><stop offset="0.5469" stop-color="#21429c"/><stop offset="0.5625" stop-color="#214fa5"/><stop offset="0.5781" stop-color="#2153a7"/><stop offset="0.5938" stop-color="#2257aa"/><stop offset="0.6094" stop-color="#235eaf"/><stop offset="0.625" stop-color="#2467b7"/><stop offset="0.6406" stop-color="#277ac5"/><stop offset="0.6562" stop-color="#2993d7"/><stop offset="0.6719" stop-color="#2dafe8"/><stop offset="0.6875" stop-color="#4fbdc7"/><stop offset="0.7031" stop-color="#5ec0a7"/><stop offset="0.7188" stop-color="#7ac685"/><stop offset="0.7344" stop-color="#83c87c"/><stop offset="0.75" stop-color="#84c87b"/><stop offset="0.7656" stop-color="#84c87b"/><stop offset="0.7812" stop-color="#84c87b"/><stop offset="0.7969" stop-color="#92cc71"/><stop offset="0.8125" stop-color="#a8d163"/><stop offset="0.8281" stop-color="#c5db56"/><stop offset="0.8438" stop-color="#dfe249"/><stop offset="0.8594" stop-color="#f0e13d"/><stop offset="0.875" stop-color="#f5c136"/><stop offset="0.8906" stop-color="#f59b31"/><stop offset="0.9062" stop-color="#f37a2d"/><stop offset="0.9219" stop-color="#f05e2a"/><stop offset="0.9375" stop-color="#ec3628"/><stop offset="0.9531" stop-color="#d4282e"/><stop offset="0.9688" stop-color="#ad2731"/><stop offset="0.9844" stop-color="#9c2630"/><stop offset="1" stop-color="#93252f"/></linearGradient>
<linearGradient id="e675" x1="0" y1="0" x2="0" y2="1"><stop offset="0" stop-color="#f26d2c"/><stop offset="0.01562" stop-color="#f26d2c"/><stop offset="0.03125" stop-color="#f26d2c"/><stop offset="0.04688" stop-color="#f26d2c"/><stop offset="0.0625" stop-color="#f26d2c"/><stop offset="0.07812" stop-color="#f26d2c"/><stop offset="0.09375" stop-color="#f26d2c"/><stop offset="0.1094" stop-color="#f26d2c"/><stop offset="0.125" stop-color="#f37f2e"/><stop offset="0.1406" stop-color="#f5b534"/><stop offset="0.1562" stop-color="#e8e542"/><stop offset="0.1719" stop-color="#cadd53"/><stop offset="0.1875" stop-color="#bad75b"/><stop offset="0.2031" stop-color="#afd35f"/><stop offset="0.2188" stop-color="#abd261"/><stop offset="0.2344" stop-color="#b0d45f"/><stop offset="0.25" stop-color="#c8dc54"/><stop offset="0.2656" stop-color="#bfd958"/><stop offset="0.2812" stop-color="#7fc780"/><stop offset="0.2969" stop-color="#50bdc5"/><stop offset="0.3125" stop-color="#2a9cde"/><stop offset="0.3281" stop-color="#2781ca"/><stop offset="0.3438" stop-color="#2464b4"/><stop offset="0.3594" stop-color="#235fb0"/><stop offset="0.375" stop-color="#235eaf"/><stop offset="0.3906" stop-color="#235cad"/><stop offset="0.4062" stop-color="#225aac"/><stop offset="0.4219" stop-color="#2153a7"/><stop offset="0.4375" stop-color="#2149a2"/><stop offset="0.4531" stop-color="#2047a0"/><stop offset="0.4688" stop-color="#20449e"/><stop offset="0.4844" stop-color="#21439c"/><stop offset="0.5" stop-color="#21429b"/><stop offset="0.5156" stop-color="#21429b"/><stop offset="0.5312" stop-color="#21429b"/><stop offset="0.5469" stop-color="#21429b"/><stop offset="0.5625" stop-color="#214fa6"/><stop offset="0.5781" stop-color="#2253a8"/><stop offset="0.5938" stop-color="#2257aa"/><stop offset="0.6094" stop-color="#235eaf"/><stop offset="0.625" stop-color="#2467b7"/><stop offset="0.6406" stop-color="#277bc6"/><stop offset="0.6562" stop-color="#2996d9"/><stop offset="0.6719" stop-color="#2eb0e7"/><stop offset="0.6875" stop-color="#4fbdc7"/><stop offset="0.7031" stop-color="#5ec0a7"/><stop offset="0.7188" stop-color="#7bc784"/><stop offset="0.7344" stop-color="#85c87a"/><stop offset="0.75" stop-color="#85c87a"/><stop offset="0.7656" stop-color="#85c87a"/><stop offset="0.7812" stop-color="#85c87a"/><stop offset="0.7969" stop-color="#94cc70"/><stop offset="0.8125" stop-color="#aad162"/><stop offset="0.8281" stop-color="#c6db55"/><stop offset="0.8438" stop-color="#dfe348"/><stop offset="0.8594" stop-color="#f0e03d"/><stop offset="0.875" stop-color="#f5c136"/><stop offset="0.8906" stop-color="#f59a31"/><stop offset="0.9062" stop-color="#f3782d"/><stop offset="0.9219" stop-color="#f05b2a"/><stop offset="0.9375" stop-color="#ec3428"/><stop offset="0.9531" stop-color="#d0282e"/><stop offset="0.9688" stop-color="#ac2731"/><stop offset="0.9844" stop-color="#9c2630"/><stop offset="1" stop-color="#94252f"/></linearGradient>
<linearGradient id="e676" x1="0" y1="0" x2="0" y2="1"><stop offset="0" stop-color="#f3752d"/><stop offset="0.01562" stop-color="#f3752d"/><stop offset="0.03125" stop-color="#f3752d"/><stop offset="0.04688" stop-color="#f3752d"/><stop offset="0.0625" stop-color="#f3752d"/><stop offset="0.07812" stop-color="#f3752d"/><stop offset="0.09375" stop-color="#f3752d"/><stop offset="0.1094" stop-color="#f3752d"/><stop offset="0.125" stop-color="#f4892f"/><stop offset="0.1406" stop-color="#f5c136"/><stop offset="0.1562" stop-color="#e2e347"/><stop offset="0.1719" stop-color="#c3da56"/><stop offset="0.1875" stop-color="#b3d55e"/><stop offset="0.2031" stop-color="#a9d163"/><stop offset="0.2188" stop-color="#a6d164"/><stop offset="0.2344" stop-color="#aad262"/><stop offset="0.25" stop-color="#c1d957"/><stop offset="0.2656" stop-color="#b8d65c"/><stop offset="0.2812" stop-color="#7cc783"/><stop offset="0.2969" stop-color="#4ebdc8"/><stop offset="0.3125" stop-color="#2998db"/><stop offset="0.3281" stop-color="#277ec8"/><stop offset="0.3438" stop-color="#2463b3"/><stop offset="0.3594" stop-color="#235eaf"/><stop offset="0.375" stop-color="#235dae"/><stop offset="0.3906" stop-color="#235bad"/><stop offset="0.4062" stop-color="#2259ab"/><stop offset="0.4219" stop-color="#2152a7"/><stop offset="0.4375" stop-color="#2049a1"/><stop offset="0.4531" stop-color="#20469f"/><stop offset="0.4688" stop-color="#21439d"/><stop offset="0.4844" stop-color="#21429c"/><stop offset="0.5" stop-color="#22429b"/><stop offset="0.5156" stop-color="#22429b"/><stop offset="0.5312" stop-color="#22429b"/><stop offset="0.5469" stop-color="#22429b"/><stop offset="0.5625" stop-color="#214fa5"/><stop offset="0.5781" stop-color="#2153a7"/><stop offset="0.5938" stop-color="#2257a9"/><stop offset="0.6094" stop-color="#235dae"/><stop offset="0.625" stop-color="#2466b6"/><stop offset="0.6406" stop-color="#2679c4"/><stop offset="0.6562" stop-color="#2993d7"/><stop offset="0.6719" stop-color="#2dade7"/><stop offset="0.6875" stop-color="#4dbcca"/><stop offset="0.7031" stop-color="#5dc0aa"/><stop offset="0.7188" stop-color="#79c686"/><stop offset="0.7344" stop-color="#83c87c"/><stop offset="0.75" stop-color="#83c87c"/><stop offset="0.7656" stop-color="#83c87c"/><stop offset="0.7812" stop-color="#83c87c"/><stop offset="0.7969" stop-color="#90cb72"/><stop offset="0.8125" stop-color="#a5d065"/><stop offset="0.8281" stop-color="#bfd958"/><stop offset="0.8438" stop-color="#d8e14c"/><stop offset="0.8594" stop-color="#ede63f"/><stop offset="0.875" stop-color="#f4cb38"/><stop offset="0.8906" stop-color="#f6a231"/><stop offset="0.9062" stop-color="#f4802e"/><stop offset="0.9219" stop-color="#f1632b"/><stop offset="0.9375" stop-color="#ed3d28"/><stop offset="0.9531" stop-color="#dd282c"/><stop offset="0.9688" stop-color="#b92832"/><stop offset="0.9844" stop-color="#a82731"/><stop offset="1" stop-color="#a02731"/></linearGradient>
<linearGradient id="e677" x1="0" y1="0" x2="0" y2="1"><stop offset="0" stop-color="#f4822e"/><stop offset="0.01562" stop-color="#f4822e"/><stop offset="0.03125" stop-color="#f4822e"/><stop offset="0.04688" stop-color="#f4822e"/><stop offset="0.0625" stop-color="#f4822e"/><stop offset="0.07812" stop-color="#f4822e"/><stop offset="0.09375" stop-color="#f4822e"/><stop offset="0.1094" stop-color="#f4832e"/><stop offset="0.125" stop-color="#f59630"/><stop offset="0.1406" stop-color="#f3d039"/><stop offset="0.1562" stop-color="#d7e04d"/><stop offset="0.1719" stop-color="#b9d75b"/><stop offset="0.1875" stop-color="#aad262"/><stop offset="0.2031" stop-color="#a2d067"/><stop offset="0.2188" stop-color="#9ecf69"/><stop offset="0.2344" stop-color="#a3d066"/><stop offset="0.25" stop-color="#b7d65c"/><stop offset="0.2656" stop-color="#aed360"/><stop offset="0.2812" stop-color="#79c686"/><stop offset="0.2969" stop-color="#4cbccc"/><stop offset="0.3125" stop-color="#2993d8"/><stop offset="0.3281" stop-color="#277ac5"/><stop offset="0.3438" stop-color="#2462b2"/><stop offset="0.3594" stop-color="#235dae"/><stop offset="0.375" stop-color="#235bad"/><stop offset="0.3906" stop-color="#225aac"/><stop offset="0.4062" stop-color="#2258aa"/><stop offset="0.4219" stop-color="#2151a7"/><stop offset="0.4375" stop-color="#2048a1"/><stop offset="0.4531" stop-color="#20459f"/><stop offset="0.4688" stop-color="#21439c"/><stop offset="0.4844" stop-color="#22429b"/><stop offset="0.5" stop-color="#22419a"/><stop offset="0.5156" stop-color="#22419a"/><stop offset="0.5312" stop-color="#22419a"/><stop offset="0.5469" stop-color="#22419a"/><stop offset="0.5625" stop-color="#214da5"/><stop offset="0.5781" stop-color="#2151a7"/><stop offset="0.5938" stop-color="#2255a9"/><stop offset="0.6094" stop-color="#225bac"/><stop offset="0.625" stop-color="#2464b4"/><stop offset="0.6406" stop-color="#2673c0"/><stop offset="0.6562" stop-color="#288ad0"/><stop offset="0.6719" stop-color="#2aa2e2"/><stop offset="0.6875" stop-color="#47bbd1"/><stop offset="0.7031" stop-color="#5bbfb1"/><stop offset="0.7188" stop-color="#72c58d"/><stop offset="0.7344" stop-color="#7cc783"/><stop offset="0.75" stop-color="#7cc783"/><stop offset="0.7656" stop-color="#7cc783"/><stop offset="0.7812" stop-color="#7cc783"/><stop offset="0.7969" stop-color="#88c978"/><stop offset="0.8125" stop-color="#9ace6b"/><stop offset="0.8281" stop-color="#b1d45e"/><stop offset="0.8438" stop-color="#c8dc54"/><stop offset="0.8594" stop-color="#e0e348"/><stop offset="0.875" stop-color="#f0dd3c"/><stop offset="0.8906" stop-color="#f5b634"/><stop offset="0.9062" stop-color="#f59530"/><stop offset="0.9219" stop-color="#f2742c"/><stop offset="0.9375" stop-color="#f0582a"/><stop offset="0.9531" stop-color="#ec3128"/><stop offset="0.9688" stop-color="#d6282d"/><stop offset="0.9844" stop-color="#c32830"/><stop offset="1" stop-color="#b92832"/></linearGradient>
<linearGradient id="e678" x1="0" y1="0" x2="0" y2="1"><stop offset="0" stop-color="#f59430"/><stop offset="0.01562" stop-color="#f59430"/><stop offset="0.03125" stop-color="#f59430"/><stop offset="0.04688" stop-color="#f59430"/><stop offset="0.0625" stop-color="#f59430"/><stop offset="0.07812" stop-color="#f59430"/><stop offset="0.09375" stop-color="#f59430"/><stop offset="0.1094" stop-color="#f59530"/><stop offset="0.125" stop-color="#f6a532"/><stop offset="0.1406" stop-color="#f0e03d"/><stop offset="0.1562" stop-color="#c9dc54"/><stop offset="0.1719" stop-color="#add261"/><stop offset="0.1875" stop-color="#a0cf68"/><stop offset="0.2031" stop-color="#98cd6d"/><stop offset="0.2188" stop-color="#95cd6f"/><stop offset="0.2344" stop-color="#99ce6c"/><stop offset="0.25" stop-color="#abd262"/><stop offset="0.2656" stop-color="#a5d065"/><stop offset="0.2812" stop-color="#74c58b"/><stop offset="0.2969" stop-color="#46bbd2"/><stop offset="0.3125" stop-color="#288ed3"/><stop offset="0.3281" stop-color="#2674c1"/><stop offset="0.3438" stop-color="#2360b1"/><stop offset="0.3594" stop-color="#235bad"/><stop offset="0.375" stop-color="#225aac"/><stop offset="0.3906" stop-color="#2259aa"/><stop offset="0.4062" stop-color="#2257a9"/><stop offset="0.4219" stop-color="#2150a6"/><stop offset="0.4375" stop-color="#2047a0"/><stop offset="0.4531" stop-color="#20459e"/><stop offset="0.4688" stop-color="#22429b"/><stop offset="0.4844" stop-color="#22419a"/><stop offset="0.5" stop-color="#234099"/><stop offset="0.5156" stop-color="#234099"/><stop offset="0.5312" stop-color="#234099"/><stop offset="0.5469" stop-color="#224099"/><stop offset="0.5625" stop-color="#214ba3"/><stop offset="0.5781" stop-color="#214fa5"/><stop offset="0.5938" stop-color="#2254a8"/><stop offset="0.6094" stop-color="#2258aa"/><stop offset="0.625" stop-color="#2361b1"/><stop offset="0.6406" stop-color="#256dbc"/><stop offset="0.6562" stop-color="#277ec8"/><stop offset="0.6719" stop-color="#2993d7"/><stop offset="0.6875" stop-color="#3ab9de"/><stop offset="0.7031" stop-color="#57bebb"/><stop offset="0.7188" stop-color="#68c398"/><stop offset="0.7344" stop-color="#71c58e"/><stop offset="0.75" stop-color="#71c58e"/><stop offset="0.7656" stop-color="#71c58e"/><stop offset="0.7812" stop-color="#72c58d"/><stop offset="0.7969" stop-color="#7dc782"/><stop offset="0.8125" stop-color="#8dca75"/><stop offset="0.8281" stop-color="#a0cf68"/><stop offset="0.8438" stop-color="#b4d55d"/><stop offset="0.8594" stop-color="#c9dc53"/><stop offset="0.875" stop-color="#e3e446"/><stop offset="0.8906" stop-color="#f2d73b"/><stop offset="0.9062" stop-color="#f6b133"/><stop offset="0.9219" stop-color="#f59430"/><stop offset="0.9375" stop-color="#f2742c"/><stop offset="0.9531" stop-color="#f0562a"/><stop offset="0.9688" stop-color="#ec3328"/><stop offset="0.9844" stop-color="#e92a29"/><stop offset="1" stop-color="#e0282b"/></linearGradient>
<linearGradient id="e679" x1="0" y1="0" x2="0" y2="1"><stop offset="0" stop-color="#f6a632"/><stop offset="0.01562" stop-color="#f6a632"/><stop offset="0.03125" stop-color="#f6a632"/><stop offset="0.04688" stop-color="#f6a632"/><stop offset="0.0625" stop-color="#f6a632"/><stop offset="0.07812" stop-color="#f6a632"/><stop offset="0.09375" stop-color="#f6a632"/><stop offset="0.1094" stop-color="#f6a832"/><stop offset="0.125" stop-color="#f5bf35"/><stop offset="0.1406" stop-color="#e5e445"/><stop offset="0.1562" stop-color="#b9d75b"/><stop offset="0.1719" stop-color="#a2d067"/><stop offset="0.1875" stop-color="#95cd6f"/><stop offset="0.2031" stop-color="#8ecb74"/><stop offset="0.2188" stop-color="#8bca76"/><stop offset="0.2344" stop-color="#8fcb73"/><stop offset="0.25" stop-color="#9fcf69"/><stop offset="0.2656" stop-color="#9ace6c"/><stop offset="0.2812" stop-color="#6fc490"/><stop offset="0.2969" stop-color="#3fbad9"/><stop offset="0.3125" stop-color="#2888cf"/><stop offset="0.3281" stop-color="#2670be"/><stop offset="0.3438" stop-color="#235eaf"/><stop offset="0.3594" stop-color="#225aab"/><stop offset="0.375" stop-color="#2258aa"/><stop offset="0.3906" stop-color="#2257aa"/><stop offset="0.4062" stop-color="#2256a9"/><stop offset="0.4219" stop-color="#214fa5"/><stop offset="0.4375" stop-color="#2046a0"/><stop offset="0.4531" stop-color="#20449e"/><stop offset="0.4688" stop-color="#22419a"/><stop offset="0.4844" stop-color="#234099"/><stop offset="0.5" stop-color="#233f98"/><stop offset="0.5156" stop-color="#233f98"/><stop offset="0.5312" stop-color="#233f98"/><stop offset="0.5469" stop-color="#233f98"/><stop offset="0.5625" stop-color="#2049a1"/><stop offset="0.5781" stop-color="#214ca3"/><stop offset="0.5938" stop-color="#2152a7"/><stop offset="0.6094" stop-color="#2256a9"/><stop offset="0.625" stop-color="#235dae"/><stop offset="0.6406" stop-color="#2467b6"/><stop offset="0.6562" stop-color="#2671be"/><stop offset="0.6719" stop-color="#2783cb"/><stop offset="0.6875" stop-color="#2eb0e7"/><stop offset="0.7031" stop-color="#4ebcc8"/><stop offset="0.7188" stop-color="#5fc0a5"/><stop offset="0.7344" stop-color="#65c29c"/><stop offset="0.75" stop-color="#65c29c"/><stop offset="0.7656" stop-color="#66c29b"/><stop offset="0.7812" stop-color="#66c29b"/><stop offset="0.7969" stop-color="#70c48f"/><stop offset="0.8125" stop-color="#7fc780"/><stop offset="0.8281" stop-color="#8ecb73"/><stop offset="0.8438" stop-color="#9ecf69"/><stop offset="0.8594" stop-color="#afd35f"/><stop offset="0.875" stop-color="#c6db55"/><stop offset="0.8906" stop-color="#e0e348"/><stop offset="0.9062" stop-color="#f0de3c"/><stop offset="0.9219" stop-color="#f5bf35"/><stop offset="0.9375" stop-color="#f59c31"/><stop offset="0.9531" stop-color="#f37a2d"/><stop offset="0.9688" stop-color="#f05f2a"/><stop offset="0.9844" stop-color="#ee4c29"/><stop offset="1" stop-color="#ed4029"/></linearGradient>
<linearGradient id="e680" x1="0" y1="0" x2="0" y2="1"><stop offset="0" stop-color="#f4c436"/><stop offset="0.01562" stop-color="#f4c436"/><stop offset="0.03125" stop-color="#f4c436"/><stop offset="0.04688" stop-color="#f4c436"/><stop offset="0.0625" stop-color="#f4c436"/><stop offset="0.07812" stop-color="#f4c436"/><stop offset="0.09375" stop-color="#f4c436"/><stop offset="0.1094" stop-color="#f4c837"/><stop offset="0.125" stop-color="#f1db3c"/><stop offset="0.1406" stop-color="#d1de50"/><stop offset="0.1562" stop-color="#a9d163"/><stop offset="0.1719" stop-color="#95cd6f"/><stop offset="0.1875" stop-color="#8bca76"/><stop offset="0.2031" stop-color="#83c87c"/><stop offset="0.2188" stop-color="#81c77e"/><stop offset="0.2344" stop-color="#85c87a"/><stop offset="0.25" stop-color="#92cc71"/><stop offset="0.2656" stop-color="#8fcb73"/><stop offset="0.2812" stop-color="#69c396"/><stop offset="0.2969" stop-color="#36b8e1"/><stop offset="0.3125" stop-color="#2782cb"/><stop offset="0.3281" stop-color="#256cbb"/><stop offset="0.3438" stop-color="#235cad"/><stop offset="0.3594" stop-color="#2258aa"/><stop offset="0.375" stop-color="#2257a9"/><stop offset="0.3906" stop-color="#2256a9"/><stop offset="0.4062" stop-color="#2254a8"/><stop offset="0.4219" stop-color="#214da4"/><stop offset="0.4375" stop-color="#20459f"/><stop offset="0.4531" stop-color="#21439c"/><stop offset="0.4688" stop-color="#234098"/><stop offset="0.4844" stop-color="#233f97"/><stop offset="0.5" stop-color="#243e96"/><stop offset="0.5156" stop-color="#243e96"/><stop offset="0.5312" stop-color="#243e97"/><stop offset="0.5469" stop-color="#243f97"/><stop offset="0.5625" stop-color="#20469f"/><stop offset="0.5781" stop-color="#2048a1"/><stop offset="0.5938" stop-color="#214fa6"/><stop offset="0.6094" stop-color="#2253a8"/><stop offset="0.625" stop-color="#2258aa"/><stop offset="0.6406" stop-color="#2360b1"/><stop offset="0.6562" stop-color="#2468b7"/><stop offset="0.6719" stop-color="#2673c0"/><stop offset="0.6875" stop-color="#2a9cde"/><stop offset="0.7031" stop-color="#3cbadc"/><stop offset="0.7188" stop-color="#58beb9"/><stop offset="0.7344" stop-color="#5cbfaf"/><stop offset="0.75" stop-color="#5cbfad"/><stop offset="0.7656" stop-color="#5dbfac"/><stop offset="0.7812" stop-color="#5dbfab"/><stop offset="0.7969" stop-color="#64c29d"/><stop offset="0.8125" stop-color="#70c48f"/><stop offset="0.8281" stop-color="#7fc780"/><stop offset="0.8438" stop-color="#8bca76"/><stop offset="0.8594" stop-color="#98ce6d"/><stop offset="0.875" stop-color="#aad162"/><stop offset="0.8906" stop-color="#bdd859"/><stop offset="0.9062" stop-color="#d1df4f"/><stop offset="0.9219" stop-color="#e7e543"/><stop offset="0.9375" stop-color="#f3d23a"/><stop offset="0.9531" stop-color="#f6a732"/><stop offset="0.9688" stop-color="#f4852e"/><stop offset="0.9844" stop-color="#f2732c"/><stop offset="1" stop-color="#f16a2b"/></linearGradient>
<linearGradient id="e681" x1="0" y1="0" x2="0" y2="1"><stop offset="0" stop-color="#efe13d"/><stop offset="0.01562" stop-color="#efe13d"/><stop offset="0.03125" stop-color="#efe13d"/><stop offset="0.04688" stop-color="#efe13d"/><stop offset="0.0625" stop-color="#efe13d"/><stop offset="0.07812" stop-color="#efe13d"/><stop offset="0.09375" stop-color="#efe13d"/><stop offset="0.1094" stop-color="#eee53e"/><stop offset="0.125" stop-color="#e3e447"/><stop offset="0.1406" stop-color="#bbd85a"/><stop offset="0.1562" stop-color="#9bce6b"/><stop offset="0.1719" stop-color="#8aca76"/><stop offset="0.1875" stop-color="#81c77e"/><stop offset="0.2031" stop-color="#7ac685"/><stop offset="0.2188" stop-color="#78c687"/><stop offset="0.2344" stop-color="#7cc783"/><stop offset="0.25" stop-color="#87c979"/><stop offset="0.2656" stop-color="#85c87a"/><stop offset="0.2812" stop-color="#65c29c"/><stop offset="0.2969" stop-color="#30b2e6"/><stop offset="0.3125" stop-color="#277cc6"/><stop offset="0.3281" stop-color="#2568b7"/><stop offset="0.3438" stop-color="#225aab"/><stop offset="0.3594" stop-color="#2256a9"/><stop offset="0.375" stop-color="#2255a8"/><stop offset="0.3906" stop-color="#2254a8"/><stop offset="0.4062" stop-color="#2153a7"/><stop offset="0.4219" stop-color="#214ba3"/><stop offset="0.4375" stop-color="#20449e"/><stop offset="0.4531" stop-color="#22419a"/><stop offset="0.4688" stop-color="#243e97"/><stop offset="0.4844" stop-color="#243e96"/><stop offset="0.5" stop-color="#253d94"/><stop offset="0.5156" stop-color="#253d95"/><stop offset="0.5312" stop-color="#253e95"/><stop offset="0.5469" stop-color="#243e95"/><stop offset="0.5625" stop-color="#21439d"/><stop offset="0.5781" stop-color="#20459f"/><stop offset="0.5938" stop-color="#214ca4"/><stop offset="0.6094" stop-color="#2150a6"/><stop offset="0.625" stop-color="#2254a8"/><stop offset="0.6406" stop-color="#225aab"/><stop offset="0.6562" stop-color="#235fb0"/><stop offset="0.6719" stop-color="#256ab9"/><stop offset="0.6875" stop-color="#288ad0"/><stop offset="0.7031" stop-color="#2caae6"/><stop offset="0.7188" stop-color="#49bccf"/><stop offset="0.7344" stop-color="#51bdc4"/><stop offset="0.75" stop-color="#52bdc2"/><stop offset="0.7656" stop-color="#53bdc0"/><stop offset="0.7812" stop-color="#54bdbf"/><stop offset="0.7969" stop-color="#5cbfaf"/><stop offset="0.8125" stop-color="#64c29d"/><stop offset="0.8281" stop-color="#70c48f"/><stop offset="0.8438" stop-color="#7cc783"/><stop offset="0.8594" stop-color="#86c879"/><stop offset="0.875" stop-color="#93cc70"/><stop offset="0.8906" stop-color="#a0cf68"/><stop offset="0.9062" stop-color="#acd261"/><stop offset="0.9219" stop-color="#bed859"/><stop offset="0.9375" stop-color="#d7e04c"/><stop offset="0.9531" stop-color="#f0e03d"/><stop offset="0.9688" stop-color="#f6b133"/><stop offset="0.9844" stop-color="#f59c31"/><stop offset="1" stop-color="#f59130"/></linearGradient>
<linearGradient id="e682" x1="0" y1="0" x2="0" y2="1"><stop offset="0" stop-color="#dce24a"/><stop offset="0.01562" stop-color="#dce24a"/><stop offset="0.03125" stop-color="#dce24a"/><stop offset="0.04688" stop-color="#dce24a"/><stop offset="0.0625" stop-color="#dce24a"/><stop offset="0.07812" stop-color="#dce24a"/><stop offset="0.09375" stop-color="#dce24a"/><stop offset="0.1094" stop-color="#d7e04d"/><stop offset="0.125" stop-color="#c8dc54"/><stop offset="0.1406" stop-color="#a7d164"/><stop offset="0.1562" stop-color="#8ecb74"/><stop offset="0.1719" stop-color="#80c77f"/><stop offset="0.1875" stop-color="#78c687"/><stop offset="0.2031" stop-color="#71c58e"/><stop offset="0.2188" stop-color="#6ec491"/><stop offset="0.2344" stop-color="#73c58c"/><stop offset="0.25" stop-color="#7dc782"/><stop offset="0.2656" stop-color="#7cc783"/><stop offset="0.2812" stop-color="#60c0a3"/><stop offset="0.2969" stop-color="#2ba7e4"/><stop offset="0.3125" stop-color="#2675c1"/><stop offset="0.3281" stop-color="#2464b4"/><stop offset="0.3438" stop-color="#2257aa"/><stop offset="0.3594" stop-color="#2254a8"/><stop offset="0.375" stop-color="#2253a8"/><stop offset="0.3906" stop-color="#2152a7"/><stop offset="0.4062" stop-color="#2151a6"/><stop offset="0.4219" stop-color="#214aa2"/><stop offset="0.4375" stop-color="#21439c"/><stop offset="0.4531" stop-color="#234099"/><stop offset="0.4688" stop-color="#253e95"/><stop offset="0.4844" stop-color="#253d94"/><stop offset="0.5" stop-color="#263d93"/><stop offset="0.5156" stop-color="#263d93"/><stop offset="0.5312" stop-color="#263d93"/><stop offset="0.5469" stop-color="#253d94"/><stop offset="0.5625" stop-color="#234098"/><stop offset="0.5781" stop-color="#22419a"/><stop offset="0.5938" stop-color="#214aa2"/><stop offset="0.6094" stop-color="#214da5"/><stop offset="0.625" stop-color="#2151a6"/><stop offset="0.6406" stop-color="#2254a8"/><stop offset="0.6562" stop-color="#2258aa"/><stop offset="0.6719" stop-color="#2462b2"/><stop offset="0.6875" stop-color="#277cc6"/><stop offset="0.7031" stop-color="#2992d6"/><stop offset="0.7188" stop-color="#2fb1e7"/><stop offset="0.7344" stop-color="#3ab9de"/><stop offset="0.75" stop-color="#3dbadb"/><stop offset="0.7656" stop-color="#41bad7"/><stop offset="0.7812" stop-color="#44bbd4"/><stop offset="0.7969" stop-color="#53bdc1"/><stop offset="0.8125" stop-color="#5cbfad"/><stop offset="0.8281" stop-color="#65c29d"/><stop offset="0.8438" stop-color="#6ec491"/><stop offset="0.8594" stop-color="#79c686"/><stop offset="0.875" stop-color="#82c87d"/><stop offset="0.8906" stop-color="#8aca76"/><stop offset="0.9062" stop-color="#92cc71"/><stop offset="0.9219" stop-color="#9dce6a"/><stop offset="0.9375" stop-color="#afd360"/><stop offset="0.9531" stop-color="#ccdd52"/><stop offset="0.9688" stop-color="#efe33d"/><stop offset="0.9844" stop-color="#f4cb38"/><stop offset="1" stop-color="#f5ba34"/></linearGradient>
<linearGradient id="e683" x1="0" y1="0" x2="0" y2="1"><stop offset="0" stop-color="#c1da57"/><stop offset="0.01562" stop-color="#c1da57"/><stop offset="0.03125" stop-color="#c1da57"/><stop offset="0.04688" stop-color="#c1da57"/><stop offset="0.0625" stop-color="#c1da57"/><stop offset="0.07812" stop-color="#c1da57"/><stop offset="0.09375" stop-color="#c1da57"/><stop offset="0.1094" stop-color="#bcd85a"/><stop offset="0.125" stop-color="#afd360"/><stop offset="0.1406" stop-color="#96cd6e"/><stop offset="0.1562" stop-color="#82c87d"/><stop offset="0.1719" stop-color="#78c687"/><stop offset="0.1875" stop-color="#6fc490"/><stop offset="0.2031" stop-color="#68c398"/><stop offset="0.2188" stop-color="#66c29b"/><stop offset="0.2344" stop-color="#6ac395"/><stop offset="0.25" stop-color="#74c58b"/><stop offset="0.2656" stop-color="#73c58c"/><stop offset="0.2812" stop-color="#5dbfac"/><stop offset="0.2969" stop-color="#299bdd"/><stop offset="0.3125" stop-color="#2670be"/><stop offset="0.3281" stop-color="#2360b1"/><stop offset="0.3438" stop-color="#2255a9"/><stop offset="0.3594" stop-color="#2152a7"/><stop offset="0.375" stop-color="#2151a7"/><stop offset="0.3906" stop-color="#2150a6"/><stop offset="0.4062" stop-color="#214fa6"/><stop offset="0.4219" stop-color="#2048a1"/><stop offset="0.4375" stop-color="#22419a"/><stop offset="0.4531" stop-color="#243f97"/><stop offset="0.4688" stop-color="#263d93"/><stop offset="0.4844" stop-color="#273c92"/><stop offset="0.5" stop-color="#273c91"/><stop offset="0.5156" stop-color="#273c91"/><stop offset="0.5312" stop-color="#273c91"/><stop offset="0.5469" stop-color="#273c92"/><stop offset="0.5625" stop-color="#253d95"/><stop offset="0.5781" stop-color="#243e96"/><stop offset="0.5938" stop-color="#2048a1"/><stop offset="0.6094" stop-color="#214ba3"/><stop offset="0.625" stop-color="#214ea5"/><stop offset="0.6406" stop-color="#2150a6"/><stop offset="0.6562" stop-color="#2253a8"/><stop offset="0.6719" stop-color="#235cad"/><stop offset="0.6875" stop-color="#2671be"/><stop offset="0.7031" stop-color="#2781ca"/><stop offset="0.7188" stop-color="#2995d9"/><stop offset="0.7344" stop-color="#2ba4e3"/><stop offset="0.75" stop-color="#2ca9e5"/><stop offset="0.7656" stop-color="#2dade7"/><stop offset="0.7812" stop-color="#2fb1e7"/><stop offset="0.7969" stop-color="#44bbd4"/><stop offset="0.8125" stop-color="#55bebd"/><stop offset="0.8281" stop-color="#5dc0aa"/><stop offset="0.8438" stop-color="#64c19e"/><stop offset="0.8594" stop-color="#6cc493"/><stop offset="0.875" stop-color="#76c689"/><stop offset="0.8906" stop-color="#7cc783"/><stop offset="0.9062" stop-color="#80c77f"/><stop offset="0.9219" stop-color="#87c978"/><stop offset="0.9375" stop-color="#95cd6f"/><stop offset="0.9531" stop-color="#aad262"/><stop offset="0.9688" stop-color="#d0de50"/><stop offset="0.9844" stop-color="#e6e444"/><stop offset="1" stop-color="#efe33d"/></linearGradient>
<linearGradient id="e684" x1="0" y1="0" x2="0" y2="1"><stop offset="0" stop-color="#a9d163"/><stop offset="0.01562" stop-color="#a9d163"/><stop offset="0.03125" stop-color="#a9d163"/><stop offset="0.04688" stop-color="#a9d163"/><stop offset="0.0625" stop-color="#a9d163"/><stop offset="0.07812" stop-color="#a9d163"/><stop offset="0.09375" stop-color="#a9d163"/><stop offset="0.1094" stop-color="#a5d065"/><stop offset="0.125" stop-color="#9bce6b"/><stop offset="0.1406" stop-color="#89c977"/><stop offset="0.1562" stop-color="#79c686"/><stop offset="0.1719" stop-color="#6ec491"/><stop offset="0.1875" stop-color="#67c29a"/><stop offset="0.2031" stop-color="#61c1a1"/><stop offset="0.2188" stop-color="#60c0a4"/><stop offset="0.2344" stop-color="#63c19f"/><stop offset="0.25" stop-color="#6ac395"/><stop offset="0.2656" stop-color="#6ac395"/><stop offset="0.2812" stop-color="#59beb6"/><stop offset="0.2969" stop-color="#288fd5"/><stop offset="0.3125" stop-color="#256cba"/><stop offset="0.3281" stop-color="#235dae"/><stop offset="0.3438" stop-color="#2253a8"/><stop offset="0.3594" stop-color="#2150a6"/><stop offset="0.375" stop-color="#214fa6"/><stop offset="0.3906" stop-color="#214fa5"/><stop offset="0.4062" stop-color="#214da5"/><stop offset="0.4219" stop-color="#2046a0"/><stop offset="0.4375" stop-color="#234098"/><stop offset="0.4531" stop-color="#253e95"/><stop offset="0.4688" stop-color="#273c91"/><stop offset="0.4844" stop-color="#283c90"/><stop offset="0.5" stop-color="#283b8f"/><stop offset="0.5156" stop-color="#283b8f"/><stop offset="0.5312" stop-color="#283b90"/><stop offset="0.5469" stop-color="#283c90"/><stop offset="0.5625" stop-color="#273c91"/><stop offset="0.5781" stop-color="#273c92"/><stop offset="0.5938" stop-color="#20469f"/><stop offset="0.6094" stop-color="#2049a1"/><stop offset="0.625" stop-color="#214ba3"/><stop offset="0.6406" stop-color="#214da4"/><stop offset="0.6562" stop-color="#214fa6"/><stop offset="0.6719" stop-color="#2257aa"/><stop offset="0.6875" stop-color="#256bba"/><stop offset="0.7031" stop-color="#2674c1"/><stop offset="0.7188" stop-color="#2783cc"/><stop offset="0.7344" stop-color="#288ed4"/><stop offset="0.75" stop-color="#2993d7"/><stop offset="0.7656" stop-color="#2997da"/><stop offset="0.7812" stop-color="#2a9bdd"/><stop offset="0.7969" stop-color="#32b4e4"/><stop offset="0.8125" stop-color="#4dbccb"/><stop offset="0.8281" stop-color="#59beb7"/><stop offset="0.8438" stop-color="#5dc0a9"/><stop offset="0.8594" stop-color="#64c19e"/><stop offset="0.875" stop-color="#6bc394"/><stop offset="0.8906" stop-color="#70c48f"/><stop offset="0.9062" stop-color="#74c58b"/><stop offset="0.9219" stop-color="#7ac685"/><stop offset="0.9375" stop-color="#84c87b"/><stop offset="0.9531" stop-color="#94cd6f"/><stop offset="0.9688" stop-color="#b3d45e"/><stop offset="0.9844" stop-color="#c8dc54"/><stop offset="1" stop-color="#d5e04d"/></linearGradient>
<linearGradient id="e685" x1="0" y1="0" x2="0" y2="1"><stop offset="0" stop-color="#97cd6d"/><stop offset="0.01562" stop-color="#97cd6d"/><stop offset="0.03125" stop-color="#97cd6d"/><stop offset="0.04688" stop-color="#97cd6d"/><stop offset="0.0625" stop-color="#97cd6d"/><stop offset="0.07812" stop-color="#97cd6d"/><stop offset="0.09375" stop-color="#97cd6d"/><stop offset="0.1094" stop-color="#93cc70"/><stop offset="0.125" stop-color="#8cca75"/><stop offset="0.1406" stop-color="#7ec781"/><stop offset="0.1562" stop-color="#70c48f"/><stop offset="0.1719" stop-color="#66c29a"/><stop offset="0.1875" stop-color="#61c1a2"/><stop offset="0.2031" stop-color="#5dbfac"/><stop offset="0.2188" stop-color="#5cbfaf"/><stop offset="0.2344" stop-color="#5ec0a8"/><stop offset="0.25" stop-color="#64c19e"/><stop offset="0.2656" stop-color="#64c19e"/><stop offset="0.2812" stop-color="#54bdc0"/><stop offset="0.2969" stop-color="#2785cd"/><stop offset="0.3125" stop-color="#2568b7"/><stop offset="0.3281" stop-color="#225aac"/><stop offset="0.3438" stop-color="#2151a7"/><stop offset="0.3594" stop-color="#214ea5"/><stop offset="0.375" stop-color="#214ea5"/><stop offset="0.3906" stop-color="#214da4"/><stop offset="0.4062" stop-color="#214ca3"/><stop offset="0.4219" stop-color="#20459f"/><stop offset="0.4375" stop-color="#243e96"/><stop offset="0.4531" stop-color="#263d93"/><stop offset="0.4688" stop-color="#283b8f"/><stop offset="0.4844" stop-color="#293b8e"/><stop offset="0.5" stop-color="#293a8d"/><stop offset="0.5156" stop-color="#293b8e"/><stop offset="0.5312" stop-color="#293b8e"/><stop offset="0.5469" stop-color="#293b8e"/><stop offset="0.5625" stop-color="#283b8f"/><stop offset="0.5781" stop-color="#283b8f"/><stop offset="0.5938" stop-color="#20449e"/><stop offset="0.6094" stop-color="#2047a0"/><stop offset="0.625" stop-color="#2049a1"/><stop offset="0.6406" stop-color="#214ba3"/><stop offset="0.6562" stop-color="#214da4"/><stop offset="0.6719" stop-color="#2255a8"/><stop offset="0.6875" stop-color="#2466b6"/><stop offset="0.7031" stop-color="#256ebc"/><stop offset="0.7188" stop-color="#2678c4"/><stop offset="0.7344" stop-color="#2782cb"/><stop offset="0.75" stop-color="#2785cd"/><stop offset="0.7656" stop-color="#2889d0"/><stop offset="0.7812" stop-color="#288cd2"/><stop offset="0.7969" stop-color="#2ba6e4"/><stop offset="0.8125" stop-color="#3fbad9"/><stop offset="0.8281" stop-color="#52bdc2"/><stop offset="0.8438" stop-color="#5abeb5"/><stop offset="0.8594" stop-color="#5ec0a7"/><stop offset="0.875" stop-color="#64c29d"/><stop offset="0.8906" stop-color="#67c299"/><stop offset="0.9062" stop-color="#6ac395"/><stop offset="0.9219" stop-color="#70c48f"/><stop offset="0.9375" stop-color="#7ac685"/><stop offset="0.9531" stop-color="#87c979"/><stop offset="0.9688" stop-color="#9fcf69"/><stop offset="0.9844" stop-color="#b0d45f"/><stop offset="1" stop-color="#bcd85a"/></linearGradient>
<linearGradient id="e686" x1="0" y1="0" x2="0" y2="1"><stop offset="0" stop-color="#8cca75"/><stop offset="0.01562" stop-color="#8cca75"/><stop offset="0.03125" stop-color="#8cca75"/><stop offset="0.04688" stop-color="#8cca75"/><stop offset="0.0625" stop-color="#8cca75"/><stop offset="0.07812" stop-color="#8cca75"/><stop offset="0.09375" stop-color="#8cca75"/><stop offset="0.1094" stop-color="#88c978"/><stop offset="0.125" stop-color="#82c87d"/><stop offset="0.1406" stop-color="#76c689"/><stop offset="0.1562" stop-color="#68c398"/><stop offset="0.1719" stop-color="#61c1a2"/><stop offset="0.1875" stop-color="#5dbfac"/><stop offset="0.2031" stop-color="#59beb5"/><stop offset="0.2188" stop-color="#58beb9"/><stop offset="0.2344" stop-color="#5abfb2"/><stop offset="0.25" stop-color="#5fc0a6"/><stop offset="0.2656" stop-color="#5fc0a6"/><stop offset="0.2812" stop-color="#4ebcc9"/><stop offset="0.2969" stop-color="#277dc7"/><stop offset="0.3125" stop-color="#2464b4"/><stop offset="0.3281" stop-color="#2257aa"/><stop offset="0.3438" stop-color="#214fa6"/><stop offset="0.3594" stop-color="#214da4"/><stop offset="0.375" stop-color="#214ca4"/><stop offset="0.3906" stop-color="#214ba3"/><stop offset="0.4062" stop-color="#214aa2"/><stop offset="0.4219" stop-color="#20439d"/><stop offset="0.4375" stop-color="#253d94"/><stop offset="0.4531" stop-color="#273c91"/><stop offset="0.4688" stop-color="#293b8d"/><stop offset="0.4844" stop-color="#2a3a8c"/><stop offset="0.5" stop-color="#2a3a8c"/><stop offset="0.5156" stop-color="#2a3a8c"/><stop offset="0.5312" stop-color="#2a3a8c"/><stop offset="0.5469" stop-color="#2a3a8d"/><stop offset="0.5625" stop-color="#293b8d"/><stop offset="0.5781" stop-color="#293b8e"/><stop offset="0.5938" stop-color="#21439c"/><stop offset="0.6094" stop-color="#20469f"/><stop offset="0.625" stop-color="#2048a0"/><stop offset="0.6406" stop-color="#2149a2"/><stop offset="0.6562" stop-color="#214ba3"/><stop offset="0.6719" stop-color="#2153a7"/><stop offset="0.6875" stop-color="#2463b3"/><stop offset="0.7031" stop-color="#256ab9"/><stop offset="0.7188" stop-color="#2672bf"/><stop offset="0.7344" stop-color="#277ac5"/><stop offset="0.75" stop-color="#277dc8"/><stop offset="0.7656" stop-color="#2781ca"/><stop offset="0.7812" stop-color="#2784cc"/><stop offset="0.7969" stop-color="#2999dc"/><stop offset="0.8125" stop-color="#33b5e4"/><stop offset="0.8281" stop-color="#4cbccb"/><stop offset="0.8438" stop-color="#55bdbe"/><stop offset="0.8594" stop-color="#5bbfb1"/><stop offset="0.875" stop-color="#5fc0a5"/><stop offset="0.8906" stop-color="#62c1a1"/><stop offset="0.9062" stop-color="#64c29d"/><stop offset="0.9219" stop-color="#68c397"/><stop offset="0.9375" stop-color="#71c58e"/><stop offset="0.9531" stop-color="#7ec781"/><stop offset="0.9688" stop-color="#91cc71"/><stop offset="0.9844" stop-color="#9fcf68"/><stop offset="1" stop-color="#a8d163"/></linearGradient>
<linearGradient id="e687" x1="0" y1="0" x2="0" y2="1"><stop offset="0" stop-color="#83c87c"/><stop offset="0.01562" stop-color="#83c87c"/><stop offset="0.03125" stop-color="#83c87c"/><stop offset="0.04688" stop-color="#83c87c"/><stop offset="0.0625" stop-color="#83c87c"/><stop offset="0.07812" stop-color="#83c87c"/><stop offset="0.09375" stop-color="#83c87c"/><stop offset="0.1094" stop-color="#80c77f"/><stop offset="0.125" stop-color="#7bc684"/><stop offset="0.1406" stop-color="#6ec491"/><stop offset="0.1562" stop-color="#62c1a0"/><stop offset="0.1719" stop-color="#5dbfab"/><stop offset="0.1875" stop-color="#59beb5"/><stop offset="0.2031" stop-color="#55bdbe"/><stop offset="0.2188" stop-color="#53bdc1"/><stop offset="0.2344" stop-color="#57bebb"/><stop offset="0.25" stop-color="#5bbfaf"/><stop offset="0.2656" stop-color="#5bbfb0"/><stop offset="0.2812" stop-color="#43bbd5"/><stop offset="0.2969" stop-color="#2674c1"/><stop offset="0.3125" stop-color="#2361b1"/><stop offset="0.3281" stop-color="#2256a9"/><stop offset="0.3438" stop-color="#214ea5"/><stop offset="0.3594" stop-color="#214ba3"/><stop offset="0.375" stop-color="#214aa2"/><stop offset="0.3906" stop-color="#214aa2"/><stop offset="0.4062" stop-color="#2048a1"/><stop offset="0.4219" stop-color="#21429b"/><stop offset="0.4375" stop-color="#263d93"/><stop offset="0.4531" stop-color="#283b8f"/><stop offset="0.4688" stop-color="#2a3a8c"/><stop offset="0.4844" stop-color="#2a3a8b"/><stop offset="0.5" stop-color="#2b3a8a"/><stop offset="0.5156" stop-color="#2a3a8b"/><stop offset="0.5312" stop-color="#2a3a8b"/><stop offset="0.5469" stop-color="#2a3a8b"/><stop offset="0.5625" stop-color="#2a3a8d"/><stop offset="0.5781" stop-color="#293b8d"/><stop offset="0.5938" stop-color="#22419b"/><stop offset="0.6094" stop-color="#20459e"/><stop offset="0.625" stop-color="#2047a0"/><stop offset="0.6406" stop-color="#2049a1"/><stop offset="0.6562" stop-color="#214ba3"/><stop offset="0.6719" stop-color="#2152a7"/><stop offset="0.6875" stop-color="#2361b1"/><stop offset="0.7031" stop-color="#2568b7"/><stop offset="0.7188" stop-color="#2670bd"/><stop offset="0.7344" stop-color="#2676c3"/><stop offset="0.75" stop-color="#2779c5"/><stop offset="0.7656" stop-color="#277cc7"/><stop offset="0.7812" stop-color="#277fc9"/><stop offset="0.7969" stop-color="#2991d6"/><stop offset="0.8125" stop-color="#2dafe8"/><stop offset="0.8281" stop-color="#43bbd5"/><stop offset="0.8438" stop-color="#50bdc5"/><stop offset="0.8594" stop-color="#58beb9"/><stop offset="0.875" stop-color="#5cbfae"/><stop offset="0.8906" stop-color="#5ec0a7"/><stop offset="0.9062" stop-color="#61c0a3"/><stop offset="0.9219" stop-color="#64c29d"/><stop offset="0.9375" stop-color="#6bc394"/><stop offset="0.9531" stop-color="#78c687"/><stop offset="0.9688" stop-color="#88c978"/><stop offset="0.9844" stop-color="#94cc70"/><stop offset="1" stop-color="#9bce6b"/></linearGradient>
<linearGradient id="e688" x1="0" y1="0" x2="0" y2="1"><stop offset="0" stop-color="#7cc783"/><stop offset="0.01562" stop-color="#7cc783"/><stop offset="0.03125" stop-color="#7cc783"/><stop offset="0.04688" stop-color="#7cc783"/><stop offset="0.0625" stop-color="#7cc783"/><stop offset="0.07812" stop-color="#7cc783"/><stop offset="0.09375" stop-color="#7cc783"/><stop offset="0.1094" stop-color="#7ac685"/><stop offset="0.125" stop-color="#74c58b"/><stop offset="0.1406" stop-color="#67c398"/><stop offset="0.1562" stop-color="#5ec0a7"/><stop offset="0.1719" stop-color="#5abfb4"/><stop offset="0.1875" stop-color="#55bebd"/><stop offset="0.2031" stop-color="#50bdc6"/><stop offset="0.2188" stop-color="#4ebcc8"/><stop offset="0.2344" stop-color="#52bdc3"/><stop offset="0.25" stop-color="#59beb7"/><stop offset="0.2656" stop-color="#58beb8"/><stop offset="0.2812" stop-color="#36b8e2"/><stop offset="0.2969" stop-color="#256fbd"/><stop offset="0.3125" stop-color="#235eaf"/><stop offset="0.3281" stop-color="#2254a8"/><stop offset="0.3438" stop-color="#214ca4"/><stop offset="0.3594" stop-color="#2149a2"/><stop offset="0.375" stop-color="#2049a1"/><stop offset="0.3906" stop-color="#2048a1"/><stop offset="0.4062" stop-color="#2047a0"/><stop offset="0.4219" stop-color="#22419a"/><stop offset="0.4375" stop-color="#273c91"/><stop offset="0.4531" stop-color="#293b8e"/><stop offset="0.4688" stop-color="#2a3a8b"/><stop offset="0.4844" stop-color="#2b3a8a"/><stop offset="0.5" stop-color="#2b3989"/><stop offset="0.5156" stop-color="#2b3989"/><stop offset="0.5312" stop-color="#2b3a8a"/><stop offset="0.5469" stop-color="#2b3a8a"/><stop offset="0.5625" stop-color="#293a8d"/><stop offset="0.5781" stop-color="#293b8e"/><stop offset="0.5938" stop-color="#22419a"/><stop offset="0.6094" stop-color="#20449e"/><stop offset="0.625" stop-color="#2046a0"/><stop offset="0.6406" stop-color="#2049a1"/><stop offset="0.6562" stop-color="#214ca3"/><stop offset="0.6719" stop-color="#2152a7"/><stop offset="0.6875" stop-color="#235fb0"/><stop offset="0.7031" stop-color="#2467b6"/><stop offset="0.7188" stop-color="#2670be"/><stop offset="0.7344" stop-color="#2677c3"/><stop offset="0.75" stop-color="#2679c4"/><stop offset="0.7656" stop-color="#277bc6"/><stop offset="0.7812" stop-color="#277ec8"/><stop offset="0.7969" stop-color="#288ed4"/><stop offset="0.8125" stop-color="#2ca9e5"/><stop offset="0.8281" stop-color="#3dbadb"/><stop offset="0.8438" stop-color="#4dbcca"/><stop offset="0.8594" stop-color="#54bdbe"/><stop offset="0.875" stop-color="#5abfb3"/><stop offset="0.8906" stop-color="#5cbfac"/><stop offset="0.9062" stop-color="#5fc0a6"/><stop offset="0.9219" stop-color="#62c1a0"/><stop offset="0.9375" stop-color="#69c397"/><stop offset="0.9531" stop-color="#74c58b"/><stop offset="0.9688" stop-color="#83c87c"/><stop offset="0.9844" stop-color="#8dca75"/><stop offset="1" stop-color="#92cc71"/></linearGradient>
<linearGradient id="e689" x1="0" y1="0" x2="0" y2="1"><stop offset="0" stop-color="#75c58a"/><stop offset="0.01562" stop-color="#75c58a"/><stop offset="0.03125" stop-color="#75c58a"/><stop offset="0.04688" stop-color="#75c58a"/><stop offset="0.0625" stop-color="#75c58a"/><stop offset="0.07812" stop-color="#75c58a"/><stop offset="0.09375" stop-color="#75c58a"/><stop offset="0.1094" stop-color="#74c58b"/><stop offset="0.125" stop-color="#6ec491"/><stop offset="0.1406" stop-color="#63c19f"/><stop offset="0.1562" stop-color="#5bbfaf"/><stop offset="0.1719" stop-color="#56bebc"/><stop offset="0.1875" stop-color="#50bdc5"/><stop offset="0.2031" stop-color="#4cbccc"/><stop offset="0.2188" stop-color="#49bccf"/><stop offset="0.2344" stop-color="#4dbcca"/><stop offset="0.25" stop-color="#54bdbf"/><stop offset="0.2656" stop-color="#53bdc0"/><stop offset="0.2812" stop-color="#2dafe8"/><stop offset="0.2969" stop-color="#256bba"/><stop offset="0.3125" stop-color="#235bad"/><stop offset="0.3281" stop-color="#2153a7"/><stop offset="0.3438" stop-color="#214ba3"/><stop offset="0.3594" stop-color="#2048a1"/><stop offset="0.375" stop-color="#2047a0"/><stop offset="0.3906" stop-color="#2047a0"/><stop offset="0.4062" stop-color="#20469f"/><stop offset="0.4219" stop-color="#234098"/><stop offset="0.4375" stop-color="#283b8f"/><stop offset="0.4531" stop-color="#2a3a8c"/><stop offset="0.4688" stop-color="#2b3a8a"/><stop offset="0.4844" stop-color="#2b3989"/><stop offset="0.5" stop-color="#2b3988"/><stop offset="0.5156" stop-color="#2b3988"/><stop offset="0.5312" stop-color="#2b3989"/><stop offset="0.5469" stop-color="#2b3989"/><stop offset="0.5625" stop-color="#293b8d"/><stop offset="0.5781" stop-color="#283b8f"/><stop offset="0.5938" stop-color="#224099"/><stop offset="0.6094" stop-color="#20449d"/><stop offset="0.625" stop-color="#2046a0"/><stop offset="0.6406" stop-color="#214aa2"/><stop offset="0.6562" stop-color="#214da4"/><stop offset="0.6719" stop-color="#2153a7"/><stop offset="0.6875" stop-color="#235fb0"/><stop offset="0.7031" stop-color="#2467b6"/><stop offset="0.7188" stop-color="#2672bf"/><stop offset="0.7344" stop-color="#277ac5"/><stop offset="0.75" stop-color="#277cc6"/><stop offset="0.7656" stop-color="#277dc7"/><stop offset="0.7812" stop-color="#277fc9"/><stop offset="0.7969" stop-color="#288fd4"/><stop offset="0.8125" stop-color="#2ca8e5"/><stop offset="0.8281" stop-color="#3ab9de"/><stop offset="0.8438" stop-color="#4bbccc"/><stop offset="0.8594" stop-color="#53bdc1"/><stop offset="0.875" stop-color="#59beb7"/><stop offset="0.8906" stop-color="#5cbfaf"/><stop offset="0.9062" stop-color="#5ec0a7"/><stop offset="0.9219" stop-color="#62c1a0"/><stop offset="0.9375" stop-color="#68c397"/><stop offset="0.9531" stop-color="#73c58c"/><stop offset="0.9688" stop-color="#81c77e"/><stop offset="0.9844" stop-color="#88c978"/><stop offset="1" stop-color="#8ecb74"/></linearGradient>
<linearGradient id="e690" x1="0" y1="0" x2="0" y2="1"><stop offset="0" stop-color="#70c48f"/><stop offset="0.01562" stop-color="#70c48f"/><stop offset="0.03125" stop-color="#70c48f"/><stop offset="0.04688" stop-color="#70c48f"/><stop offset="0.0625" stop-color="#70c48f"/><stop offset="0.07812" stop-color="#70c48f"/><stop offset="0.09375" stop-color="#70c48f"/><stop offset="0.1094" stop-color="#6fc490"/><stop offset="0.125" stop-color="#69c396"/><stop offset="0.1406" stop-color="#60c0a4"/><stop offset="0.1562" stop-color="#59beb6"/><stop offset="0.1719" stop-color="#52bdc2"/><stop offset="0.1875" stop-color="#4dbccb"/><stop offset="0.2031" stop-color="#45bbd3"/><stop offset="0.2188" stop-color="#41bbd7"/><stop offset="0.2344" stop-color="#48bbd0"/><stop offset="0.25" stop-color="#50bdc5"/><stop offset="0.2656" stop-color="#4fbdc7"/><stop offset="0.2812" stop-color="#2ba3e3"/><stop offset="0.2969" stop-color="#2468b7"/><stop offset="0.3125" stop-color="#2259ab"/><stop offset="0.3281" stop-color="#2151a7"/><stop offset="0.3438" stop-color="#2149a2"/><stop offset="0.3594" stop-color="#2047a0"/><stop offset="0.375" stop-color="#2046a0"/><stop offset="0.3906" stop-color="#20469f"/><stop offset="0.4062" stop-color="#20459e"/><stop offset="0.4219" stop-color="#233f97"/><stop offset="0.4375" stop-color="#293b8e"/><stop offset="0.4531" stop-color="#2a3a8b"/><stop offset="0.4688" stop-color="#2b3989"/><stop offset="0.4844" stop-color="#2b3988"/><stop offset="0.5" stop-color="#2c3987"/><stop offset="0.5156" stop-color="#2b3988"/><stop offset="0.5312" stop-color="#2b3988"/><stop offset="0.5469" stop-color="#2b3988"/><stop offset="0.5625" stop-color="#293b8e"/><stop offset="0.5781" stop-color="#273c91"/><stop offset="0.5938" stop-color="#224099"/><stop offset="0.6094" stop-color="#20439d"/><stop offset="0.625" stop-color="#2047a0"/><stop offset="0.6406" stop-color="#214ba3"/><stop offset="0.6562" stop-color="#214ea5"/><stop offset="0.6719" stop-color="#2254a8"/><stop offset="0.6875" stop-color="#235fb0"/><stop offset="0.7031" stop-color="#2468b7"/><stop offset="0.7188" stop-color="#2676c2"/><stop offset="0.7344" stop-color="#277fc9"/><stop offset="0.75" stop-color="#2780c9"/><stop offset="0.7656" stop-color="#2781ca"/><stop offset="0.7812" stop-color="#2783cb"/><stop offset="0.7969" stop-color="#2992d7"/><stop offset="0.8125" stop-color="#2caae6"/><stop offset="0.8281" stop-color="#3abade"/><stop offset="0.8438" stop-color="#4bbccd"/><stop offset="0.8594" stop-color="#52bdc2"/><stop offset="0.875" stop-color="#58beb8"/><stop offset="0.8906" stop-color="#5cbfaf"/><stop offset="0.9062" stop-color="#5fc0a6"/><stop offset="0.9219" stop-color="#63c19f"/><stop offset="0.9375" stop-color="#69c396"/><stop offset="0.9531" stop-color="#74c58b"/><stop offset="0.9688" stop-color="#80c77f"/><stop offset="0.9844" stop-color="#86c879"/><stop offset="1" stop-color="#8bca76"/></linearGradient>
<linearGradient id="e691" x1="0" y1="0" x2="0" y2="1"><stop offset="0" stop-color="#6bc394"/><stop offset="0.01562" stop-color="#6bc394"/><stop offset="0.03125" stop-color="#6bc394"/><stop offset="0.04688" stop-color="#6bc394"/><stop offset="0.0625" stop-color="#6bc394"/><stop offset="0.07812" stop-color="#6bc394"/><stop offset="0.09375" stop-color="#6bc394"/><stop offset="0.1094" stop-color="#6bc394"/><stop offset="0.125" stop-color="#66c29a"/><stop offset="0.1406" stop-color="#5ec0a9"/><stop offset="0.1562" stop-color="#56bebc"/><stop offset="0.1719" stop-color="#4ebdc8"/><stop offset="0.1875" stop-color="#47bbd1"/><stop offset="0.2031" stop-color="#3fbad9"/><stop offset="0.2188" stop-color="#3bbadd"/><stop offset="0.2344" stop-color="#41bad7"/><stop offset="0.25" stop-color="#4dbcca"/><stop offset="0.2656" stop-color="#4bbccc"/><stop offset="0.2812" stop-color="#299add"/><stop offset="0.2969" stop-color="#2465b5"/><stop offset="0.3125" stop-color="#2257a9"/><stop offset="0.3281" stop-color="#2151a6"/><stop offset="0.3438" stop-color="#2048a1"/><stop offset="0.3594" stop-color="#20469f"/><stop offset="0.375" stop-color="#20459f"/><stop offset="0.3906" stop-color="#20459e"/><stop offset="0.4062" stop-color="#20449d"/><stop offset="0.4219" stop-color="#243e97"/><stop offset="0.4375" stop-color="#293a8d"/><stop offset="0.4531" stop-color="#2b3a8a"/><stop offset="0.4688" stop-color="#2b3988"/><stop offset="0.4844" stop-color="#2c3987"/><stop offset="0.5" stop-color="#2c3987"/><stop offset="0.5156" stop-color="#2c3987"/><stop offset="0.5312" stop-color="#2c3987"/><stop offset="0.5469" stop-color="#2c3987"/><stop offset="0.5625" stop-color="#283b8f"/><stop offset="0.5781" stop-color="#263d92"/><stop offset="0.5938" stop-color="#224099"/><stop offset="0.6094" stop-color="#20449d"/><stop offset="0.625" stop-color="#2047a0"/><stop offset="0.6406" stop-color="#214ca4"/><stop offset="0.6562" stop-color="#2150a6"/><stop offset="0.6719" stop-color="#2255a8"/><stop offset="0.6875" stop-color="#235fb0"/><stop offset="0.7031" stop-color="#2569b8"/><stop offset="0.7188" stop-color="#277bc6"/><stop offset="0.7344" stop-color="#2785cd"/><stop offset="0.75" stop-color="#2786cd"/><stop offset="0.7656" stop-color="#2886ce"/><stop offset="0.7812" stop-color="#2887cf"/><stop offset="0.7969" stop-color="#2997da"/><stop offset="0.8125" stop-color="#2daee8"/><stop offset="0.8281" stop-color="#3cbadc"/><stop offset="0.8438" stop-color="#4cbccc"/><stop offset="0.8594" stop-color="#52bdc2"/><stop offset="0.875" stop-color="#58beb8"/><stop offset="0.8906" stop-color="#5cbfae"/><stop offset="0.9062" stop-color="#60c0a4"/><stop offset="0.9219" stop-color="#65c29c"/><stop offset="0.9375" stop-color="#6cc493"/><stop offset="0.9531" stop-color="#77c688"/><stop offset="0.9688" stop-color="#81c77e"/><stop offset="0.9844" stop-color="#86c879"/><stop offset="1" stop-color="#8ac977"/></linearGradient>
<linearGradient id="e692" x1="0" y1="0" x2="0" y2="1"><stop offset="0" stop-color="#68c397"/><stop offset="0.01562" stop-color="#68c397"/><stop offset="0.03125" stop-color="#68c397"/><stop offset="0.04688" stop-color="#68c397"/><stop offset="0.0625" stop-color="#68c397"/><stop offset="0.07812" stop-color="#68c397"/><stop offset="0.09375" stop-color="#68c397"/><stop offset="0.1094" stop-color="#68c397"/><stop offset="0.125" stop-color="#64c29d"/><stop offset="0.1406" stop-color="#5cbfad"/><stop offset="0.1562" stop-color="#54bdc0"/><stop offset="0.1719" stop-color="#4cbccc"/><stop offset="0.1875" stop-color="#42bbd6"/><stop offset="0.2031" stop-color="#3abade"/><stop offset="0.2188" stop-color="#37b9e1"/><stop offset="0.2344" stop-color="#3cbadc"/><stop offset="0.25" stop-color="#4bbccd"/><stop offset="0.2656" stop-color="#46bbd2"/><stop offset="0.2812" stop-color="#2993d8"/><stop offset="0.2969" stop-color="#2463b3"/><stop offset="0.3125" stop-color="#2256a9"/><stop offset="0.3281" stop-color="#2150a6"/><stop offset="0.3438" stop-color="#2048a1"/><stop offset="0.3594" stop-color="#20459f"/><stop offset="0.375" stop-color="#20459e"/><stop offset="0.3906" stop-color="#20449e"/><stop offset="0.4062" stop-color="#21439c"/><stop offset="0.4219" stop-color="#243e96"/><stop offset="0.4375" stop-color="#2a3a8c"/><stop offset="0.4531" stop-color="#2b3a8a"/><stop offset="0.4688" stop-color="#2c3987"/><stop offset="0.4844" stop-color="#2c3987"/><stop offset="0.5" stop-color="#2c3986"/><stop offset="0.5156" stop-color="#2c3986"/><stop offset="0.5312" stop-color="#2c3986"/><stop offset="0.5469" stop-color="#2c3986"/><stop offset="0.5625" stop-color="#273c90"/><stop offset="0.5781" stop-color="#253d94"/><stop offset="0.5938" stop-color="#224099"/><stop offset="0.6094" stop-color="#20449e"/><stop offset="0.625" stop-color="#2048a0"/><stop offset="0.6406" stop-color="#214da4"/><stop offset="0.6562" stop-color="#2151a7"/><stop offset="0.6719" stop-color="#2256a9"/><stop offset="0.6875" stop-color="#235fb0"/><stop offset="0.7031" stop-color="#256ab9"/><stop offset="0.7188" stop-color="#2781ca"/><stop offset="0.7344" stop-color="#288bd1"/><stop offset="0.75" stop-color="#288bd1"/><stop offset="0.7656" stop-color="#288cd2"/><stop offset="0.7812" stop-color="#288cd2"/><stop offset="0.7969" stop-color="#2a9cde"/><stop offset="0.8125" stop-color="#2fb1e6"/><stop offset="0.8281" stop-color="#3fbad9"/><stop offset="0.8438" stop-color="#4dbccb"/><stop offset="0.8594" stop-color="#53bdc1"/><stop offset="0.875" stop-color="#59beb7"/><stop offset="0.8906" stop-color="#5dbfac"/><stop offset="0.9062" stop-color="#61c1a2"/><stop offset="0.9219" stop-color="#67c299"/><stop offset="0.9375" stop-color="#6fc490"/><stop offset="0.9531" stop-color="#7ac685"/><stop offset="0.9688" stop-color="#82c87d"/><stop offset="0.9844" stop-color="#87c978"/><stop offset="1" stop-color="#8aca76"/></linearGradient>
<linearGradient id="e693" x1="0" y1="0" x2="0" y2="1"><stop offset="0" stop-color="#67c299"/><stop offset="0.01562" stop-color="#67c299"/><stop offset="0.03125" stop-color="#67c299"/><stop offset="0.04688" stop-color="#67c299"/><stop offset="0.0625" stop-color="#67c299"/><stop offset="0.07812" stop-color="#67c299"/><stop offset="0.09375" stop-color="#67c299"/><stop offset="0.1094" stop-color="#67c299"/><stop offset="0.125" stop-color="#63c19f"/><stop offset="0.1406" stop-color="#5bbfb0"/><stop offset="0.1562" stop-color="#52bdc2"/><stop offset="0.1719" stop-color="#4abcce"/><stop offset="0.1875" stop-color="#3fbad9"/><stop offset="0.2031" stop-color="#38b9e0"/><stop offset="0.2188" stop-color="#36b8e2"/><stop offset="0.2344" stop-color="#39b9df"/><stop offset="0.25" stop-color="#48bcd0"/><stop offset="0.2656" stop-color="#43bbd5"/><stop offset="0.2812" stop-color="#288fd5"/><stop offset="0.2969" stop-color="#2462b2"/><stop offset="0.3125" stop-color="#2255a9"/><stop offset="0.3281" stop-color="#2150a6"/><stop offset="0.3438" stop-color="#2047a0"/><stop offset="0.3594" stop-color="#20459f"/><stop offset="0.375" stop-color="#20449e"/><stop offset="0.3906" stop-color="#20449d"/><stop offset="0.4062" stop-color="#21429c"/><stop offset="0.4219" stop-color="#243e96"/><stop offset="0.4375" stop-color="#2a3a8c"/><stop offset="0.4531" stop-color="#2b3a8a"/><stop offset="0.4688" stop-color="#2c3987"/><stop offset="0.4844" stop-color="#2c3987"/><stop offset="0.5" stop-color="#2c3986"/><stop offset="0.5156" stop-color="#2c3986"/><stop offset="0.5312" stop-color="#2c3986"/><stop offset="0.5469" stop-color="#2c3986"/><stop offset="0.5625" stop-color="#273c91"/><stop offset="0.5781" stop-color="#253e95"/><stop offset="0.5938" stop-color="#224199"/><stop offset="0.6094" stop-color="#20449e"/><stop offset="0.625" stop-color="#2048a1"/><stop offset="0.6406" stop-color="#214ea5"/><stop offset="0.6562" stop-color="#2153a7"/><stop offset="0.6719" stop-color="#2257a9"/><stop offset="0.6875" stop-color="#2360b1"/><stop offset="0.7031" stop-color="#256bba"/><stop offset="0.7188" stop-color="#2785cd"/><stop offset="0.7344" stop-color="#2891d6"/><stop offset="0.75" stop-color="#2991d6"/><stop offset="0.7656" stop-color="#2991d6"/><stop offset="0.7812" stop-color="#2992d6"/><stop offset="0.7969" stop-color="#2aa1e2"/><stop offset="0.8125" stop-color="#32b4e4"/><stop offset="0.8281" stop-color="#43bbd5"/><stop offset="0.8438" stop-color="#4ebcc9"/><stop offset="0.8594" stop-color="#54bdc0"/><stop offset="0.875" stop-color="#59beb5"/><stop offset="0.8906" stop-color="#5dc0a9"/><stop offset="0.9062" stop-color="#63c19f"/><stop offset="0.9219" stop-color="#69c396"/><stop offset="0.9375" stop-color="#72c58d"/><stop offset="0.9531" stop-color="#7cc783"/><stop offset="0.9688" stop-color="#84c87b"/><stop offset="0.9844" stop-color="#89c977"/><stop offset="1" stop-color="#8bca76"/></linearGradient>
<linearGradient id="e694" x1="0" y1="0" x2="0" y2="1"><stop offset="0" stop-color="#67c299"/><stop offset="0.01562" stop-color="#67c299"/><stop offset="0.03125" stop-color="#67c299"/><stop offset="0.04688" stop-color="#67c299"/><stop offset="0.0625" stop-color="#67c299"/><stop offset="0.07812" stop-color="#67c299"/><stop offset="0.09375" stop-color="#67c299"/><stop offset="0.1094" stop-color="#67c299"/><stop offset="0.125" stop-color="#63c19f"/><stop offset="0.1406" stop-color="#5bbfb0"/><stop offset="0.1562" stop-color="#52bdc3"/><stop offset="0.1719" stop-color="#49bccf"/><stop offset="0.1875" stop-color="#3fbad9"/><stop offset="0.2031" stop-color="#38b9e0"/><stop offset="0.2188" stop-color="#36b8e2"/><stop offset="0.2344" stop-color="#39b9df"/><stop offset="0.25" stop-color="#47bbd1"/><stop offset="0.2656" stop-color="#42bbd6"/><stop offset="0.2812" stop-color="#288ed3"/><stop offset="0.2969" stop-color="#2461b2"/><stop offset="0.3125" stop-color="#2255a8"/><stop offset="0.3281" stop-color="#2150a6"/><stop offset="0.3438" stop-color="#2047a0"/><stop offset="0.3594" stop-color="#20459f"/><stop offset="0.375" stop-color="#20449e"/><stop offset="0.3906" stop-color="#20439d"/><stop offset="0.4062" stop-color="#21429c"/><stop offset="0.4219" stop-color="#243e96"/><stop offset="0.4375" stop-color="#2a3a8c"/><stop offset="0.4531" stop-color="#2b3989"/><stop offset="0.4688" stop-color="#2c3987"/><stop offset="0.4844" stop-color="#2c3986"/><stop offset="0.5" stop-color="#2c3986"/><stop offset="0.5156" stop-color="#2c3986"/><stop offset="0.5312" stop-color="#2c3986"/><stop offset="0.5469" stop-color="#2c3986"/><stop offset="0.5625" stop-color="#273c92"/><stop offset="0.5781" stop-color="#243e96"/><stop offset="0.5938" stop-color="#22419a"/><stop offset="0.6094" stop-color="#20449e"/><stop offset="0.625" stop-color="#2048a1"/><stop offset="0.6406" stop-color="#214fa5"/><stop offset="0.6562" stop-color="#2254a8"/><stop offset="0.6719" stop-color="#2258aa"/><stop offset="0.6875" stop-color="#2360b1"/><stop offset="0.7031" stop-color="#256dbb"/><stop offset="0.7188" stop-color="#2889d0"/><stop offset="0.7344" stop-color="#2996d9"/><stop offset="0.75" stop-color="#2996d9"/><stop offset="0.7656" stop-color="#2996d9"/><stop offset="0.7812" stop-color="#2996d9"/><stop offset="0.7969" stop-color="#2ba6e4"/><stop offset="0.8125" stop-color="#35b7e3"/><stop offset="0.8281" stop-color="#46bbd2"/><stop offset="0.8438" stop-color="#4fbdc7"/><stop offset="0.8594" stop-color="#55bebe"/><stop offset="0.875" stop-color="#5abfb4"/><stop offset="0.8906" stop-color="#5ec0a7"/><stop offset="0.9062" stop-color="#64c29d"/><stop offset="0.9219" stop-color="#6bc394"/><stop offset="0.9375" stop-color="#75c58a"/><stop offset="0.9531" stop-color="#7ec781"/><stop offset="0.9688" stop-color="#86c879"/><stop offset="0.9844" stop-color="#8bca76"/><stop offset="1" stop-color="#8dca74"/></linearGradient>
<linearGradient id="e695" x1="0" y1="0" x2="0" y2="1"><stop offset="0" stop-color="#67c299"/><stop offset="0.01562" stop-color="#67c299"/><stop offset="0.03125" stop-color="#67c299"/><stop offset="0.04688" stop-color="#67c299"/><stop offset="0.0625" stop-color="#67c299"/><stop offset="0.07812" stop-color="#67c299"/><stop offset="0.09375" stop-color="#67c299"/><stop offset="0.1094" stop-color="#67c299"/><stop offset="0.125" stop-color="#63c19f"/><stop offset="0.1406" stop-color="#5bbfb0"/><stop offset="0.1562" stop-color="#52bdc2"/><stop offset="0.1719" stop-color="#49bccf"/><stop offset="0.1875" stop-color="#3fbad9"/><stop offset="0.2031" stop-color="#38b9e0"/><stop offset="0.2188" stop-color="#36b8e2"/><stop offset="0.2344" stop-color="#39b9df"/><stop offset="0.25" stop-color="#48bcd0"/><stop offset="0.2656" stop-color="#42bbd6"/><stop offset="0.2812" stop-color="#288ed4"/><stop offset="0.2969" stop-color="#2461b2"/><stop offset="0.3125" stop-color="#2255a8"/><stop offset="0.3281" stop-color="#2150a6"/><stop offset="0.3438" stop-color="#2047a0"/><stop offset="0.3594" stop-color="#20459f"/><stop offset="0.375" stop-color="#20449e"/><stop offset="0.3906" stop-color="#20439d"/><stop offset="0.4062" stop-color="#21429c"/><stop offset="0.4219" stop-color="#243e96"/><stop offset="0.4375" stop-color="#2a3a8c"/><stop offset="0.4531" stop-color="#2b3a8a"/><stop offset="0.4688" stop-color="#2c3987"/><stop offset="0.4844" stop-color="#2c3986"/><stop offset="0.5" stop-color="#2c3986"/><stop offset="0.5156" stop-color="#2c3986"/><stop offset="0.5312" stop-color="#2c3986"/><stop offset="0.5469" stop-color="#2c3986"/><stop offset="0.5625" stop-color="#263c92"/><stop offset="0.5781" stop-color="#243e96"/><stop offset="0.5938" stop-color="#22419a"/><stop offset="0.6094" stop-color="#20449e"/><stop offset="0.625" stop-color="#2048a1"/><stop offset="0.6406" stop-color="#214fa5"/><stop offset="0.6562" stop-color="#2254a8"/><stop offset="0.6719" stop-color="#2258aa"/><stop offset="0.6875" stop-color="#2361b1"/><stop offset="0.7031" stop-color="#256dbb"/><stop offset="0.7188" stop-color="#288ad1"/><stop offset="0.7344" stop-color="#2997da"/><stop offset="0.75" stop-color="#2997da"/><stop offset="0.7656" stop-color="#2997da"/><stop offset="0.7812" stop-color="#2997da"/><stop offset="0.7969" stop-color="#2ba7e4"/><stop offset="0.8125" stop-color="#35b7e2"/><stop offset="0.8281" stop-color="#47bbd1"/><stop offset="0.8438" stop-color="#50bdc6"/><stop offset="0.8594" stop-color="#55bebd"/><stop offset="0.875" stop-color="#5abfb3"/><stop offset="0.8906" stop-color="#5fc0a6"/><stop offset="0.9062" stop-color="#65c29d"/><stop offset="0.9219" stop-color="#6cc493"/><stop offset="0.9375" stop-color="#76c689"/><stop offset="0.9531" stop-color="#7fc780"/><stop offset="0.9688" stop-color="#87c979"/><stop offset="0.9844" stop-color="#8bca76"/><stop offset="1" stop-color="#8ecb74"/></linearGradient>
<linearGradient id="cb" x1="0" y1="1" x2="0" y2="0"><stop offset="0" stop-color="#31346c"/><stop offset="0.033" stop-color="#2f377d"/><stop offset="0.065" stop-color="#2a3a8c"/><stop offset="0.083" stop-color="#243e96"/><stop offset="0.1" stop-color="#20449e"/><stop offset="0.133" stop-color="#214ea5"/><stop offset="0.167" stop-color="#2258aa"/><stop offset="0.2" stop-color="#2464b4"/><stop offset="0.235" stop-color="#2673c0"/><stop offset="0.267" stop-color="#288cd2"/><stop offset="0.287" stop-color="#2aa0e1"/><stop offset="0.3" stop-color="#2dafe8"/><stop offset="0.315" stop-color="#37b9e1"/><stop offset="0.336" stop-color="#4bbccd"/><stop offset="0.369" stop-color="#58beb9"/><stop offset="0.403" stop-color="#5fc0a5"/><stop offset="0.437" stop-color="#69c396"/><stop offset="0.471" stop-color="#78c687"/><stop offset="0.503" stop-color="#85c87a"/><stop offset="0.536" stop-color="#96cd6e"/><stop offset="0.57" stop-color="#acd261"/><stop offset="0.604" stop-color="#c8dc54"/><stop offset="0.635" stop-color="#e4e446"/><stop offset="0.65" stop-color="#eee63e"/><stop offset="0.671" stop-color="#f3d43a"/><stop offset="0.69" stop-color="#f5be35"/><stop offset="0.706" stop-color="#f6aa32"/><stop offset="0.738" stop-color="#f59130"/><stop offset="0.762" stop-color="#f37a2d"/><stop offset="0.806" stop-color="#f05a2a"/><stop offset="0.839" stop-color="#ec3728"/><stop offset="0.86" stop-color="#eb2a28"/><stop offset="0.874" stop-color="#de282c"/><stop offset="0.906" stop-color="#b92832"/><stop offset="0.94" stop-color="#962630"/><stop offset="0.974" stop-color="#7a1e24"/><stop offset="1" stop-color="#64191c"/></linearGradient>
<radialGradient id="halo"><stop offset="0" stop-color="#215cb4"/><stop offset="0.56" stop-color="#215cb4"/><stop offset="0.62" stop-color="#215cb4" stop-opacity="0.93"/><stop offset="0.7" stop-color="#215cb4" stop-opacity="0.74"/><stop offset="0.8" stop-color="#215cb4" stop-opacity="0.47"/><stop offset="0.9" stop-color="#215cb4" stop-opacity="0.2"/><stop offset="0.96" stop-color="#215cb4" stop-opacity="0.06"/><stop offset="1" stop-color="#215cb4" stop-opacity="0"/></radialGradient>
<radialGradient id="halo2"><stop offset="0" stop-color="#215cb4" stop-opacity="0.88"/><stop offset="0.4" stop-color="#215cb4" stop-opacity="0.86"/><stop offset="0.55" stop-color="#215cb4" stop-opacity="0.76"/><stop offset="0.68" stop-color="#215cb4" stop-opacity="0.58"/><stop offset="0.8" stop-color="#215cb4" stop-opacity="0.35"/><stop offset="0.9" stop-color="#215cb4" stop-opacity="0.15"/><stop offset="0.96" stop-color="#215cb4" stop-opacity="0.04"/><stop offset="1" stop-color="#215cb4" stop-opacity="0"/></radialGradient>
<filter id="bl" x="-20%" y="-50%" width="140%" height="200%"><feGaussianBlur stdDeviation="6"/></filter>
<radialGradient id="red"><stop offset="0" stop-color="#f05e2a"/><stop offset="0.025" stop-color="#f05b2a"/><stop offset="0.05" stop-color="#f0582a"/><stop offset="0.075" stop-color="#ef4d29"/><stop offset="0.1" stop-color="#ed3c28"/><stop offset="0.125" stop-color="#eb3028"/><stop offset="0.15" stop-color="#d9282d"/><stop offset="0.175" stop-color="#b92832"/><stop offset="0.2" stop-color="#9f2731"/><stop offset="0.225" stop-color="#8b232b"/><stop offset="0.25" stop-color="#791e24"/><stop offset="0.275" stop-color="#721c21"/><stop offset="0.3" stop-color="#6e1b20"/><stop offset="0.325" stop-color="#751d22"/><stop offset="0.35" stop-color="#7c1f25"/><stop offset="0.375" stop-color="#8d232c"/><stop offset="0.4" stop-color="#a32731"/><stop offset="0.425" stop-color="#bc2832"/><stop offset="0.45" stop-color="#d9282d"/><stop offset="0.475" stop-color="#ec3328"/><stop offset="0.5" stop-color="#f0562a"/><stop offset="0.525" stop-color="#f3752d"/><stop offset="0.55" stop-color="#f59330"/><stop offset="0.575" stop-color="#f6a932"/><stop offset="0.6" stop-color="#f4ce39"/><stop offset="0.625" stop-color="#d9e14c"/><stop offset="0.65" stop-color="#99ce6c"/><stop offset="0.675" stop-color="#7ac685"/><stop offset="0.7" stop-color="#5fc0a5"/><stop offset="0.725" stop-color="#4fbdc8"/><stop offset="0.75" stop-color="#31b3e5"/><stop offset="0.775" stop-color="#2caae6"/><stop offset="0.8" stop-color="#2999dc"/><stop offset="0.825" stop-color="#2888cf" stop-opacity="0.933"/><stop offset="0.85" stop-color="#2677c3" stop-opacity="0.8"/><stop offset="0.875" stop-color="#256dbb" stop-opacity="0.667"/><stop offset="0.9" stop-color="#2466b6" stop-opacity="0.533"/><stop offset="0.925" stop-color="#2462b2" stop-opacity="0.4"/><stop offset="0.95" stop-color="#2360b1" stop-opacity="0.267"/><stop offset="0.975" stop-color="#235eaf" stop-opacity="0.133"/><stop offset="1" stop-color="#235dae" stop-opacity="0"/></radialGradient>
<radialGradient id="grn"><stop offset="0" stop-color="#59beb5"/><stop offset="0.025" stop-color="#5abfb3"/><stop offset="0.05" stop-color="#5bbfb1"/><stop offset="0.075" stop-color="#5cbfaf"/><stop offset="0.1" stop-color="#5dbfab"/><stop offset="0.125" stop-color="#62c1a1"/><stop offset="0.15" stop-color="#67c299"/><stop offset="0.175" stop-color="#6ec491"/><stop offset="0.2" stop-color="#76c689"/><stop offset="0.225" stop-color="#7ec781"/><stop offset="0.25" stop-color="#85c87a"/><stop offset="0.275" stop-color="#8fcb73"/><stop offset="0.3" stop-color="#93cc70"/><stop offset="0.325" stop-color="#94cd6f"/><stop offset="0.35" stop-color="#95cd6f"/><stop offset="0.375" stop-color="#92cc71"/><stop offset="0.4" stop-color="#8ecb74"/><stop offset="0.425" stop-color="#89c977"/><stop offset="0.45" stop-color="#81c77e"/><stop offset="0.475" stop-color="#78c687"/><stop offset="0.5" stop-color="#6fc490"/><stop offset="0.525" stop-color="#64c29d"/><stop offset="0.55" stop-color="#5dbfab"/><stop offset="0.575" stop-color="#57bebb"/><stop offset="0.6" stop-color="#4dbccb"/><stop offset="0.625" stop-color="#3ebada"/><stop offset="0.65" stop-color="#32b4e4"/><stop offset="0.675" stop-color="#2daee8"/><stop offset="0.7" stop-color="#2aa1e1"/><stop offset="0.725" stop-color="#288fd5" stop-opacity="0.963"/><stop offset="0.75" stop-color="#277ec8" stop-opacity="0.875"/><stop offset="0.775" stop-color="#2670be" stop-opacity="0.788"/><stop offset="0.8" stop-color="#256ab9" stop-opacity="0.7"/><stop offset="0.825" stop-color="#2465b5" stop-opacity="0.613"/><stop offset="0.85" stop-color="#2462b2" stop-opacity="0.525"/><stop offset="0.875" stop-color="#2361b1" stop-opacity="0.438"/><stop offset="0.9" stop-color="#2360b1" stop-opacity="0.35"/><stop offset="0.925" stop-color="#235fb0" stop-opacity="0.262"/><stop offset="0.95" stop-color="#235eaf" stop-opacity="0.175"/><stop offset="0.975" stop-color="#235eaf" stop-opacity="0.0875"/><stop offset="1" stop-color="#235dae" stop-opacity="0"/></radialGradient>
<radialGradient id="sml"><stop offset="0" stop-color="#78c687"/><stop offset="0.025" stop-color="#76c689"/><stop offset="0.05" stop-color="#75c58a"/><stop offset="0.075" stop-color="#74c58b"/><stop offset="0.1" stop-color="#72c58d"/><stop offset="0.125" stop-color="#71c58e"/><stop offset="0.15" stop-color="#70c48f"/><stop offset="0.175" stop-color="#6dc492"/><stop offset="0.2" stop-color="#69c396"/><stop offset="0.225" stop-color="#66c29b"/><stop offset="0.25" stop-color="#63c1a0"/><stop offset="0.275" stop-color="#60c0a4"/><stop offset="0.3" stop-color="#5dc0aa"/><stop offset="0.325" stop-color="#5bbfb1"/><stop offset="0.35" stop-color="#58beb9"/><stop offset="0.375" stop-color="#53bdc1"/><stop offset="0.4" stop-color="#4dbcc9"/><stop offset="0.425" stop-color="#45bbd3"/><stop offset="0.45" stop-color="#3ebada"/><stop offset="0.475" stop-color="#38b9e0"/><stop offset="0.5" stop-color="#33b5e4"/><stop offset="0.525" stop-color="#2fb1e7"/><stop offset="0.55" stop-color="#2dade7"/><stop offset="0.575" stop-color="#2caae5"/><stop offset="0.6" stop-color="#2ba6e4"/><stop offset="0.625" stop-color="#2ba3e2"/><stop offset="0.65" stop-color="#2aa0e1"/><stop offset="0.675" stop-color="#2a9bde" stop-opacity="0.975"/><stop offset="0.7" stop-color="#2993d8" stop-opacity="0.9"/><stop offset="0.725" stop-color="#288cd2" stop-opacity="0.825"/><stop offset="0.75" stop-color="#2786cd" stop-opacity="0.75"/><stop offset="0.775" stop-color="#277fc9" stop-opacity="0.675"/><stop offset="0.8" stop-color="#2678c4" stop-opacity="0.6"/><stop offset="0.825" stop-color="#2672bf" stop-opacity="0.525"/><stop offset="0.85" stop-color="#256ebc" stop-opacity="0.45"/><stop offset="0.875" stop-color="#256ab9" stop-opacity="0.375"/><stop offset="0.9" stop-color="#2467b6" stop-opacity="0.3"/><stop offset="0.925" stop-color="#2464b4" stop-opacity="0.225"/><stop offset="0.95" stop-color="#2462b2" stop-opacity="0.15"/><stop offset="0.975" stop-color="#235fb0" stop-opacity="0.075"/><stop offset="1" stop-color="#235dae" stop-opacity="0"/></radialGradient>
<radialGradient id="tail"><stop offset="0" stop-color="#2dafe8"/><stop offset="0.5" stop-color="#2ba3e3" stop-opacity="0.8"/><stop offset="0.8" stop-color="#2887ce" stop-opacity="0.35"/><stop offset="1" stop-color="#256dbb" stop-opacity="0"/></radialGradient>
<radialGradient id="fnt"><stop offset="0" stop-color="#256fbd"/><stop offset="0.025" stop-color="#256ebc"/><stop offset="0.05" stop-color="#256ebc"/><stop offset="0.075" stop-color="#256ebc"/><stop offset="0.1" stop-color="#256dbb"/><stop offset="0.125" stop-color="#256dbb"/><stop offset="0.15" stop-color="#256dbb"/><stop offset="0.175" stop-color="#256cbb"/><stop offset="0.2" stop-color="#256cba"/><stop offset="0.225" stop-color="#256cba"/><stop offset="0.25" stop-color="#256bba"/><stop offset="0.275" stop-color="#256bba" stop-opacity="0.967"/><stop offset="0.3" stop-color="#256bb9" stop-opacity="0.933"/><stop offset="0.325" stop-color="#256ab9" stop-opacity="0.9"/><stop offset="0.35" stop-color="#2569b8" stop-opacity="0.867"/><stop offset="0.375" stop-color="#2568b7" stop-opacity="0.833"/><stop offset="0.4" stop-color="#2467b7" stop-opacity="0.8"/><stop offset="0.425" stop-color="#2467b6" stop-opacity="0.767"/><stop offset="0.45" stop-color="#2466b5" stop-opacity="0.733"/><stop offset="0.475" stop-color="#2465b5" stop-opacity="0.7"/><stop offset="0.5" stop-color="#2464b4" stop-opacity="0.667"/><stop offset="0.525" stop-color="#2463b3" stop-opacity="0.633"/><stop offset="0.55" stop-color="#2463b3" stop-opacity="0.6"/><stop offset="0.575" stop-color="#2462b2" stop-opacity="0.567"/><stop offset="0.6" stop-color="#2461b2" stop-opacity="0.533"/><stop offset="0.625" stop-color="#2360b1" stop-opacity="0.5"/><stop offset="0.65" stop-color="#2360b0" stop-opacity="0.467"/><stop offset="0.675" stop-color="#235fb0" stop-opacity="0.433"/><stop offset="0.7" stop-color="#235faf" stop-opacity="0.4"/><stop offset="0.725" stop-color="#235eaf" stop-opacity="0.367"/><stop offset="0.75" stop-color="#235dae" stop-opacity="0.333"/><stop offset="0.775" stop-color="#235dae" stop-opacity="0.3"/><stop offset="0.8" stop-color="#235cad" stop-opacity="0.267"/><stop offset="0.825" stop-color="#235cad" stop-opacity="0.233"/><stop offset="0.85" stop-color="#225bac" stop-opacity="0.2"/><stop offset="0.875" stop-color="#225aac" stop-opacity="0.167"/><stop offset="0.9" stop-color="#225aab" stop-opacity="0.133"/><stop offset="0.925" stop-color="#2259ab" stop-opacity="0.1"/><stop offset="0.95" stop-color="#2258aa" stop-opacity="0.0667"/><stop offset="0.975" stop-color="#2258aa" stop-opacity="0.0333"/><stop offset="1" stop-color="#2257aa" stop-opacity="0"/></radialGradient>
</defs>
<g shape-rendering="crispEdges"><rect x="80" y="62" width="1.05" height="538" fill="url(#e80)"/><rect x="81" y="62" width="1.05" height="538" fill="url(#e81)"/><rect x="82" y="62" width="1.05" height="538" fill="url(#e82)"/><rect x="83" y="62" width="1.05" height="538" fill="url(#e83)"/><rect x="84" y="62" width="1.05" height="538" fill="url(#e84)"/><rect x="85" y="62" width="1.05" height="538" fill="url(#e85)"/><rect x="86" y="62" width="1.05" height="538" fill="url(#e86)"/><rect x="87" y="62" width="1.05" height="538" fill="url(#e87)"/><rect x="88" y="62" width="1.05" height="538" fill="url(#e88)"/><rect x="89" y="62" width="1.05" height="538" fill="url(#e89)"/><rect x="90" y="62" width="1.05" height="538" fill="url(#e90)"/><rect x="91" y="62" width="1.05" height="538" fill="url(#e91)"/><rect x="92" y="62" width="1.05" height="538" fill="url(#e92)"/><rect x="93" y="62" width="1.05" height="538" fill="url(#e93)"/><rect x="94" y="62" width="1.05" height="538" fill="url(#e94)"/><rect x="95" y="62" width="1.05" height="538" fill="url(#e95)"/><rect x="96" y="62" width="1.05" height="538" fill="url(#e96)"/><rect x="97" y="62" width="1.05" height="538" fill="url(#e97)"/><rect x="98" y="62" width="1.05" height="538" fill="url(#e98)"/><rect x="99" y="62" width="1.05" height="538" fill="url(#e99)"/><rect x="100" y="62" width="1.05" height="538" fill="url(#e100)"/><rect x="101" y="62" width="1.05" height="538" fill="url(#e101)"/><rect x="102" y="62" width="1.05" height="538" fill="url(#e102)"/><rect x="103" y="62" width="1.05" height="538" fill="url(#e103)"/><rect x="104" y="62" width="1.05" height="538" fill="url(#e104)"/><rect x="105" y="62" width="1.05" height="538" fill="url(#e105)"/><rect x="106" y="62" width="1.05" height="538" fill="url(#e106)"/><rect x="107" y="62" width="1.05" height="538" fill="url(#e107)"/><rect x="108" y="62" width="1.05" height="538" fill="url(#g2)"/><rect x="109" y="62" width="1.05" height="538" fill="url(#g1)"/><rect x="110" y="62" width="1.05" height="538" fill="url(#g0)"/><rect x="111" y="62" width="1.05" height="538" fill="url(#g0)"/><rect x="112" y="62" width="1.05" height="538" fill="url(#g1)"/><rect x="113" y="62" width="1.05" height="538" fill="url(#g3)"/><rect x="114" y="62" width="1.05" height="538" fill="url(#g5)"/><rect x="115" y="62" width="1.05" height="538" fill="url(#g8)"/><rect x="116" y="62" width="1.05" height="538" fill="url(#g11)"/><rect x="117" y="62" width="1.05" height="538" fill="url(#g13)"/><rect x="118" y="62" width="1.05" height="538" fill="url(#g15)"/><rect x="119" y="62" width="1.05" height="538" fill="url(#g16)"/><rect x="120" y="62" width="1.05" height="538" fill="url(#g16)"/><rect x="121" y="62" width="1.05" height="538" fill="url(#g15)"/><rect x="122" y="62" width="1.05" height="538" fill="url(#g14)"/><rect x="123" y="62" width="1.05" height="538" fill="url(#g12)"/><rect x="124" y="62" width="1.05" height="538" fill="url(#g9)"/><rect x="125" y="62" width="1.05" height="538" fill="url(#g7)"/><rect x="126" y="62" width="1.05" height="538" fill="url(#g4)"/><rect x="127" y="62" width="1.05" height="538" fill="url(#g2)"/><rect x="128" y="62" width="1.05" height="538" fill="url(#g1)"/><rect x="129" y="62" width="1.05" height="538" fill="url(#g0)"/><rect x="130" y="62" width="1.05" height="538" fill="url(#g0)"/><rect x="131" y="62" width="1.05" height="538" fill="url(#g1)"/><rect x="132" y="62" width="1.05" height="538" fill="url(#g3)"/><rect x="133" y="62" width="1.05" height="538" fill="url(#g5)"/><rect x="134" y="62" width="1.05" height="538" fill="url(#g8)"/><rect x="135" y="62" width="1.05" height="538" fill="url(#g10)"/><rect x="136" y="62" width="1.05" height="538" fill="url(#g13)"/><rect x="137" y="62" width="1.05" height="538" fill="url(#g14)"/><rect x="138" y="62" width="1.05" height="538" fill="url(#g16)"/><rect x="139" y="62" width="1.05" height="538" fill="url(#g16)"/><rect x="140" y="62" width="1.05" height="538" fill="url(#g16)"/><rect x="141" y="62" width="1.05" height="538" fill="url(#g14)"/><rect x="142" y="62" width="1.05" height="538" fill="url(#g12)"/><rect x="143" y="62" width="1.05" height="538" fill="url(#g10)"/><rect x="144" y="62" width="1.05" height="538" fill="url(#g7)"/><rect x="145" y="62" width="1.05" height="538" fill="url(#g5)"/><rect x="146" y="62" width="1.05" height="538" fill="url(#g3)"/><rect x="147" y="62" width="1.05" height="538" fill="url(#g1)"/><rect x="148" y="62" width="1.05" height="538" fill="url(#g0)"/><rect x="149" y="62" width="1.05" height="538" fill="url(#g0)"/><rect x="150" y="62" width="1.05" height="538" fill="url(#g1)"/><rect x="151" y="62" width="1.05" height="538" fill="url(#g3)"/><rect x="152" y="62" width="1.05" height="538" fill="url(#g5)"/><rect x="153" y="62" width="1.05" height="538" fill="url(#g7)"/><rect x="154" y="62" width="1.05" height="538" fill="url(#g10)"/><rect x="155" y="62" width="1.05" height="538" fill="url(#g12)"/><rect x="156" y="62" width="1.05" height="538" fill="url(#g14)"/><rect x="157" y="62" width="1.05" height="538" fill="url(#g15)"/><rect x="158" y="62" width="1.05" height="538" fill="url(#g16)"/><rect x="159" y="62" width="1.05" height="538" fill="url(#g16)"/><rect x="160" y="62" width="1.05" height="538" fill="url(#g14)"/><rect x="161" y="62" width="1.05" height="538" fill="url(#g13)"/><rect x="162" y="62" width="1.05" height="538" fill="url(#g10)"/><rect x="163" y="62" width="1.05" height="538" fill="url(#g8)"/><rect x="164" y="62" width="1.05" height="538" fill="url(#g5)"/><rect x="165" y="62" width="1.05" height="538" fill="url(#g3)"/><rect x="166" y="62" width="1.05" height="538" fill="url(#g1)"/><rect x="167" y="62" width="1.05" height="538" fill="url(#g0)"/><rect x="168" y="62" width="1.05" height="538" fill="url(#g0)"/><rect x="169" y="62" width="1.05" height="538" fill="url(#g1)"/><rect x="170" y="62" width="1.05" height="538" fill="url(#g2)"/><rect x="171" y="62" width="1.05" height="538" fill="url(#g4)"/><rect x="172" y="62" width="1.05" height="538" fill="url(#g7)"/><rect x="173" y="62" width="1.05" height="538" fill="url(#g9)"/><rect x="174" y="62" width="1.05" height="538" fill="url(#g12)"/><rect x="175" y="62" width="1.05" height="538" fill="url(#g14)"/><rect x="176" y="62" width="1.05" height="538" fill="url(#g15)"/><rect x="177" y="62" width="1.05" height="538" fill="url(#g16)"/><rect x="178" y="62" width="1.05" height="538" fill="url(#g16)"/><rect x="179" y="62" width="1.05" height="538" fill="url(#g15)"/><rect x="180" y="62" width="1.05" height="538" fill="url(#g13)"/><rect x="181" y="62" width="1.05" height="538" fill="url(#g11)"/><rect x="182" y="62" width="1.05" height="538" fill="url(#g8)"/><rect x="183" y="62" width="1.05" height="538" fill="url(#g6)"/><rect x="184" y="62" width="1.05" height="538" fill="url(#g3)"/><rect x="185" y="62" width="1.05" height="538" fill="url(#g1)"/><rect x="186" y="62" width="1.05" height="538" fill="url(#g0)"/><rect x="187" y="62" width="1.05" height="538" fill="url(#g0)"/><rect x="188" y="62" width="1.05" height="538" fill="url(#g1)"/><rect x="189" y="62" width="1.05" height="538" fill="url(#g2)"/><rect x="190" y="62" width="1.05" height="538" fill="url(#g4)"/><rect x="191" y="62" width="1.05" height="538" fill="url(#g6)"/><rect x="192" y="62" width="1.05" height="538" fill="url(#g9)"/><rect x="193" y="62" width="1.05" height="538" fill="url(#g11)"/><rect x="194" y="62" width="1.05" height="538" fill="url(#g14)"/><rect x="195" y="62" width="1.05" height="538" fill="url(#g15)"/><rect x="196" y="62" width="1.05" height="538" fill="url(#g16)"/><rect x="197" y="62" width="1.05" height="538" fill="url(#g16)"/><rect x="198" y="62" width="1.05" height="538" fill="url(#g15)"/><rect x="199" y="62" width="1.05" height="538" fill="url(#g13)"/><rect x="200" y="62" width="1.05" height="538" fill="url(#g11)"/><rect x="201" y="62" width="1.05" height="538" fill="url(#g9)"/><rect x="202" y="62" width="1.05" height="538" fill="url(#g6)"/><rect x="203" y="62" width="1.05" height="538" fill="url(#g4)"/><rect x="204" y="62" width="1.05" height="538" fill="url(#g2)"/><rect x="205" y="62" width="1.05" height="538" fill="url(#g0)"/><rect x="206" y="62" width="1.05" height="538" fill="url(#g0)"/><rect x="207" y="62" width="1.05" height="538" fill="url(#g0)"/><rect x="208" y="62" width="1.05" height="538" fill="url(#g2)"/><rect x="209" y="62" width="1.05" height="538" fill="url(#g4)"/><rect x="210" y="62" width="1.05" height="538" fill="url(#g6)"/><rect x="211" y="62" width="1.05" height="538" fill="url(#g8)"/><rect x="212" y="62" width="1.05" height="538" fill="url(#g11)"/><rect x="213" y="62" width="1.05" height="538" fill="url(#g13)"/><rect x="214" y="62" width="1.05" height="538" fill="url(#g15)"/><rect x="215" y="62" width="1.05" height="538" fill="url(#g16)"/><rect x="216" y="62" width="1.05" height="538" fill="url(#g16)"/><rect x="217" y="62" width="1.05" height="538" fill="url(#g15)"/><rect x="218" y="62" width="1.05" height="538" fill="url(#g14)"/><rect x="219" y="62" width="1.05" height="538" fill="url(#g12)"/><rect x="220" y="62" width="1.05" height="538" fill="url(#g9)"/><rect x="221" y="62" width="1.05" height="538" fill="url(#g6)"/><rect x="222" y="62" width="1.05" height="538" fill="url(#g4)"/><rect x="223" y="62" width="1.05" height="538" fill="url(#g2)"/><rect x="224" y="62" width="1.05" height="538" fill="url(#g1)"/><rect x="225" y="62" width="1.05" height="538" fill="url(#g0)"/><rect x="226" y="62" width="1.05" height="538" fill="url(#g0)"/><rect x="227" y="62" width="1.05" height="538" fill="url(#g1)"/><rect x="228" y="62" width="1.05" height="538" fill="url(#g3)"/><rect x="229" y="62" width="1.05" height="538" fill="url(#g5)"/><rect x="230" y="62" width="1.05" height="538" fill="url(#g8)"/><rect x="231" y="62" width="1.05" height="538" fill="url(#g11)"/><rect x="232" y="62" width="1.05" height="538" fill="url(#g13)"/><rect x="233" y="62" width="1.05" height="538" fill="url(#g15)"/><rect x="234" y="62" width="1.05" height="538" fill="url(#g16)"/><rect x="235" y="62" width="1.05" height="538" fill="url(#g16)"/><rect x="236" y="62" width="1.05" height="538" fill="url(#g15)"/><rect x="237" y="62" width="1.05" height="538" fill="url(#g14)"/><rect x="238" y="62" width="1.05" height="538" fill="url(#g12)"/><rect x="239" y="62" width="1.05" height="538" fill="url(#g9)"/><rect x="240" y="62" width="1.05" height="538" fill="url(#g7)"/><rect x="241" y="62" width="1.05" height="538" fill="url(#g4)"/><rect x="242" y="62" width="1.05" height="538" fill="url(#g2)"/><rect x="243" y="62" width="1.05" height="538" fill="url(#g1)"/><rect x="244" y="62" width="1.05" height="538" fill="url(#g0)"/><rect x="245" y="62" width="1.05" height="538" fill="url(#g0)"/><rect x="246" y="62" width="1.05" height="538" fill="url(#g1)"/><rect x="247" y="62" width="1.05" height="538" fill="url(#g3)"/><rect x="248" y="62" width="1.05" height="538" fill="url(#g5)"/><rect x="249" y="62" width="1.05" height="538" fill="url(#g8)"/><rect x="250" y="62" width="1.05" height="538" fill="url(#g10)"/><rect x="251" y="62" width="1.05" height="538" fill="url(#g13)"/><rect x="252" y="62" width="1.05" height="538" fill="url(#g14)"/><rect x="253" y="62" width="1.05" height="538" fill="url(#g16)"/><rect x="254" y="62" width="1.05" height="538" fill="url(#g16)"/><rect x="255" y="62" width="1.05" height="538" fill="url(#g16)"/><rect x="256" y="62" width="1.05" height="538" fill="url(#g14)"/><rect x="257" y="62" width="1.05" height="538" fill="url(#g12)"/><rect x="258" y="62" width="1.05" height="538" fill="url(#g10)"/><rect x="259" y="62" width="1.05" height="538" fill="url(#g7)"/><rect x="260" y="62" width="1.05" height="538" fill="url(#g5)"/><rect x="261" y="62" width="1.05" height="538" fill="url(#g3)"/><rect x="262" y="62" width="1.05" height="538" fill="url(#g1)"/><rect x="263" y="62" width="1.05" height="538" fill="url(#g0)"/><rect x="264" y="62" width="1.05" height="538" fill="url(#g0)"/><rect x="265" y="62" width="1.05" height="538" fill="url(#g1)"/><rect x="266" y="62" width="1.05" height="538" fill="url(#g3)"/><rect x="267" y="62" width="1.05" height="538" fill="url(#g5)"/><rect x="268" y="62" width="1.05" height="538" fill="url(#g7)"/><rect x="269" y="62" width="1.05" height="538" fill="url(#g10)"/><rect x="270" y="62" width="1.05" height="538" fill="url(#g12)"/><rect x="271" y="62" width="1.05" height="538" fill="url(#g14)"/><rect x="272" y="62" width="1.05" height="538" fill="url(#g15)"/><rect x="273" y="62" width="1.05" height="538" fill="url(#g16)"/><rect x="274" y="62" width="1.05" height="538" fill="url(#g16)"/><rect x="275" y="62" width="1.05" height="538" fill="url(#g15)"/><rect x="276" y="62" width="1.05" height="538" fill="url(#g13)"/><rect x="277" y="62" width="1.05" height="538" fill="url(#g10)"/><rect x="278" y="62" width="1.05" height="538" fill="url(#g8)"/><rect x="279" y="62" width="1.05" height="538" fill="url(#g5)"/><rect x="280" y="62" width="1.05" height="538" fill="url(#g3)"/><rect x="281" y="62" width="1.05" height="538" fill="url(#g1)"/><rect x="282" y="62" width="1.05" height="538" fill="url(#g0)"/><rect x="283" y="62" width="1.05" height="538" fill="url(#g0)"/><rect x="284" y="62" width="1.05" height="538" fill="url(#g1)"/><rect x="285" y="62" width="1.05" height="538" fill="url(#g2)"/><rect x="286" y="62" width="1.05" height="538" fill="url(#g4)"/><rect x="287" y="62" width="1.05" height="538" fill="url(#g7)"/><rect x="288" y="62" width="1.05" height="538" fill="url(#g9)"/><rect x="289" y="62" width="1.05" height="538" fill="url(#g12)"/><rect x="290" y="62" width="1.05" height="538" fill="url(#g14)"/><rect x="291" y="62" width="1.05" height="538" fill="url(#g15)"/><rect x="292" y="62" width="1.05" height="538" fill="url(#g16)"/><rect x="293" y="62" width="1.05" height="538" fill="url(#g16)"/><rect x="294" y="62" width="1.05" height="538" fill="url(#g15)"/><rect x="295" y="62" width="1.05" height="538" fill="url(#g13)"/><rect x="296" y="62" width="1.05" height="538" fill="url(#g11)"/><rect x="297" y="62" width="1.05" height="538" fill="url(#g8)"/><rect x="298" y="62" width="1.05" height="538" fill="url(#g6)"/><rect x="299" y="62" width="1.05" height="538" fill="url(#g3)"/><rect x="300" y="62" width="1.05" height="538" fill="url(#g1)"/><rect x="301" y="62" width="1.05" height="538" fill="url(#g0)"/><rect x="302" y="62" width="1.05" height="538" fill="url(#g0)"/><rect x="303" y="62" width="1.05" height="538" fill="url(#g1)"/><rect x="304" y="62" width="1.05" height="538" fill="url(#g2)"/><rect x="305" y="62" width="1.05" height="538" fill="url(#g4)"/><rect x="306" y="62" width="1.05" height="538" fill="url(#g6)"/><rect x="307" y="62" width="1.05" height="538" fill="url(#g9)"/><rect x="308" y="62" width="1.05" height="538" fill="url(#g11)"/><rect x="309" y="62" width="1.05" height="538" fill="url(#g14)"/><rect x="310" y="62" width="1.05" height="538" fill="url(#g15)"/><rect x="311" y="62" width="1.05" height="538" fill="url(#g16)"/><rect x="312" y="62" width="1.05" height="538" fill="url(#g16)"/><rect x="313" y="62" width="1.05" height="538" fill="url(#g15)"/><rect x="314" y="62" width="1.05" height="538" fill="url(#g13)"/><rect x="315" y="62" width="1.05" height="538" fill="url(#g11)"/><rect x="316" y="62" width="1.05" height="538" fill="url(#g9)"/><rect x="317" y="62" width="1.05" height="538" fill="url(#g6)"/><rect x="318" y="62" width="1.05" height="538" fill="url(#g4)"/><rect x="319" y="62" width="1.05" height="538" fill="url(#g2)"/><rect x="320" y="62" width="1.05" height="538" fill="url(#g0)"/><rect x="321" y="62" width="1.05" height="538" fill="url(#g0)"/><rect x="322" y="62" width="1.05" height="538" fill="url(#g0)"/><rect x="323" y="62" width="1.05" height="538" fill="url(#g2)"/><rect x="324" y="62" width="1.05" height="538" fill="url(#g4)"/><rect x="325" y="62" width="1.05" height="538" fill="url(#g6)"/><rect x="326" y="62" width="1.05" height="538" fill="url(#g8)"/><rect x="327" y="62" width="1.05" height="538" fill="url(#g11)"/><rect x="328" y="62" width="1.05" height="538" fill="url(#g13)"/><rect x="329" y="62" width="1.05" height="538" fill="url(#g15)"/><rect x="330" y="62" width="1.05" height="538" fill="url(#g16)"/><rect x="331" y="62" width="1.05" height="538" fill="url(#g16)"/><rect x="332" y="62" width="1.05" height="538" fill="url(#g15)"/><rect x="333" y="62" width="1.05" height="538" fill="url(#g14)"/><rect x="334" y="62" width="1.05" height="538" fill="url(#g12)"/><rect x="335" y="62" width="1.05" height="538" fill="url(#g9)"/><rect x="336" y="62" width="1.05" height="538" fill="url(#g6)"/><rect x="337" y="62" width="1.05" height="538" fill="url(#g4)"/><rect x="338" y="62" width="1.05" height="538" fill="url(#g2)"/><rect x="339" y="62" width="1.05" height="538" fill="url(#g1)"/><rect x="340" y="62" width="1.05" height="538" fill="url(#g0)"/><rect x="341" y="62" width="1.05" height="538" fill="url(#g0)"/><rect x="342" y="62" width="1.05" height="538" fill="url(#g1)"/><rect x="343" y="62" width="1.05" height="538" fill="url(#g3)"/><rect x="344" y="62" width="1.05" height="538" fill="url(#g5)"/><rect x="345" y="62" width="1.05" height="538" fill="url(#g8)"/><rect x="346" y="62" width="1.05" height="538" fill="url(#g11)"/><rect x="347" y="62" width="1.05" height="538" fill="url(#g13)"/><rect x="348" y="62" width="1.05" height="538" fill="url(#g15)"/><rect x="349" y="62" width="1.05" height="538" fill="url(#g16)"/><rect x="350" y="62" width="1.05" height="538" fill="url(#g16)"/><rect x="351" y="62" width="1.05" height="538" fill="url(#g15)"/><rect x="352" y="62" width="1.05" height="538" fill="url(#g14)"/><rect x="353" y="62" width="1.05" height="538" fill="url(#g12)"/><rect x="354" y="62" width="1.05" height="538" fill="url(#g9)"/><rect x="355" y="62" width="1.05" height="538" fill="url(#g7)"/><rect x="356" y="62" width="1.05" height="538" fill="url(#g4)"/><rect x="357" y="62" width="1.05" height="538" fill="url(#g2)"/><rect x="358" y="62" width="1.05" height="538" fill="url(#g1)"/><rect x="359" y="62" width="1.05" height="538" fill="url(#g0)"/><rect x="360" y="62" width="1.05" height="538" fill="url(#g0)"/><rect x="361" y="62" width="1.05" height="538" fill="url(#g1)"/><rect x="362" y="62" width="1.05" height="538" fill="url(#g3)"/><rect x="363" y="62" width="1.05" height="538" fill="url(#g5)"/><rect x="364" y="62" width="1.05" height="538" fill="url(#g8)"/><rect x="365" y="62" width="1.05" height="538" fill="url(#g10)"/><rect x="366" y="62" width="1.05" height="538" fill="url(#g13)"/><rect x="367" y="62" width="1.05" height="538" fill="url(#g14)"/><rect x="368" y="62" width="1.05" height="538" fill="url(#g16)"/><rect x="369" y="62" width="1.05" height="538" fill="url(#g16)"/><rect x="370" y="62" width="1.05" height="538" fill="url(#g16)"/><rect x="371" y="62" width="1.05" height="538" fill="url(#g14)"/><rect x="372" y="62" width="1.05" height="538" fill="url(#g12)"/><rect x="373" y="62" width="1.05" height="538" fill="url(#g10)"/><rect x="374" y="62" width="1.05" height="538" fill="url(#g7)"/><rect x="375" y="62" width="1.05" height="538" fill="url(#g5)"/><rect x="376" y="62" width="1.05" height="538" fill="url(#g3)"/><rect x="377" y="62" width="1.05" height="538" fill="url(#g1)"/><rect x="378" y="62" width="1.05" height="538" fill="url(#g0)"/><rect x="379" y="62" width="1.05" height="538" fill="url(#g0)"/><rect x="380" y="62" width="1.05" height="538" fill="url(#g1)"/><rect x="381" y="62" width="1.05" height="538" fill="url(#g2)"/><rect x="382" y="62" width="1.05" height="538" fill="url(#g5)"/><rect x="383" y="62" width="1.05" height="538" fill="url(#g7)"/><rect x="384" y="62" width="1.05" height="538" fill="url(#g10)"/><rect x="385" y="62" width="1.05" height="538" fill="url(#g12)"/><rect x="386" y="62" width="1.05" height="538" fill="url(#g14)"/><rect x="387" y="62" width="1.05" height="538" fill="url(#g15)"/><rect x="388" y="62" width="1.05" height="538" fill="url(#g16)"/><rect x="389" y="62" width="1.05" height="538" fill="url(#g16)"/><rect x="390" y="62" width="1.05" height="538" fill="url(#g15)"/><rect x="391" y="62" width="1.05" height="538" fill="url(#g13)"/><rect x="392" y="62" width="1.05" height="538" fill="url(#g10)"/><rect x="393" y="62" width="1.05" height="538" fill="url(#g8)"/><rect x="394" y="62" width="1.05" height="538" fill="url(#g5)"/><rect x="395" y="62" width="1.05" height="538" fill="url(#g3)"/><rect x="396" y="62" width="1.05" height="538" fill="url(#g1)"/><rect x="397" y="62" width="1.05" height="538" fill="url(#g0)"/><rect x="398" y="62" width="1.05" height="538" fill="url(#g0)"/><rect x="399" y="62" width="1.05" height="538" fill="url(#g1)"/><rect x="400" y="62" width="1.05" height="538" fill="url(#g2)"/><rect x="401" y="62" width="1.05" height="538" fill="url(#g4)"/><rect x="402" y="62" width="1.05" height="538" fill="url(#g7)"/><rect x="403" y="62" width="1.05" height="538" fill="url(#g9)"/><rect x="404" y="62" width="1.05" height="538" fill="url(#g12)"/><rect x="405" y="62" width="1.05" height="538" fill="url(#g14)"/><rect x="406" y="62" width="1.05" height="538" fill="url(#g15)"/><rect x="407" y="62" width="1.05" height="538" fill="url(#g16)"/><rect x="408" y="62" width="1.05" height="538" fill="url(#g16)"/><rect x="409" y="62" width="1.05" height="538" fill="url(#g15)"/><rect x="410" y="62" width="1.05" height="538" fill="url(#g13)"/><rect x="411" y="62" width="1.05" height="538" fill="url(#g11)"/><rect x="412" y="62" width="1.05" height="538" fill="url(#g8)"/><rect x="413" y="62" width="1.05" height="538" fill="url(#g6)"/><rect x="414" y="62" width="1.05" height="538" fill="url(#g3)"/><rect x="415" y="62" width="1.05" height="538" fill="url(#g1)"/><rect x="416" y="62" width="1.05" height="538" fill="url(#g0)"/><rect x="417" y="62" width="1.05" height="538" fill="url(#g0)"/><rect x="418" y="62" width="1.05" height="538" fill="url(#g1)"/><rect x="419" y="62" width="1.05" height="538" fill="url(#g2)"/><rect x="420" y="62" width="1.05" height="538" fill="url(#g4)"/><rect x="421" y="62" width="1.05" height="538" fill="url(#g6)"/><rect x="422" y="62" width="1.05" height="538" fill="url(#g9)"/><rect x="423" y="62" width="1.05" height="538" fill="url(#g11)"/><rect x="424" y="62" width="1.05" height="538" fill="url(#g14)"/><rect x="425" y="62" width="1.05" height="538" fill="url(#g15)"/><rect x="426" y="62" width="1.05" height="538" fill="url(#g16)"/><rect x="427" y="62" width="1.05" height="538" fill="url(#g16)"/><rect x="428" y="62" width="1.05" height="538" fill="url(#g15)"/><rect x="429" y="62" width="1.05" height="538" fill="url(#g13)"/><rect x="430" y="62" width="1.05" height="538" fill="url(#g11)"/><rect x="431" y="62" width="1.05" height="538" fill="url(#g9)"/><rect x="432" y="62" width="1.05" height="538" fill="url(#g6)"/><rect x="433" y="62" width="1.05" height="538" fill="url(#g4)"/><rect x="434" y="62" width="1.05" height="538" fill="url(#g2)"/><rect x="435" y="62" width="1.05" height="538" fill="url(#g0)"/><rect x="436" y="62" width="1.05" height="538" fill="url(#g0)"/><rect x="437" y="62" width="1.05" height="538" fill="url(#g0)"/><rect x="438" y="62" width="1.05" height="538" fill="url(#g2)"/><rect x="439" y="62" width="1.05" height="538" fill="url(#g4)"/><rect x="440" y="62" width="1.05" height="538" fill="url(#g6)"/><rect x="441" y="62" width="1.05" height="538" fill="url(#g8)"/><rect x="442" y="62" width="1.05" height="538" fill="url(#g11)"/><rect x="443" y="62" width="1.05" height="538" fill="url(#g13)"/><rect x="444" y="62" width="1.05" height="538" fill="url(#g15)"/><rect x="445" y="62" width="1.05" height="538" fill="url(#g16)"/><rect x="446" y="62" width="1.05" height="538" fill="url(#g16)"/><rect x="447" y="62" width="1.05" height="538" fill="url(#g15)"/><rect x="448" y="62" width="1.05" height="538" fill="url(#g14)"/><rect x="449" y="62" width="1.05" height="538" fill="url(#g12)"/><rect x="450" y="62" width="1.05" height="538" fill="url(#g9)"/><rect x="451" y="62" width="1.05" height="538" fill="url(#g6)"/><rect x="452" y="62" width="1.05" height="538" fill="url(#g4)"/><rect x="453" y="62" width="1.05" height="538" fill="url(#g2)"/><rect x="454" y="62" width="1.05" height="538" fill="url(#g1)"/><rect x="455" y="62" width="1.05" height="538" fill="url(#g0)"/><rect x="456" y="62" width="1.05" height="538" fill="url(#g0)"/><rect x="457" y="62" width="1.05" height="538" fill="url(#g1)"/><rect x="458" y="62" width="1.05" height="538" fill="url(#g3)"/><rect x="459" y="62" width="1.05" height="538" fill="url(#g5)"/><rect x="460" y="62" width="1.05" height="538" fill="url(#g8)"/><rect x="461" y="62" width="1.05" height="538" fill="url(#g11)"/><rect x="462" y="62" width="1.05" height="538" fill="url(#g13)"/><rect x="463" y="62" width="1.05" height="538" fill="url(#g15)"/><rect x="464" y="62" width="1.05" height="538" fill="url(#g16)"/><rect x="465" y="62" width="1.05" height="538" fill="url(#g16)"/><rect x="466" y="62" width="1.05" height="538" fill="url(#g15)"/><rect x="467" y="62" width="1.05" height="538" fill="url(#g14)"/><rect x="468" y="62" width="1.05" height="538" fill="url(#g12)"/><rect x="469" y="62" width="1.05" height="538" fill="url(#g9)"/><rect x="470" y="62" width="1.05" height="538" fill="url(#g7)"/><rect x="471" y="62" width="1.05" height="538" fill="url(#g4)"/><rect x="472" y="62" width="1.05" height="538" fill="url(#g2)"/><rect x="473" y="62" width="1.05" height="538" fill="url(#g1)"/><rect x="474" y="62" width="1.05" height="538" fill="url(#g0)"/><rect x="475" y="62" width="1.05" height="538" fill="url(#g0)"/><rect x="476" y="62" width="1.05" height="538" fill="url(#g1)"/><rect x="477" y="62" width="1.05" height="538" fill="url(#g3)"/><rect x="478" y="62" width="1.05" height="538" fill="url(#g5)"/><rect x="479" y="62" width="1.05" height="538" fill="url(#g8)"/><rect x="480" y="62" width="1.05" height="538" fill="url(#g10)"/><rect x="481" y="62" width="1.05" height="538" fill="url(#g13)"/><rect x="482" y="62" width="1.05" height="538" fill="url(#g14)"/><rect x="483" y="62" width="1.05" height="538" fill="url(#g16)"/><rect x="484" y="62" width="1.05" height="538" fill="url(#g16)"/><rect x="485" y="62" width="1.05" height="538" fill="url(#g16)"/><rect x="486" y="62" width="1.05" height="538" fill="url(#g14)"/><rect x="487" y="62" width="1.05" height="538" fill="url(#g12)"/><rect x="488" y="62" width="1.05" height="538" fill="url(#g10)"/><rect x="489" y="62" width="1.05" height="538" fill="url(#g7)"/><rect x="490" y="62" width="1.05" height="538" fill="url(#g5)"/><rect x="491" y="62" width="1.05" height="538" fill="url(#g3)"/><rect x="492" y="62" width="1.05" height="538" fill="url(#g1)"/><rect x="493" y="62" width="1.05" height="538" fill="url(#g0)"/><rect x="494" y="62" width="1.05" height="538" fill="url(#g0)"/><rect x="495" y="62" width="1.05" height="538" fill="url(#g1)"/><rect x="496" y="62" width="1.05" height="538" fill="url(#g2)"/><rect x="497" y="62" width="1.05" height="538" fill="url(#g5)"/><rect x="498" y="62" width="1.05" height="538" fill="url(#g7)"/><rect x="499" y="62" width="1.05" height="538" fill="url(#g10)"/><rect x="500" y="62" width="1.05" height="538" fill="url(#g12)"/><rect x="501" y="62" width="1.05" height="538" fill="url(#g14)"/><rect x="502" y="62" width="1.05" height="538" fill="url(#g15)"/><rect x="503" y="62" width="1.05" height="538" fill="url(#g16)"/><rect x="504" y="62" width="1.05" height="538" fill="url(#g16)"/><rect x="505" y="62" width="1.05" height="538" fill="url(#g15)"/><rect x="506" y="62" width="1.05" height="538" fill="url(#g13)"/><rect x="507" y="62" width="1.05" height="538" fill="url(#g10)"/><rect x="508" y="62" width="1.05" height="538" fill="url(#g8)"/><rect x="509" y="62" width="1.05" height="538" fill="url(#g5)"/><rect x="510" y="62" width="1.05" height="538" fill="url(#g3)"/><rect x="511" y="62" width="1.05" height="538" fill="url(#g1)"/><rect x="512" y="62" width="1.05" height="538" fill="url(#g0)"/><rect x="513" y="62" width="1.05" height="538" fill="url(#g0)"/><rect x="514" y="62" width="1.05" height="538" fill="url(#g1)"/><rect x="515" y="62" width="1.05" height="538" fill="url(#g2)"/><rect x="516" y="62" width="1.05" height="538" fill="url(#g4)"/><rect x="517" y="62" width="1.05" height="538" fill="url(#g7)"/><rect x="518" y="62" width="1.05" height="538" fill="url(#g9)"/><rect x="519" y="62" width="1.05" height="538" fill="url(#g12)"/><rect x="520" y="62" width="1.05" height="538" fill="url(#g14)"/><rect x="521" y="62" width="1.05" height="538" fill="url(#g15)"/><rect x="522" y="62" width="1.05" height="538" fill="url(#g16)"/><rect x="523" y="62" width="1.05" height="538" fill="url(#g16)"/><rect x="524" y="62" width="1.05" height="538" fill="url(#g15)"/><rect x="525" y="62" width="1.05" height="538" fill="url(#g13)"/><rect x="526" y="62" width="1.05" height="538" fill="url(#g11)"/><rect x="527" y="62" width="1.05" height="538" fill="url(#g8)"/><rect x="528" y="62" width="1.05" height="538" fill="url(#g6)"/><rect x="529" y="62" width="1.05" height="538" fill="url(#g3)"/><rect x="530" y="62" width="1.05" height="538" fill="url(#g1)"/><rect x="531" y="62" width="1.05" height="538" fill="url(#g0)"/><rect x="532" y="62" width="1.05" height="538" fill="url(#g0)"/><rect x="533" y="62" width="1.05" height="538" fill="url(#g1)"/><rect x="534" y="62" width="1.05" height="538" fill="url(#g2)"/><rect x="535" y="62" width="1.05" height="538" fill="url(#g4)"/><rect x="536" y="62" width="1.05" height="538" fill="url(#g6)"/><rect x="537" y="62" width="1.05" height="538" fill="url(#g9)"/><rect x="538" y="62" width="1.05" height="538" fill="url(#g11)"/><rect x="539" y="62" width="1.05" height="538" fill="url(#g14)"/><rect x="540" y="62" width="1.05" height="538" fill="url(#g15)"/><rect x="541" y="62" width="1.05" height="538" fill="url(#g16)"/><rect x="542" y="62" width="1.05" height="538" fill="url(#g16)"/><rect x="543" y="62" width="1.05" height="538" fill="url(#g15)"/><rect x="544" y="62" width="1.05" height="538" fill="url(#g13)"/><rect x="545" y="62" width="1.05" height="538" fill="url(#g11)"/><rect x="546" y="62" width="1.05" height="538" fill="url(#g9)"/><rect x="547" y="62" width="1.05" height="538" fill="url(#g6)"/><rect x="548" y="62" width="1.05" height="538" fill="url(#g4)"/><rect x="549" y="62" width="1.05" height="538" fill="url(#g2)"/><rect x="550" y="62" width="1.05" height="538" fill="url(#g0)"/><rect x="551" y="62" width="1.05" height="538" fill="url(#g0)"/><rect x="552" y="62" width="1.05" height="538" fill="url(#g0)"/><rect x="553" y="62" width="1.05" height="538" fill="url(#g2)"/><rect x="554" y="62" width="1.05" height="538" fill="url(#g4)"/><rect x="555" y="62" width="1.05" height="538" fill="url(#g6)"/><rect x="556" y="62" width="1.05" height="538" fill="url(#g8)"/><rect x="557" y="62" width="1.05" height="538" fill="url(#g11)"/><rect x="558" y="62" width="1.05" height="538" fill="url(#g13)"/><rect x="559" y="62" width="1.05" height="538" fill="url(#g15)"/><rect x="560" y="62" width="1.05" height="538" fill="url(#g16)"/><rect x="561" y="62" width="1.05" height="538" fill="url(#g16)"/><rect x="562" y="62" width="1.05" height="538" fill="url(#g15)"/><rect x="563" y="62" width="1.05" height="538" fill="url(#g14)"/><rect x="564" y="62" width="1.05" height="538" fill="url(#g12)"/><rect x="565" y="62" width="1.05" height="538" fill="url(#g9)"/><rect x="566" y="62" width="1.05" height="538" fill="url(#g6)"/><rect x="567" y="62" width="1.05" height="538" fill="url(#g4)"/><rect x="568" y="62" width="1.05" height="538" fill="url(#g2)"/><rect x="569" y="62" width="1.05" height="538" fill="url(#g1)"/><rect x="570" y="62" width="1.05" height="538" fill="url(#g0)"/><rect x="571" y="62" width="1.05" height="538" fill="url(#g0)"/><rect x="572" y="62" width="1.05" height="538" fill="url(#g1)"/><rect x="573" y="62" width="1.05" height="538" fill="url(#g3)"/><rect x="574" y="62" width="1.05" height="538" fill="url(#g5)"/><rect x="575" y="62" width="1.05" height="538" fill="url(#g8)"/><rect x="576" y="62" width="1.05" height="538" fill="url(#g11)"/><rect x="577" y="62" width="1.05" height="538" fill="url(#g13)"/><rect x="578" y="62" width="1.05" height="538" fill="url(#g15)"/><rect x="579" y="62" width="1.05" height="538" fill="url(#g16)"/><rect x="580" y="62" width="1.05" height="538" fill="url(#g16)"/><rect x="581" y="62" width="1.05" height="538" fill="url(#g15)"/><rect x="582" y="62" width="1.05" height="538" fill="url(#g14)"/><rect x="583" y="62" width="1.05" height="538" fill="url(#g12)"/><rect x="584" y="62" width="1.05" height="538" fill="url(#g9)"/><rect x="585" y="62" width="1.05" height="538" fill="url(#g7)"/><rect x="586" y="62" width="1.05" height="538" fill="url(#g4)"/><rect x="587" y="62" width="1.05" height="538" fill="url(#g2)"/><rect x="588" y="62" width="1.05" height="538" fill="url(#g1)"/><rect x="589" y="62" width="1.05" height="538" fill="url(#g0)"/><rect x="590" y="62" width="1.05" height="538" fill="url(#g0)"/><rect x="591" y="62" width="1.05" height="538" fill="url(#g1)"/><rect x="592" y="62" width="1.05" height="538" fill="url(#g3)"/><rect x="593" y="62" width="1.05" height="538" fill="url(#g5)"/><rect x="594" y="62" width="1.05" height="538" fill="url(#g8)"/><rect x="595" y="62" width="1.05" height="538" fill="url(#g10)"/><rect x="596" y="62" width="1.05" height="538" fill="url(#g13)"/><rect x="597" y="62" width="1.05" height="538" fill="url(#g14)"/><rect x="598" y="62" width="1.05" height="538" fill="url(#g16)"/><rect x="599" y="62" width="1.05" height="538" fill="url(#g16)"/><rect x="600" y="62" width="1.05" height="538" fill="url(#g16)"/><rect x="601" y="62" width="1.05" height="538" fill="url(#g14)"/><rect x="602" y="62" width="1.05" height="538" fill="url(#g12)"/><rect x="603" y="62" width="1.05" height="538" fill="url(#g10)"/><rect x="604" y="62" width="1.05" height="538" fill="url(#g7)"/><rect x="605" y="62" width="1.05" height="538" fill="url(#g5)"/><rect x="606" y="62" width="1.05" height="538" fill="url(#g3)"/><rect x="607" y="62" width="1.05" height="538" fill="url(#g1)"/><rect x="608" y="62" width="1.05" height="538" fill="url(#g0)"/><rect x="609" y="62" width="1.05" height="538" fill="url(#g0)"/><rect x="610" y="62" width="1.05" height="538" fill="url(#g1)"/><rect x="611" y="62" width="1.05" height="538" fill="url(#g2)"/><rect x="612" y="62" width="1.05" height="538" fill="url(#g5)"/><rect x="613" y="62" width="1.05" height="538" fill="url(#g7)"/><rect x="614" y="62" width="1.05" height="538" fill="url(#g10)"/><rect x="615" y="62" width="1.05" height="538" fill="url(#g12)"/><rect x="616" y="62" width="1.05" height="538" fill="url(#g14)"/><rect x="617" y="62" width="1.05" height="538" fill="url(#g15)"/><rect x="618" y="62" width="1.05" height="538" fill="url(#g16)"/><rect x="619" y="62" width="1.05" height="538" fill="url(#g16)"/><rect x="620" y="62" width="1.05" height="538" fill="url(#g15)"/><rect x="621" y="62" width="1.05" height="538" fill="url(#g13)"/><rect x="622" y="62" width="1.05" height="538" fill="url(#g10)"/><rect x="623" y="62" width="1.05" height="538" fill="url(#g8)"/><rect x="624" y="62" width="1.05" height="538" fill="url(#g5)"/><rect x="625" y="62" width="1.05" height="538" fill="url(#g3)"/><rect x="626" y="62" width="1.05" height="538" fill="url(#g1)"/><rect x="627" y="62" width="1.05" height="538" fill="url(#g0)"/><rect x="628" y="62" width="1.05" height="538" fill="url(#g0)"/><rect x="629" y="62" width="1.05" height="538" fill="url(#g1)"/><rect x="630" y="62" width="1.05" height="538" fill="url(#g2)"/><rect x="631" y="62" width="1.05" height="538" fill="url(#g4)"/><rect x="632" y="62" width="1.05" height="538" fill="url(#g7)"/><rect x="633" y="62" width="1.05" height="538" fill="url(#g9)"/><rect x="634" y="62" width="1.05" height="538" fill="url(#g12)"/><rect x="635" y="62" width="1.05" height="538" fill="url(#g14)"/><rect x="636" y="62" width="1.05" height="538" fill="url(#g15)"/><rect x="637" y="62" width="1.05" height="538" fill="url(#g16)"/><rect x="638" y="62" width="1.05" height="538" fill="url(#g16)"/><rect x="639" y="62" width="1.05" height="538" fill="url(#g15)"/><rect x="640" y="62" width="1.05" height="538" fill="url(#g13)"/><rect x="641" y="62" width="1.05" height="538" fill="url(#g11)"/><rect x="642" y="62" width="1.05" height="538" fill="url(#g8)"/><rect x="643" y="62" width="1.05" height="538" fill="url(#g6)"/><rect x="644" y="62" width="1.05" height="538" fill="url(#g3)"/><rect x="645" y="62" width="1.05" height="538" fill="url(#g1)"/><rect x="646" y="62" width="1.05" height="538" fill="url(#g0)"/><rect x="647" y="62" width="1.05" height="538" fill="url(#g0)"/><rect x="648" y="62" width="1.05" height="538" fill="url(#g1)"/><rect x="649" y="62" width="1.05" height="538" fill="url(#g2)"/><rect x="650" y="62" width="1.05" height="538" fill="url(#g4)"/><rect x="651" y="62" width="1.05" height="538" fill="url(#g6)"/><rect x="652" y="62" width="1.05" height="538" fill="url(#g9)"/><rect x="653" y="62" width="1.05" height="538" fill="url(#g11)"/><rect x="654" y="62" width="1.05" height="538" fill="url(#g14)"/><rect x="655" y="62" width="1.05" height="538" fill="url(#g15)"/><rect x="656" y="62" width="1.05" height="538" fill="url(#g16)"/><rect x="657" y="62" width="1.05" height="538" fill="url(#g16)"/><rect x="658" y="62" width="1.05" height="538" fill="url(#g15)"/><rect x="659" y="62" width="1.05" height="538" fill="url(#g13)"/><rect x="660" y="62" width="1.05" height="538" fill="url(#g11)"/><rect x="661" y="62" width="1.05" height="538" fill="url(#g9)"/><rect x="662" y="62" width="1.05" height="538" fill="url(#g6)"/><rect x="663" y="62" width="1.05" height="538" fill="url(#g4)"/><rect x="664" y="62" width="1.05" height="538" fill="url(#g2)"/><rect x="665" y="62" width="1.05" height="538" fill="url(#g0)"/><rect x="666" y="62" width="1.05" height="538" fill="url(#g0)"/><rect x="667" y="62" width="1.05" height="538" fill="url(#e667)"/><rect x="668" y="62" width="1.05" height="538" fill="url(#e668)"/><rect x="669" y="62" width="1.05" height="538" fill="url(#e669)"/><rect x="670" y="62" width="1.05" height="538" fill="url(#e670)"/><rect x="671" y="62" width="1.05" height="538" fill="url(#e671)"/><rect x="672" y="62" width="1.05" height="538" fill="url(#e672)"/><rect x="673" y="62" width="1.05" height="538" fill="url(#e673)"/><rect x="674" y="62" width="1.05" height="538" fill="url(#e674)"/><rect x="675" y="62" width="1.05" height="538" fill="url(#e675)"/><rect x="676" y="62" width="1.05" height="538" fill="url(#e676)"/><rect x="677" y="62" width="1.05" height="538" fill="url(#e677)"/><rect x="678" y="62" width="1.05" height="538" fill="url(#e678)"/><rect x="679" y="62" width="1.05" height="538" fill="url(#e679)"/><rect x="680" y="62" width="1.05" height="538" fill="url(#e680)"/><rect x="681" y="62" width="1.05" height="538" fill="url(#e681)"/><rect x="682" y="62" width="1.05" height="538" fill="url(#e682)"/><rect x="683" y="62" width="1.05" height="538" fill="url(#e683)"/><rect x="684" y="62" width="1.05" height="538" fill="url(#e684)"/><rect x="685" y="62" width="1.05" height="538" fill="url(#e685)"/><rect x="686" y="62" width="1.05" height="538" fill="url(#e686)"/><rect x="687" y="62" width="1.05" height="538" fill="url(#e687)"/><rect x="688" y="62" width="1.05" height="538" fill="url(#e688)"/><rect x="689" y="62" width="1.05" height="538" fill="url(#e689)"/><rect x="690" y="62" width="1.05" height="538" fill="url(#e690)"/><rect x="691" y="62" width="1.05" height="538" fill="url(#e691)"/><rect x="692" y="62" width="1.05" height="538" fill="url(#e692)"/><rect x="693" y="62" width="1.05" height="538" fill="url(#e693)"/><rect x="694" y="62" width="1.05" height="538" fill="url(#e694)"/><rect x="695" y="62" width="1.05" height="538" fill="url(#e695)"/></g>
<path d="M99.0 599.4v-2.8M99.0 62.3v2.8M117.5 599.4v-2.8M117.5 62.3v2.8M136.0 599.4v-2.8M136.0 62.3v2.8M154.5 599.4v-2.8M154.5 62.3v2.8M173.1 599.4v-5.5M173.1 62.3v5.5M191.6 599.4v-2.8M191.6 62.3v2.8M210.1 599.4v-2.8M210.1 62.3v2.8M228.6 599.4v-2.8M228.6 62.3v2.8M247.1 599.4v-2.8M247.1 62.3v2.8M265.6 599.4v-5.5M265.6 62.3v5.5M284.1 599.4v-2.8M284.1 62.3v2.8M302.6 599.4v-2.8M302.6 62.3v2.8M321.1 599.4v-2.8M321.1 62.3v2.8M339.6 599.4v-2.8M339.6 62.3v2.8M358.1 599.4v-5.5M358.1 62.3v5.5M376.7 599.4v-2.8M376.7 62.3v2.8M395.2 599.4v-2.8M395.2 62.3v2.8M413.7 599.4v-2.8M413.7 62.3v2.8M432.2 599.4v-2.8M432.2 62.3v2.8M450.7 599.4v-5.5M450.7 62.3v5.5M469.2 599.4v-2.8M469.2 62.3v2.8M487.7 599.4v-2.8M487.7 62.3v2.8M506.2 599.4v-2.8M506.2 62.3v2.8M524.7 599.4v-2.8M524.7 62.3v2.8M543.2 599.4v-5.5M543.2 62.3v5.5M561.8 599.4v-2.8M561.8 62.3v2.8M580.3 599.4v-2.8M580.3 62.3v2.8M598.8 599.4v-2.8M598.8 62.3v2.8M617.3 599.4v-2.8M617.3 62.3v2.8M635.8 599.4v-5.5M635.8 62.3v5.5M654.3 599.4v-2.8M654.3 62.3v2.8M672.8 599.4v-2.8M672.8 62.3v2.8M691.3 599.4v-2.8M691.3 62.3v2.8M80.5 572.5h2.8M694.6 572.5h-2.8M80.5 545.7h2.8M694.6 545.7h-2.8M80.5 518.8h2.8M694.6 518.8h-2.8M80.5 492.0h2.8M694.6 492.0h-2.8M80.5 465.1h6.0M694.6 465.1h-6.0M80.5 438.3h2.8M694.6 438.3h-2.8M80.5 411.4h2.8M694.6 411.4h-2.8M80.5 384.6h2.8M694.6 384.6h-2.8M80.5 357.7h2.8M694.6 357.7h-2.8M80.5 330.9h6.0M694.6 330.9h-6.0M80.5 304.0h2.8M694.6 304.0h-2.8M80.5 277.1h2.8M694.6 277.1h-2.8M80.5 250.3h2.8M694.6 250.3h-2.8M80.5 223.4h2.8M694.6 223.4h-2.8M80.5 196.6h6.0M694.6 196.6h-6.0M80.5 169.7h2.8M694.6 169.7h-2.8M80.5 142.9h2.8M694.6 142.9h-2.8M80.5 116.0h2.8M694.6 116.0h-2.8M80.5 89.2h2.8M694.6 89.2h-2.8" stroke="#000" stroke-width="1" fill="none"/>
<rect x="80.5" y="62.3" width="614.1" height="537.1" fill="none" stroke="#000" stroke-width="1"/>
<rect x="716.4" y="62.3" width="21.6" height="537.1" fill="url(#cb)" stroke="#000" stroke-width="1"/>
<path d="M738.0 581.4h-2.8M738.0 563.4h-2.8M738.0 545.4h-2.8M738.0 527.4h-2.8M738.0 509.4h-5.8M738.0 491.4h-2.8M738.0 473.4h-2.8M738.0 455.4h-2.8M738.0 437.4h-2.8M738.0 419.4h-5.8M738.0 401.4h-2.8M738.0 383.4h-2.8M738.0 365.4h-2.8M738.0 347.4h-2.8M738.0 329.3h-5.8M738.0 311.3h-2.8M738.0 293.3h-2.8M738.0 275.3h-2.8M738.0 257.3h-2.8M738.0 239.3h-5.8M738.0 221.3h-2.8M738.0 203.3h-2.8M738.0 185.3h-2.8M738.0 167.3h-2.8M738.0 149.3h-5.8M738.0 131.3h-2.8M738.0 113.3h-2.8M738.0 95.3h-2.8M738.0 77.3h-2.8" stroke="#000" stroke-width="1" fill="none"/>
<text x="73.3" y="69.3" font-size="21" text-anchor="end" fill="#0a0a0a" stroke="#0a0a0a" stroke-width="0.35">1</text>
<text x="73.3" y="203.6" font-size="21" text-anchor="end" fill="#0a0a0a" stroke="#0a0a0a" stroke-width="0.35">0.5</text>
<text x="73.3" y="337.9" font-size="21" text-anchor="end" fill="#0a0a0a" stroke="#0a0a0a" stroke-width="0.35">0</text>
<text x="73.3" y="472.1" font-size="21" text-anchor="end" fill="#0a0a0a" stroke="#0a0a0a" stroke-width="0.35">-0.5</text>
<text x="73.3" y="606.4" font-size="21" text-anchor="end" fill="#0a0a0a" stroke="#0a0a0a" stroke-width="0.35">-1</text>
<text x="80.5" y="621.8" font-size="21" text-anchor="middle" fill="#0a0a0a" stroke="#0a0a0a" stroke-width="0.35">0</text>
<text x="173.1" y="621.8" font-size="21" text-anchor="middle" fill="#0a0a0a" stroke="#0a0a0a" stroke-width="0.35">50</text>
<text x="265.6" y="621.8" font-size="21" text-anchor="middle" fill="#0a0a0a" stroke="#0a0a0a" stroke-width="0.35">100</text>
<text x="358.1" y="621.8" font-size="21" text-anchor="middle" fill="#0a0a0a" stroke="#0a0a0a" stroke-width="0.35">150</text>
<text x="450.7" y="621.8" font-size="21" text-anchor="middle" fill="#0a0a0a" stroke="#0a0a0a" stroke-width="0.35">200</text>
<text x="543.2" y="621.8" font-size="21" text-anchor="middle" fill="#0a0a0a" stroke="#0a0a0a" stroke-width="0.35">250</text>
<text x="635.8" y="621.8" font-size="21" text-anchor="middle" fill="#0a0a0a" stroke="#0a0a0a" stroke-width="0.35">300</text>
<text x="386.8" y="648.8" font-size="21" text-anchor="middle" fill="#0a0a0a" stroke="#0a0a0a" stroke-width="0.35">Z</text>
<text transform="translate(23.4,331) rotate(-90)" font-size="20.5" text-anchor="middle" fill="#0a0a0a" stroke="#0a0a0a" stroke-width="0.35">Energy (eV)</text>
<text x="743.6" y="603.4" font-size="13" fill="#1a1a1a" style="font-family:'Liberation Serif',serif">0</text>
<text x="743.6" y="513.4" font-size="13" fill="#1a1a1a" style="font-family:'Liberation Serif',serif">0. 01</text>
<text x="743.6" y="423.4" font-size="13" fill="#1a1a1a" style="font-family:'Liberation Serif',serif">0. 02</text>
<text x="743.6" y="333.4" font-size="13" fill="#1a1a1a" style="font-family:'Liberation Serif',serif">0. 03</text>
<text x="743.6" y="243.4" font-size="13" fill="#1a1a1a" style="font-family:'Liberation Serif',serif">0. 04</text>
<text x="743.6" y="153.4" font-size="13" fill="#1a1a1a" style="font-family:'Liberation Serif',serif">0. 05</text>
<text x="222.3" y="29.5" font-size="31.5" textLength="80.0" lengthAdjust="spacingAndGlyphs" fill="#231815" stroke="#231815" stroke-width="0.7">Local</text>
<text x="315.8" y="29.5" font-size="31.5" textLength="112.8" lengthAdjust="spacingAndGlyphs" fill="#231815" stroke="#231815" stroke-width="0.7">Density</text>
<text x="444.0" y="29.5" font-size="31.5" textLength="34.6" lengthAdjust="spacingAndGlyphs" fill="#231815" stroke="#231815" stroke-width="0.7">Of</text>
<text x="492.2" y="29.5" font-size="31.5" textLength="98.1" lengthAdjust="spacingAndGlyphs" fill="#231815" stroke="#231815" stroke-width="0.7">States</text>
<text x="1132.7" y="29.5" font-size="31.5" textLength="76.6" lengthAdjust="spacingAndGlyphs" fill="#231815" stroke="#231815" stroke-width="0.7">Total</text>
<text x="1223.3" y="29.5" font-size="31.5" textLength="127.8" lengthAdjust="spacingAndGlyphs" fill="#231815" stroke="#231815" stroke-width="0.7">Electron</text>
<text x="1365.8" y="29.5" font-size="31.5" textLength="114.0" lengthAdjust="spacingAndGlyphs" fill="#231815" stroke="#231815" stroke-width="0.7">Density</text>
<clipPath id="rc"><rect x="982.4" y="61.7" width="614.4" height="538.8"/></clipPath>
<g clip-path="url(#rc)"><rect x="982.4" y="61.7" width="614.4" height="538.8" fill="#31346c"/><ellipse cx="1004.0" cy="265.5" rx="36" ry="56" fill="url(#halo)"/><ellipse cx="1045.8" cy="265.5" rx="32" ry="51" fill="url(#halo)"/><ellipse cx="1087.6" cy="265.5" rx="36" ry="56" fill="url(#halo)"/><ellipse cx="1129.4" cy="265.5" rx="32" ry="51" fill="url(#halo)"/><ellipse cx="1492.2" cy="265.5" rx="32" ry="51" fill="url(#halo)"/><ellipse cx="1534.0" cy="265.5" rx="36" ry="56" fill="url(#halo)"/><ellipse cx="1575.8" cy="265.5" rx="32" ry="51" fill="url(#halo)"/><ellipse cx="1004.0" cy="330.6" rx="32" ry="51" fill="url(#halo)"/><ellipse cx="1045.8" cy="330.6" rx="36" ry="56" fill="url(#halo)"/><ellipse cx="1087.6" cy="330.6" rx="32" ry="51" fill="url(#halo)"/><ellipse cx="1129.4" cy="330.6" rx="36" ry="56" fill="url(#halo)"/><ellipse cx="1492.2" cy="330.6" rx="36" ry="56" fill="url(#halo)"/><ellipse cx="1534.0" cy="330.6" rx="32" ry="51" fill="url(#halo)"/><ellipse cx="1575.8" cy="330.6" rx="36" ry="56" fill="url(#halo)"/><ellipse cx="1004.0" cy="395.2" rx="36" ry="56" fill="url(#halo)"/><ellipse cx="1045.8" cy="395.2" rx="32" ry="51" fill="url(#halo)"/><ellipse cx="1087.6" cy="395.2" rx="36" ry="56" fill="url(#halo)"/><ellipse cx="1129.4" cy="395.2" rx="32" ry="51" fill="url(#halo)"/><ellipse cx="1492.2" cy="395.2" rx="32" ry="51" fill="url(#halo)"/><ellipse cx="1534.0" cy="395.2" rx="36" ry="56" fill="url(#halo)"/><ellipse cx="1575.8" cy="395.2" rx="32" ry="51" fill="url(#halo)"/><ellipse cx="1171.8" cy="325.0" rx="32" ry="51" fill="url(#halo)"/><ellipse cx="1450.0" cy="336.5" rx="32" ry="51" fill="url(#halo)"/><g filter="url(#bl)"><path d="M1120,330 L1172,326 L1216,350 L1243,318 L1272,348 L1297,314 L1324,346 L1350,311 L1378,343 L1406,308 L1450,335 L1500,331" fill="none" stroke="#215cb4" stroke-width="30" stroke-linejoin="round" stroke-linecap="round"/><rect x="972" y="228" width="169" height="205" rx="16" fill="#215cb4"/><rect x="1480" y="228" width="131" height="205" rx="16" fill="#215cb4"/></g><ellipse cx="1243.0" cy="307.0" rx="32" ry="39" fill="url(#halo2)"/><ellipse cx="1297.2" cy="304.0" rx="32" ry="39" fill="url(#halo2)"/><ellipse cx="1350.0" cy="301.0" rx="32" ry="39" fill="url(#halo2)"/><ellipse cx="1271.8" cy="358.0" rx="32" ry="39" fill="url(#halo2)"/><ellipse cx="1324.5" cy="355.6" rx="32" ry="39" fill="url(#halo2)"/><ellipse cx="1378.4" cy="352.0" rx="32" ry="39" fill="url(#halo2)"/><ellipse cx="1216.5" cy="359.0" rx="37" ry="49" fill="url(#halo2)"/><ellipse cx="1406.4" cy="300.0" rx="37" ry="49" fill="url(#halo2)"/><ellipse cx="1216.5" cy="359.0" rx="17" ry="30" fill="url(#fnt)"/><ellipse cx="1406.4" cy="300.0" rx="17" ry="30" fill="url(#fnt)"/><ellipse cx="1004.0" cy="265.5" rx="23.5" ry="37" fill="url(#red)"/><ellipse cx="1045.8" cy="265.5" rx="20.5" ry="33.6" fill="url(#grn)"/><ellipse cx="1087.6" cy="265.5" rx="23.5" ry="37" fill="url(#red)"/><ellipse cx="1129.4" cy="265.5" rx="20.5" ry="33.6" fill="url(#grn)"/><ellipse cx="1492.2" cy="265.5" rx="20.5" ry="33.6" fill="url(#grn)"/><ellipse cx="1534.0" cy="265.5" rx="23.5" ry="37" fill="url(#red)"/><ellipse cx="1575.8" cy="265.5" rx="20.5" ry="33.6" fill="url(#grn)"/><ellipse cx="1004.0" cy="330.6" rx="20.5" ry="33.6" fill="url(#grn)"/><ellipse cx="1045.8" cy="330.6" rx="23.5" ry="37" fill="url(#red)"/><ellipse cx="1087.6" cy="330.6" rx="20.5" ry="33.6" fill="url(#grn)"/><ellipse cx="1129.4" cy="330.6" rx="23.5" ry="37" fill="url(#red)"/><ellipse cx="1492.2" cy="330.6" rx="23.5" ry="37" fill="url(#red)"/><ellipse cx="1534.0" cy="330.6" rx="20.5" ry="33.6" fill="url(#grn)"/><ellipse cx="1575.8" cy="330.6" rx="23.5" ry="37" fill="url(#red)"/><ellipse cx="1004.0" cy="395.2" rx="23.5" ry="37" fill="url(#red)"/><ellipse cx="1045.8" cy="395.2" rx="20.5" ry="33.6" fill="url(#grn)"/><ellipse cx="1087.6" cy="395.2" rx="23.5" ry="37" fill="url(#red)"/><ellipse cx="1129.4" cy="395.2" rx="20.5" ry="33.6" fill="url(#grn)"/><ellipse cx="1492.2" cy="395.2" rx="20.5" ry="33.6" fill="url(#grn)"/><ellipse cx="1534.0" cy="395.2" rx="23.5" ry="37" fill="url(#red)"/><ellipse cx="1575.8" cy="395.2" rx="20.5" ry="33.6" fill="url(#grn)"/><ellipse cx="1171.8" cy="325.0" rx="20.5" ry="33.6" fill="url(#grn)"/><ellipse cx="1450.0" cy="336.5" rx="20.5" ry="33.6" fill="url(#grn)"/><ellipse cx="1243.0" cy="321.0" rx="6.5" ry="13" fill="url(#tail)"/><ellipse cx="1243.0" cy="307.0" rx="10.5" ry="20" fill="url(#sml)"/><ellipse cx="1297.2" cy="318.0" rx="6.5" ry="13" fill="url(#tail)"/><ellipse cx="1297.2" cy="304.0" rx="10.5" ry="20" fill="url(#sml)"/><ellipse cx="1350.0" cy="315.0" rx="6.5" ry="13" fill="url(#tail)"/><ellipse cx="1350.0" cy="301.0" rx="10.5" ry="20" fill="url(#sml)"/><ellipse cx="1271.8" cy="344.0" rx="6.5" ry="13" fill="url(#tail)"/><ellipse cx="1271.8" cy="358.0" rx="10.5" ry="20" fill="url(#sml)"/><ellipse cx="1324.5" cy="341.6" rx="6.5" ry="13" fill="url(#tail)"/><ellipse cx="1324.5" cy="355.6" rx="10.5" ry="20" fill="url(#sml)"/><ellipse cx="1378.4" cy="338.0" rx="6.5" ry="13" fill="url(#tail)"/><ellipse cx="1378.4" cy="352.0" rx="10.5" ry="20" fill="url(#sml)"/></g>
<rect x="982.4" y="61.7" width="614.4" height="538.8" fill="none" stroke="#303036" stroke-width="1.1"/>
<g shape-rendering="crispEdges"><rect x="1609.5" y="61.70" width="29.7" height="8.86" fill="#64191c"/><rect x="1609.5" y="70.16" width="29.7" height="8.86" fill="#711c21"/><rect x="1609.5" y="78.62" width="29.7" height="8.86" fill="#7f1f26"/><rect x="1609.5" y="87.07" width="29.7" height="8.86" fill="#8c232c"/><rect x="1609.5" y="95.53" width="29.7" height="8.86" fill="#9a2630"/><rect x="1609.5" y="103.99" width="29.7" height="8.86" fill="#aa2731"/><rect x="1609.5" y="112.45" width="29.7" height="8.86" fill="#ba2832"/><rect x="1609.5" y="120.90" width="29.7" height="8.86" fill="#cd282f"/><rect x="1609.5" y="129.36" width="29.7" height="8.86" fill="#df282c"/><rect x="1609.5" y="137.82" width="29.7" height="8.86" fill="#eb2c28"/><rect x="1609.5" y="146.28" width="29.7" height="8.86" fill="#ec3628"/><rect x="1609.5" y="154.74" width="29.7" height="8.86" fill="#ee4529"/><rect x="1609.5" y="163.19" width="29.7" height="8.86" fill="#f0562a"/><rect x="1609.5" y="171.65" width="29.7" height="8.86" fill="#f1632b"/><rect x="1609.5" y="180.11" width="29.7" height="8.86" fill="#f26f2c"/><rect x="1609.5" y="188.57" width="29.7" height="8.86" fill="#f37a2d"/><rect x="1609.5" y="197.02" width="29.7" height="8.86" fill="#f4852e"/><rect x="1609.5" y="205.48" width="29.7" height="8.86" fill="#f59130"/><rect x="1609.5" y="213.94" width="29.7" height="8.86" fill="#f59b31"/><rect x="1609.5" y="222.40" width="29.7" height="8.86" fill="#f6a532"/><rect x="1609.5" y="230.86" width="29.7" height="8.86" fill="#f6b233"/><rect x="1609.5" y="239.31" width="29.7" height="8.86" fill="#f5c336"/><rect x="1609.5" y="247.77" width="29.7" height="8.86" fill="#f3d33a"/><rect x="1609.5" y="256.23" width="29.7" height="8.86" fill="#f0df3c"/><rect x="1609.5" y="264.69" width="29.7" height="8.86" fill="#eae541"/><rect x="1609.5" y="273.15" width="29.7" height="8.86" fill="#dce24a"/><rect x="1609.5" y="281.60" width="29.7" height="8.86" fill="#cbdd53"/><rect x="1609.5" y="290.06" width="29.7" height="8.86" fill="#afd360"/><rect x="1609.5" y="298.52" width="29.7" height="8.86" fill="#a3d067"/><rect x="1609.5" y="306.98" width="29.7" height="8.86" fill="#98ce6d"/><rect x="1609.5" y="315.43" width="29.7" height="8.86" fill="#90cb72"/><rect x="1609.5" y="323.89" width="29.7" height="8.86" fill="#88c978"/><rect x="1609.5" y="332.35" width="29.7" height="8.86" fill="#81c77e"/><rect x="1609.5" y="340.81" width="29.7" height="8.86" fill="#7ac685"/><rect x="1609.5" y="349.27" width="29.7" height="8.86" fill="#73c58c"/><rect x="1609.5" y="357.72" width="29.7" height="8.86" fill="#6cc493"/><rect x="1609.5" y="366.18" width="29.7" height="8.86" fill="#67c29a"/><rect x="1609.5" y="374.64" width="29.7" height="8.86" fill="#62c1a1"/><rect x="1609.5" y="383.10" width="29.7" height="8.86" fill="#5ec0a9"/><rect x="1609.5" y="391.55" width="29.7" height="8.86" fill="#5abfb2"/><rect x="1609.5" y="400.01" width="29.7" height="8.86" fill="#56bebb"/><rect x="1609.5" y="408.47" width="29.7" height="8.86" fill="#50bdc5"/><rect x="1609.5" y="416.93" width="29.7" height="8.86" fill="#48bcd0"/><rect x="1609.5" y="425.39" width="29.7" height="8.86" fill="#39b9df"/><rect x="1609.5" y="433.84" width="29.7" height="8.86" fill="#2eb0e7"/><rect x="1609.5" y="442.30" width="29.7" height="8.86" fill="#2a9fe0"/><rect x="1609.5" y="450.76" width="29.7" height="8.86" fill="#288fd4"/><rect x="1609.5" y="459.22" width="29.7" height="8.86" fill="#2782cb"/><rect x="1609.5" y="467.67" width="29.7" height="8.86" fill="#2675c2"/><rect x="1609.5" y="476.13" width="29.7" height="8.86" fill="#256ebc"/><rect x="1609.5" y="484.59" width="29.7" height="8.86" fill="#2467b6"/><rect x="1609.5" y="493.05" width="29.7" height="8.86" fill="#2361b1"/><rect x="1609.5" y="501.51" width="29.7" height="8.86" fill="#225bac"/><rect x="1609.5" y="509.96" width="29.7" height="8.86" fill="#2256a9"/><rect x="1609.5" y="518.42" width="29.7" height="8.86" fill="#2151a6"/><rect x="1609.5" y="526.88" width="29.7" height="8.86" fill="#214ca4"/><rect x="1609.5" y="535.34" width="29.7" height="8.86" fill="#2047a0"/><rect x="1609.5" y="543.80" width="29.7" height="8.86" fill="#21429c"/><rect x="1609.5" y="552.25" width="29.7" height="8.86" fill="#253d94"/><rect x="1609.5" y="560.71" width="29.7" height="8.86" fill="#2a3a8b"/><rect x="1609.5" y="569.17" width="29.7" height="8.86" fill="#2d3884"/><rect x="1609.5" y="577.63" width="29.7" height="8.86" fill="#2f377c"/><rect x="1609.5" y="586.08" width="29.7" height="8.86" fill="#303574"/><rect x="1609.5" y="594.54" width="29.7" height="8.86" fill="#31346c"/></g>
<rect x="1609.5" y="61.7" width="29.7" height="541.3" fill="none" stroke="#303036" stroke-width="1.1"/>
<path d="M1639.2 508.6h-6M1639.2 414.1h-6M1639.2 319.7h-6M1639.2 225.2h-6M1639.2 130.8h-6" stroke="#2a2a2e" stroke-width="1" fill="none"/>
<text transform="translate(1645.6,611.7) scale(0.94,1)" font-size="21.6" text-anchor="start" fill="#3c3c3c">0</text>
<text transform="translate(1645.6,517.3) scale(0.94,1)" font-size="21.6" text-anchor="start" fill="#3c3c3c">0.1</text>
<text transform="translate(1645.6,422.8) scale(0.94,1)" font-size="21.6" text-anchor="start" fill="#3c3c3c">0.2</text>
<text transform="translate(1645.6,328.4) scale(0.94,1)" font-size="21.6" text-anchor="start" fill="#3c3c3c">0.3</text>
<text transform="translate(1645.6,233.9) scale(0.94,1)" font-size="21.6" text-anchor="start" fill="#3c3c3c">0.4</text>
<text transform="translate(1645.6,139.5) scale(0.94,1)" font-size="21.6" text-anchor="start" fill="#3c3c3c">0.5</text>
<text transform="translate(975.3,610.7) scale(0.93,1)" font-size="23.8" text-anchor="end" fill="#3c3c3c">0</text>
<text transform="translate(975.3,549.7) scale(0.93,1)" font-size="23.8" text-anchor="end" fill="#3c3c3c">20</text>
<text transform="translate(975.3,488.6) scale(0.93,1)" font-size="23.8" text-anchor="end" fill="#3c3c3c">40</text>
<text transform="translate(975.3,427.6) scale(0.93,1)" font-size="23.8" text-anchor="end" fill="#3c3c3c">60</text>
<text transform="translate(975.3,366.5) scale(0.93,1)" font-size="23.8" text-anchor="end" fill="#3c3c3c">80</text>
<text transform="translate(975.3,305.5) scale(0.93,1)" font-size="23.8" text-anchor="end" fill="#3c3c3c">100</text>
<text transform="translate(975.3,244.5) scale(0.93,1)" font-size="23.8" text-anchor="end" fill="#3c3c3c">120</text>
<text transform="translate(975.3,183.4) scale(0.93,1)" font-size="23.8" text-anchor="end" fill="#3c3c3c">140</text>
<text transform="translate(975.3,122.4) scale(0.93,1)" font-size="23.8" text-anchor="end" fill="#3c3c3c">160</text>
<text transform="translate(1080.2,634.1) scale(0.93,1)" font-size="23.8" text-anchor="middle" fill="#3c3c3c">50</text>
<text transform="translate(1179.2,634.1) scale(0.93,1)" font-size="23.8" text-anchor="middle" fill="#3c3c3c">100</text>
<text transform="translate(1278.2,634.1) scale(0.93,1)" font-size="23.8" text-anchor="middle" fill="#3c3c3c">150</text>
<text transform="translate(1377.2,634.1) scale(0.93,1)" font-size="23.8" text-anchor="middle" fill="#3c3c3c">200</text>
<text transform="translate(1476.2,634.1) scale(0.93,1)" font-size="23.8" text-anchor="middle" fill="#3c3c3c">250</text>
<text transform="translate(1575.2,634.1) scale(0.93,1)" font-size="23.8" text-anchor="middle" fill="#3c3c3c">300</text>
<text transform="translate(1290.3,669.0) scale(0.92,1)" font-size="27" text-anchor="middle" fill="#3c3c3c">Z</text>
<text transform="translate(927.3,331) scale(1,1.08) rotate(-90)" font-size="24.6" text-anchor="middle" fill="#3c3c3c">Y</text>
</svg>
</body></html>
